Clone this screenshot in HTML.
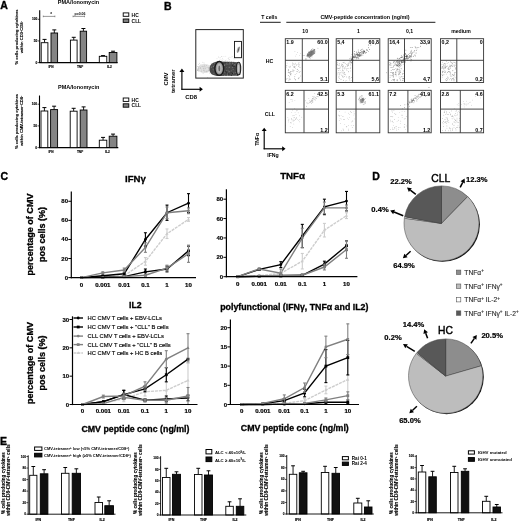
<!DOCTYPE html>
<html><head><meta charset="utf-8"><style>
html,body{margin:0;padding:0;background:#fff;}
body{width:520px;height:521px;overflow:hidden;}
svg{display:block;}
svg text{font-family:"Liberation Sans", Arial, sans-serif;}
</style></head><body>
<svg width="520" height="521" viewBox="0 0 520 521">
<rect width="520" height="521" fill="#fff"/>
<g>
<text x="0.2" y="9.2" font-size="10.5" font-weight="bold" text-anchor="start" fill="#000" stroke="#000" stroke-width="0.35">A</text>
<text x="78.5" y="4.3" font-size="5.5" font-weight="bold" text-anchor="middle" fill="#000">PMA/Ionomycin</text>
<line x1="39.7" y1="10.2" x2="39.7" y2="63.1" stroke="#000" stroke-width="1.1"/>
<line x1="39.2" y1="62.6" x2="117.6" y2="62.6" stroke="#000" stroke-width="1.1"/>
<line x1="37.7" y1="62.6" x2="39.7" y2="62.6" stroke="#000" stroke-width="0.7"/>
<text x="37.3" y="63.75" font-size="3.2" font-weight="bold" text-anchor="end" fill="#000" stroke="#000" stroke-width="0.12">0</text>
<line x1="37.7" y1="40.95" x2="39.7" y2="40.95" stroke="#000" stroke-width="0.7"/>
<text x="37.3" y="42.1" font-size="3.2" font-weight="bold" text-anchor="end" fill="#000" stroke="#000" stroke-width="0.12">50</text>
<line x1="37.7" y1="19.3" x2="39.7" y2="19.3" stroke="#000" stroke-width="0.7"/>
<text x="37.3" y="20.45" font-size="3.2" font-weight="bold" text-anchor="end" fill="#000" stroke="#000" stroke-width="0.12">100</text>
<line x1="44.55" y1="42.7" x2="44.55" y2="39.4" stroke="#000" stroke-width="0.9"/>
<line x1="42.55" y1="39.4" x2="46.55" y2="39.4" stroke="#000" stroke-width="1"/>
<rect x="41.2" y="42.7" width="6.7" height="19.9" fill="#fff" stroke="#000" stroke-width="0.9"/>
<line x1="54.3" y1="33" x2="54.3" y2="29.9" stroke="#000" stroke-width="0.9"/>
<line x1="52.3" y1="29.9" x2="56.3" y2="29.9" stroke="#000" stroke-width="1"/>
<rect x="51" y="33" width="6.6" height="29.6" fill="#848484" stroke="#000" stroke-width="0.9"/>
<line x1="73.75" y1="40.1" x2="73.75" y2="37.3" stroke="#000" stroke-width="0.9"/>
<line x1="71.75" y1="37.3" x2="75.75" y2="37.3" stroke="#000" stroke-width="1"/>
<rect x="70.4" y="40.1" width="6.7" height="22.5" fill="#fff" stroke="#000" stroke-width="0.9"/>
<line x1="83.4" y1="31.2" x2="83.4" y2="28.5" stroke="#000" stroke-width="0.9"/>
<line x1="81.4" y1="28.5" x2="85.4" y2="28.5" stroke="#000" stroke-width="1"/>
<rect x="80.2" y="31.2" width="6.4" height="31.4" fill="#848484" stroke="#000" stroke-width="0.9"/>
<line x1="103.05" y1="56.3" x2="103.05" y2="55.6" stroke="#000" stroke-width="0.9"/>
<line x1="101.05" y1="55.6" x2="105.05" y2="55.6" stroke="#000" stroke-width="1"/>
<rect x="99.3" y="56.3" width="7.5" height="6.3" fill="#fff" stroke="#000" stroke-width="0.9"/>
<line x1="113.05" y1="52.5" x2="113.05" y2="51.2" stroke="#000" stroke-width="0.9"/>
<line x1="111.05" y1="51.2" x2="115.05" y2="51.2" stroke="#000" stroke-width="1"/>
<rect x="109.2" y="52.5" width="7.7" height="10.1" fill="#848484" stroke="#000" stroke-width="0.9"/>
<text x="51" y="67.6" font-size="3.2" font-weight="bold" text-anchor="middle" fill="#000" stroke="#000" stroke-width="0.12">IFN</text>
<text x="80" y="67.6" font-size="3.2" font-weight="bold" text-anchor="middle" fill="#000" stroke="#000" stroke-width="0.12">TNF</text>
<text x="109.5" y="67.6" font-size="3.2" font-weight="bold" text-anchor="middle" fill="#000" stroke="#000" stroke-width="0.12">IL2</text>
<line x1="43.3" y1="16.4" x2="54.9" y2="16.4" stroke="#555" stroke-width="0.6"/>
<line x1="43.3" y1="15.6" x2="43.3" y2="17.2" stroke="#555" stroke-width="0.6"/>
<line x1="54.9" y1="15.6" x2="54.9" y2="17.2" stroke="#555" stroke-width="0.6"/>
<text x="51.2" y="15.8" font-size="4.5" font-weight="bold" text-anchor="middle" fill="#000">*</text>
<line x1="73" y1="16.4" x2="84.5" y2="16.4" stroke="#555" stroke-width="0.6"/>
<line x1="73" y1="15.6" x2="73" y2="17.2" stroke="#555" stroke-width="0.6"/>
<line x1="84.5" y1="15.6" x2="84.5" y2="17.2" stroke="#555" stroke-width="0.6"/>
<text x="80" y="14.9" font-size="3.5" font-weight="bold" text-anchor="middle" fill="#000">p=0.06</text>
<rect x="123.2" y="12.9" width="5.6" height="3.4" fill="#fff" stroke="#000" stroke-width="0.9"/>
<rect x="123.2" y="19" width="5.6" height="3.4" fill="#848484" stroke="#000" stroke-width="0.9"/>
<text x="131.6" y="16.5" font-size="4.9" font-weight="bold" text-anchor="start" fill="#000">HC</text>
<text x="131.6" y="22.6" font-size="4.9" font-weight="bold" text-anchor="start" fill="#000">CLL</text>
<text x="18" y="36.9" font-size="4.1" font-weight="bold" text-anchor="middle" fill="#000" transform="rotate(-90 18 36.9)" stroke="#000" stroke-width="0.1">% cells producing cytokines</text>
<text x="23.3" y="37.2" font-size="4.1" font-weight="bold" text-anchor="middle" fill="#000" transform="rotate(-90 23.3 37.2)" stroke="#000" stroke-width="0.1">within CD3<tspan dy="-1" font-size="2.3">+</tspan><tspan dy="1">CD8</tspan><tspan dy="-1" font-size="2.3">+</tspan></text>
<text x="78.7" y="88.9" font-size="5.5" font-weight="bold" text-anchor="middle" fill="#000">PMA/Ionomycin</text>
<line x1="39.5" y1="95.5" x2="39.5" y2="148.1" stroke="#000" stroke-width="1.1"/>
<line x1="39" y1="147.6" x2="118.3" y2="147.6" stroke="#000" stroke-width="1.1"/>
<line x1="37.5" y1="147.6" x2="39.5" y2="147.6" stroke="#000" stroke-width="0.7"/>
<text x="37.1" y="148.75" font-size="3.2" font-weight="bold" text-anchor="end" fill="#000" stroke="#000" stroke-width="0.12">0</text>
<line x1="37.5" y1="125.9" x2="39.5" y2="125.9" stroke="#000" stroke-width="0.7"/>
<text x="37.1" y="127.05" font-size="3.2" font-weight="bold" text-anchor="end" fill="#000" stroke="#000" stroke-width="0.12">50</text>
<line x1="37.5" y1="104.2" x2="39.5" y2="104.2" stroke="#000" stroke-width="0.7"/>
<text x="37.1" y="105.35" font-size="3.2" font-weight="bold" text-anchor="end" fill="#000" stroke="#000" stroke-width="0.12">100</text>
<line x1="44.4" y1="111" x2="44.4" y2="107.6" stroke="#000" stroke-width="0.9"/>
<line x1="42.4" y1="107.6" x2="46.4" y2="107.6" stroke="#000" stroke-width="1"/>
<rect x="41" y="111" width="6.8" height="36.6" fill="#fff" stroke="#000" stroke-width="0.9"/>
<line x1="54.1" y1="109.6" x2="54.1" y2="106.2" stroke="#000" stroke-width="0.9"/>
<line x1="52.1" y1="106.2" x2="56.1" y2="106.2" stroke="#000" stroke-width="1"/>
<rect x="50.6" y="109.6" width="7" height="38" fill="#848484" stroke="#000" stroke-width="0.9"/>
<line x1="73.65" y1="111.2" x2="73.65" y2="108.3" stroke="#000" stroke-width="0.9"/>
<line x1="71.65" y1="108.3" x2="75.65" y2="108.3" stroke="#000" stroke-width="1"/>
<rect x="70.2" y="111.2" width="6.9" height="36.4" fill="#fff" stroke="#000" stroke-width="0.9"/>
<line x1="83.6" y1="110" x2="83.6" y2="106.9" stroke="#000" stroke-width="0.9"/>
<line x1="81.6" y1="106.9" x2="85.6" y2="106.9" stroke="#000" stroke-width="1"/>
<rect x="80.2" y="110" width="6.8" height="37.6" fill="#848484" stroke="#000" stroke-width="0.9"/>
<line x1="103.05" y1="140.2" x2="103.05" y2="137.4" stroke="#000" stroke-width="0.9"/>
<line x1="101.05" y1="137.4" x2="105.05" y2="137.4" stroke="#000" stroke-width="1"/>
<rect x="99.3" y="140.2" width="7.5" height="7.4" fill="#fff" stroke="#000" stroke-width="0.9"/>
<line x1="113.05" y1="136.2" x2="113.05" y2="134.1" stroke="#000" stroke-width="0.9"/>
<line x1="111.05" y1="134.1" x2="115.05" y2="134.1" stroke="#000" stroke-width="1"/>
<rect x="109.2" y="136.2" width="7.7" height="11.4" fill="#848484" stroke="#000" stroke-width="0.9"/>
<text x="51" y="152.6" font-size="3.2" font-weight="bold" text-anchor="middle" fill="#000" stroke="#000" stroke-width="0.12">IFN</text>
<text x="80" y="152.6" font-size="3.2" font-weight="bold" text-anchor="middle" fill="#000" stroke="#000" stroke-width="0.12">TNF</text>
<text x="107.5" y="152.6" font-size="3.2" font-weight="bold" text-anchor="middle" fill="#000" stroke="#000" stroke-width="0.12">IL2</text>
<rect x="123.2" y="98" width="5.6" height="3.4" fill="#fff" stroke="#000" stroke-width="0.9"/>
<rect x="123.2" y="103.8" width="5.6" height="3.4" fill="#848484" stroke="#000" stroke-width="0.9"/>
<text x="131.6" y="101.6" font-size="4.9" font-weight="bold" text-anchor="start" fill="#000">HC</text>
<text x="131.6" y="107.4" font-size="4.9" font-weight="bold" text-anchor="start" fill="#000">CLL</text>
<text x="18" y="121.5" font-size="4.1" font-weight="bold" text-anchor="middle" fill="#000" transform="rotate(-90 18 121.5)" stroke="#000" stroke-width="0.1">% cells producing cytokines</text>
<text x="23.3" y="120.8" font-size="4.1" font-weight="bold" text-anchor="middle" fill="#000" transform="rotate(-90 23.3 120.8)" stroke="#000" stroke-width="0.1">within CMV-tetramer<tspan dy="-1" font-size="2.3">+</tspan><tspan dy="1">CD8</tspan><tspan dy="-1" font-size="2.3">+</tspan></text>
</g>
<defs><filter id="bl1" x="-20%" y="-20%" width="140%" height="140%"><feGaussianBlur stdDeviation="0.6"/></filter><filter id="bl2" x="-30%" y="-30%" width="160%" height="160%"><feGaussianBlur stdDeviation="1.2"/></filter></defs>
<text x="164" y="9.6" font-size="10.5" font-weight="bold" text-anchor="start" fill="#000" stroke="#000" stroke-width="0.35">B</text>
<g>
<ellipse cx="204.5" cy="68.5" rx="7" ry="4.6" fill="#e2e2e2" filter="url(#bl1)"/>
<circle cx="204.06" cy="63.01" r="0.45" fill="#c4c4c4"/>
<circle cx="204.05" cy="66.33" r="0.45" fill="#ccc"/>
<circle cx="200.18" cy="64.84" r="0.45" fill="#ccc"/>
<circle cx="198.86" cy="68.23" r="0.45" fill="#aaa"/>
<circle cx="199.56" cy="63.19" r="0.45" fill="#bbb"/>
<circle cx="206.13" cy="67.18" r="0.45" fill="#c4c4c4"/>
<circle cx="211.49" cy="66.46" r="0.45" fill="#ccc"/>
<circle cx="206.54" cy="65.54" r="0.45" fill="#bbb"/>
<circle cx="198.36" cy="69.21" r="0.45" fill="#bbb"/>
<circle cx="208.78" cy="70.3" r="0.45" fill="#aaa"/>
<circle cx="203.89" cy="70.23" r="0.45" fill="#aaa"/>
<circle cx="204.75" cy="65.87" r="0.45" fill="#bbb"/>
<circle cx="204.13" cy="66.91" r="0.45" fill="#bbb"/>
<circle cx="207.76" cy="77.41" r="0.45" fill="#aaa"/>
<circle cx="208.49" cy="67.86" r="0.45" fill="#bbb"/>
<circle cx="203.31" cy="68.45" r="0.45" fill="#aaa"/>
<circle cx="203.1" cy="73.37" r="0.45" fill="#bbb"/>
<circle cx="200.6" cy="67.19" r="0.45" fill="#bbb"/>
<circle cx="204.31" cy="71.1" r="0.45" fill="#bbb"/>
<circle cx="205.71" cy="68.18" r="0.45" fill="#ccc"/>
<circle cx="208.79" cy="68.36" r="0.45" fill="#aaa"/>
<circle cx="197.72" cy="69.6" r="0.45" fill="#c4c4c4"/>
<circle cx="208.49" cy="69.94" r="0.45" fill="#bbb"/>
<circle cx="197.66" cy="69.82" r="0.45" fill="#c4c4c4"/>
<circle cx="209.06" cy="69.96" r="0.45" fill="#c4c4c4"/>
<circle cx="204.88" cy="71.49" r="0.45" fill="#ccc"/>
<circle cx="203.58" cy="66.56" r="0.45" fill="#ccc"/>
<circle cx="197.51" cy="70.24" r="0.45" fill="#aaa"/>
<circle cx="211.97" cy="70.16" r="0.45" fill="#bbb"/>
<circle cx="198.11" cy="68.71" r="0.45" fill="#ccc"/>
<circle cx="200.59" cy="68.27" r="0.45" fill="#aaa"/>
<circle cx="209.54" cy="72.97" r="0.45" fill="#c4c4c4"/>
<circle cx="198.56" cy="71.4" r="0.45" fill="#ccc"/>
<circle cx="197.72" cy="70.34" r="0.45" fill="#aaa"/>
<circle cx="202.89" cy="62.21" r="0.45" fill="#c4c4c4"/>
<circle cx="209.57" cy="70.41" r="0.45" fill="#ccc"/>
<circle cx="210.06" cy="69.12" r="0.45" fill="#ccc"/>
<circle cx="209.36" cy="69.87" r="0.45" fill="#ccc"/>
<circle cx="208.02" cy="70.49" r="0.45" fill="#ccc"/>
<circle cx="207.46" cy="71.57" r="0.45" fill="#c4c4c4"/>
<circle cx="210.29" cy="66.34" r="0.45" fill="#bbb"/>
<circle cx="199.08" cy="66.85" r="0.45" fill="#aaa"/>
<circle cx="200.96" cy="67.94" r="0.45" fill="#c4c4c4"/>
<circle cx="201.75" cy="66.58" r="0.45" fill="#ccc"/>
<circle cx="210.97" cy="69.84" r="0.45" fill="#c4c4c4"/>
<circle cx="205.61" cy="68.31" r="0.45" fill="#bbb"/>
<circle cx="201.56" cy="70.02" r="0.45" fill="#bbb"/>
<circle cx="198.5" cy="67.63" r="0.45" fill="#c4c4c4"/>
<circle cx="203.96" cy="70" r="0.45" fill="#aaa"/>
<circle cx="205.2" cy="69.1" r="0.45" fill="#ccc"/>
<circle cx="198.84" cy="70.33" r="0.45" fill="#aaa"/>
<circle cx="207.03" cy="70.67" r="0.45" fill="#ccc"/>
<circle cx="206.05" cy="71.12" r="0.45" fill="#aaa"/>
<circle cx="207.66" cy="67.14" r="0.45" fill="#bbb"/>
<circle cx="197.81" cy="66.54" r="0.45" fill="#aaa"/>
<circle cx="202.12" cy="66.25" r="0.45" fill="#bbb"/>
<circle cx="198.59" cy="64.43" r="0.45" fill="#ccc"/>
<circle cx="209" cy="67.29" r="0.45" fill="#aaa"/>
<circle cx="202.6" cy="66.28" r="0.45" fill="#c4c4c4"/>
<circle cx="211.19" cy="63.37" r="0.45" fill="#bbb"/>
<circle cx="210.02" cy="65.23" r="0.45" fill="#c4c4c4"/>
<circle cx="203" cy="66.89" r="0.45" fill="#bbb"/>
<circle cx="206.33" cy="71.75" r="0.45" fill="#aaa"/>
<circle cx="210.26" cy="70.29" r="0.45" fill="#aaa"/>
<circle cx="203.13" cy="68.18" r="0.45" fill="#c4c4c4"/>
<circle cx="204.21" cy="65.09" r="0.45" fill="#bbb"/>
<circle cx="205.02" cy="66.27" r="0.45" fill="#bbb"/>
<circle cx="204.47" cy="68.3" r="0.45" fill="#ccc"/>
<circle cx="211.38" cy="71.93" r="0.45" fill="#c4c4c4"/>
<circle cx="201.21" cy="71.45" r="0.45" fill="#bbb"/>
<circle cx="222.09" cy="56.86" r="0.4" fill="#ddd"/>
<circle cx="218.46" cy="57.02" r="0.4" fill="#bbb"/>
<circle cx="228.52" cy="58.65" r="0.4" fill="#ccc"/>
<circle cx="221.19" cy="60" r="0.4" fill="#ccc"/>
<circle cx="227.95" cy="60.82" r="0.4" fill="#ccc"/>
<circle cx="233.37" cy="58.31" r="0.4" fill="#ddd"/>
<circle cx="234.26" cy="57.26" r="0.4" fill="#ccc"/>
<circle cx="224.92" cy="61.02" r="0.4" fill="#ccc"/>
<circle cx="229.65" cy="61.7" r="0.4" fill="#bbb"/>
<circle cx="232.08" cy="56.68" r="0.4" fill="#bbb"/>
<circle cx="220.05" cy="57.28" r="0.4" fill="#bbb"/>
<circle cx="222.42" cy="59.12" r="0.4" fill="#ddd"/>
<circle cx="220.94" cy="61.03" r="0.4" fill="#ddd"/>
<circle cx="223.95" cy="56.45" r="0.4" fill="#ccc"/>
<circle cx="220.12" cy="59.65" r="0.4" fill="#ddd"/>
<circle cx="229.59" cy="59.42" r="0.4" fill="#bbb"/>
<circle cx="228.28" cy="59.38" r="0.4" fill="#ddd"/>
<circle cx="216.99" cy="58.73" r="0.4" fill="#ccc"/>
<circle cx="230.92" cy="57.6" r="0.4" fill="#ccc"/>
<circle cx="231.53" cy="61.9" r="0.4" fill="#ccc"/>
<circle cx="223.82" cy="59.78" r="0.4" fill="#ddd"/>
<circle cx="228.08" cy="58.21" r="0.4" fill="#ccc"/>
<circle cx="229.06" cy="57.2" r="0.4" fill="#bbb"/>
<circle cx="219.63" cy="60.29" r="0.4" fill="#bbb"/>
<circle cx="225.77" cy="56.22" r="0.4" fill="#ccc"/>
<circle cx="219.99" cy="58.07" r="0.4" fill="#ddd"/>
<circle cx="234.83" cy="59" r="0.4" fill="#ccc"/>
<circle cx="222.66" cy="60.75" r="0.4" fill="#ccc"/>
<circle cx="215.92" cy="61.6" r="0.4" fill="#ddd"/>
<circle cx="222.54" cy="58.7" r="0.4" fill="#ccc"/>
<circle cx="227.76" cy="61.46" r="0.4" fill="#bbb"/>
<circle cx="226.1" cy="59.92" r="0.4" fill="#ddd"/>
<circle cx="231.53" cy="61.67" r="0.4" fill="#bbb"/>
<circle cx="221.18" cy="61.89" r="0.4" fill="#ccc"/>
<circle cx="229.88" cy="60.91" r="0.4" fill="#ddd"/>
<circle cx="234.33" cy="56.74" r="0.4" fill="#ccc"/>
<circle cx="233.8" cy="61.88" r="0.4" fill="#bbb"/>
<circle cx="225.81" cy="60.74" r="0.4" fill="#bbb"/>
<circle cx="219.76" cy="60.31" r="0.4" fill="#ccc"/>
<circle cx="221.67" cy="56.5" r="0.4" fill="#bbb"/>
<path d="M209.5,69 C209.5,63.5 214,61.5 219,61.5 L236,62 C240,62.5 241,65 241,68.5 C241,73 240,75.8 236,75.8 L219,76 C213,76 209.5,74 209.5,69 z" fill="#4a4a4a" filter="url(#bl1)"/>
<circle cx="220.92" cy="67.98" r="0.55" fill="#666"/>
<circle cx="225.14" cy="62.87" r="0.55" fill="#222"/>
<circle cx="223.44" cy="62.96" r="0.55" fill="#444"/>
<circle cx="220.72" cy="72.74" r="0.55" fill="#333"/>
<circle cx="224.65" cy="75.5" r="0.55" fill="#888"/>
<circle cx="226.03" cy="71.31" r="0.55" fill="#777"/>
<circle cx="238.43" cy="68.9" r="0.55" fill="#888"/>
<circle cx="213.49" cy="65.38" r="0.55" fill="#444"/>
<circle cx="227.2" cy="73.31" r="0.55" fill="#444"/>
<circle cx="229.53" cy="69.3" r="0.55" fill="#444"/>
<circle cx="218.44" cy="71.23" r="0.55" fill="#444"/>
<circle cx="217.04" cy="73.56" r="0.55" fill="#444"/>
<circle cx="226.2" cy="69.95" r="0.55" fill="#333"/>
<circle cx="222.92" cy="63.99" r="0.55" fill="#222"/>
<circle cx="228.55" cy="62.86" r="0.55" fill="#222"/>
<circle cx="225.96" cy="67.71" r="0.55" fill="#444"/>
<circle cx="214.54" cy="63.71" r="0.55" fill="#333"/>
<circle cx="212.91" cy="69.5" r="0.55" fill="#777"/>
<circle cx="237.7" cy="72.91" r="0.55" fill="#777"/>
<circle cx="218.81" cy="68.65" r="0.55" fill="#333"/>
<circle cx="220.85" cy="74.21" r="0.55" fill="#777"/>
<circle cx="226.22" cy="63.91" r="0.55" fill="#777"/>
<circle cx="228.92" cy="74.53" r="0.55" fill="#333"/>
<circle cx="231.36" cy="75.2" r="0.55" fill="#222"/>
<circle cx="216.63" cy="65.45" r="0.55" fill="#888"/>
<circle cx="219.24" cy="71.91" r="0.55" fill="#333"/>
<circle cx="228.97" cy="63.86" r="0.55" fill="#888"/>
<circle cx="227.88" cy="73.57" r="0.55" fill="#444"/>
<circle cx="218.27" cy="65.07" r="0.55" fill="#444"/>
<circle cx="236.48" cy="62.8" r="0.55" fill="#888"/>
<circle cx="222.99" cy="69.38" r="0.55" fill="#333"/>
<circle cx="226.61" cy="73.73" r="0.55" fill="#444"/>
<circle cx="229.52" cy="69.39" r="0.55" fill="#444"/>
<circle cx="228.74" cy="73.64" r="0.55" fill="#333"/>
<circle cx="237.53" cy="70.66" r="0.55" fill="#666"/>
<circle cx="237.18" cy="66.61" r="0.55" fill="#666"/>
<circle cx="236.83" cy="65.03" r="0.55" fill="#333"/>
<circle cx="236.74" cy="64.24" r="0.55" fill="#333"/>
<circle cx="214.84" cy="63.65" r="0.55" fill="#777"/>
<circle cx="213.81" cy="73.32" r="0.55" fill="#777"/>
<circle cx="226.76" cy="71.66" r="0.55" fill="#333"/>
<circle cx="222.68" cy="71.41" r="0.55" fill="#222"/>
<circle cx="213.79" cy="69.91" r="0.55" fill="#666"/>
<circle cx="237.43" cy="75.09" r="0.55" fill="#222"/>
<circle cx="231.44" cy="70.75" r="0.55" fill="#666"/>
<circle cx="225.58" cy="71.41" r="0.55" fill="#333"/>
<circle cx="234.28" cy="68.77" r="0.55" fill="#222"/>
<circle cx="212.09" cy="69.67" r="0.55" fill="#444"/>
<circle cx="237.25" cy="68.76" r="0.55" fill="#333"/>
<circle cx="216.35" cy="65.15" r="0.55" fill="#333"/>
<circle cx="239.72" cy="74.55" r="0.55" fill="#222"/>
<circle cx="227.81" cy="64.25" r="0.55" fill="#888"/>
<circle cx="224.4" cy="72.44" r="0.55" fill="#666"/>
<circle cx="222.34" cy="68.04" r="0.55" fill="#666"/>
<circle cx="223.47" cy="70.31" r="0.55" fill="#222"/>
<circle cx="229.39" cy="63.03" r="0.55" fill="#333"/>
<circle cx="216.26" cy="68.4" r="0.55" fill="#888"/>
<circle cx="221.74" cy="74.48" r="0.55" fill="#444"/>
<circle cx="215.79" cy="69.16" r="0.55" fill="#222"/>
<circle cx="220.39" cy="63.6" r="0.55" fill="#888"/>
<circle cx="236.39" cy="74.31" r="0.55" fill="#777"/>
<circle cx="227.52" cy="64.98" r="0.55" fill="#444"/>
<circle cx="239.5" cy="72.96" r="0.55" fill="#666"/>
<circle cx="219.11" cy="64.01" r="0.55" fill="#888"/>
<circle cx="233.56" cy="73.09" r="0.55" fill="#777"/>
<circle cx="214.86" cy="66.79" r="0.55" fill="#444"/>
<circle cx="231.15" cy="72.47" r="0.55" fill="#333"/>
<circle cx="222.77" cy="71.89" r="0.55" fill="#222"/>
<circle cx="234.12" cy="66.42" r="0.55" fill="#222"/>
<circle cx="211.31" cy="67.12" r="0.55" fill="#888"/>
<circle cx="237.18" cy="63.14" r="0.55" fill="#666"/>
<circle cx="238.4" cy="71.16" r="0.55" fill="#666"/>
<circle cx="217.27" cy="67.78" r="0.55" fill="#333"/>
<circle cx="226.46" cy="67.56" r="0.55" fill="#777"/>
<circle cx="229.63" cy="71.62" r="0.55" fill="#777"/>
<circle cx="239.42" cy="62.8" r="0.55" fill="#444"/>
<circle cx="214.13" cy="65.58" r="0.55" fill="#777"/>
<circle cx="222.65" cy="63.16" r="0.55" fill="#333"/>
<circle cx="229.79" cy="62.64" r="0.55" fill="#666"/>
<circle cx="218.28" cy="74.27" r="0.55" fill="#444"/>
<circle cx="226.67" cy="67.9" r="0.55" fill="#444"/>
<circle cx="227.47" cy="75.44" r="0.55" fill="#888"/>
<circle cx="223.89" cy="70.88" r="0.55" fill="#444"/>
<circle cx="228.33" cy="72.37" r="0.55" fill="#222"/>
<circle cx="222.21" cy="74.7" r="0.55" fill="#777"/>
<circle cx="224.68" cy="64.7" r="0.55" fill="#777"/>
<circle cx="226.72" cy="70.26" r="0.55" fill="#777"/>
<circle cx="238.41" cy="67.97" r="0.55" fill="#444"/>
<circle cx="222.56" cy="66.56" r="0.55" fill="#444"/>
<circle cx="219.29" cy="71.02" r="0.55" fill="#444"/>
<circle cx="237.95" cy="71.13" r="0.55" fill="#888"/>
<circle cx="219.59" cy="62.68" r="0.55" fill="#333"/>
<circle cx="227.99" cy="70.73" r="0.55" fill="#777"/>
<circle cx="232.88" cy="67.57" r="0.55" fill="#666"/>
<circle cx="232.7" cy="63.15" r="0.55" fill="#888"/>
<circle cx="238.39" cy="63.46" r="0.55" fill="#333"/>
<circle cx="223.46" cy="68.71" r="0.55" fill="#333"/>
<circle cx="212.32" cy="63.78" r="0.55" fill="#888"/>
<circle cx="237.37" cy="64.38" r="0.55" fill="#333"/>
<circle cx="228.51" cy="64" r="0.55" fill="#444"/>
<circle cx="223.1" cy="64.03" r="0.55" fill="#222"/>
<circle cx="221.34" cy="64.51" r="0.55" fill="#666"/>
<circle cx="223.84" cy="71.18" r="0.55" fill="#777"/>
<circle cx="228.43" cy="70.81" r="0.55" fill="#888"/>
<circle cx="223.17" cy="72.61" r="0.55" fill="#444"/>
<circle cx="234.64" cy="64.28" r="0.55" fill="#666"/>
<circle cx="232.29" cy="65.6" r="0.55" fill="#222"/>
<circle cx="225.59" cy="66.51" r="0.55" fill="#444"/>
<circle cx="229.12" cy="67.17" r="0.55" fill="#666"/>
<circle cx="228.68" cy="71.93" r="0.55" fill="#888"/>
<circle cx="228.16" cy="70.73" r="0.55" fill="#333"/>
<circle cx="216.5" cy="65.74" r="0.55" fill="#888"/>
<circle cx="237.56" cy="73.92" r="0.55" fill="#222"/>
<circle cx="229.22" cy="62.62" r="0.55" fill="#666"/>
<circle cx="223.33" cy="70.6" r="0.55" fill="#222"/>
<circle cx="217.45" cy="66.12" r="0.55" fill="#222"/>
<circle cx="237.47" cy="64.59" r="0.55" fill="#333"/>
<circle cx="229.3" cy="67.35" r="0.55" fill="#777"/>
<circle cx="221.27" cy="66.9" r="0.55" fill="#777"/>
<circle cx="232.6" cy="73.4" r="0.55" fill="#222"/>
<circle cx="234.27" cy="68.32" r="0.55" fill="#444"/>
<circle cx="235.3" cy="72.5" r="0.55" fill="#777"/>
<circle cx="223.31" cy="65.85" r="0.55" fill="#333"/>
<circle cx="221.7" cy="71" r="0.55" fill="#444"/>
<circle cx="220.44" cy="69.63" r="0.55" fill="#888"/>
<circle cx="234.96" cy="64.89" r="0.55" fill="#888"/>
<circle cx="221.71" cy="63.76" r="0.55" fill="#666"/>
<circle cx="213.28" cy="63.58" r="0.55" fill="#444"/>
<circle cx="227.47" cy="73.1" r="0.55" fill="#777"/>
<circle cx="219.67" cy="72.58" r="0.55" fill="#222"/>
<circle cx="219.99" cy="74.34" r="0.55" fill="#444"/>
<circle cx="213.37" cy="66.45" r="0.55" fill="#888"/>
<circle cx="233.16" cy="66.76" r="0.55" fill="#333"/>
<circle cx="217.34" cy="71.04" r="0.55" fill="#666"/>
<circle cx="221.63" cy="64.03" r="0.55" fill="#888"/>
<circle cx="223.79" cy="70.23" r="0.55" fill="#888"/>
<circle cx="237.49" cy="68.19" r="0.55" fill="#666"/>
<circle cx="224.29" cy="65.38" r="0.55" fill="#888"/>
<circle cx="236.95" cy="65.73" r="0.55" fill="#666"/>
<circle cx="235.03" cy="62.81" r="0.55" fill="#888"/>
<circle cx="222.47" cy="67.54" r="0.55" fill="#333"/>
<circle cx="232.43" cy="67.29" r="0.55" fill="#777"/>
<circle cx="226.68" cy="73.37" r="0.55" fill="#444"/>
<circle cx="216.14" cy="63.67" r="0.55" fill="#777"/>
<circle cx="236.55" cy="66.16" r="0.55" fill="#222"/>
<circle cx="217.42" cy="63.25" r="0.55" fill="#333"/>
<circle cx="227.46" cy="75.06" r="0.55" fill="#888"/>
<circle cx="235.41" cy="68" r="0.55" fill="#444"/>
<circle cx="226.86" cy="72.74" r="0.55" fill="#222"/>
<circle cx="220.7" cy="66.06" r="0.55" fill="#222"/>
<circle cx="237.07" cy="63.6" r="0.55" fill="#888"/>
<circle cx="229.95" cy="63.77" r="0.55" fill="#888"/>
<circle cx="223.24" cy="71.76" r="0.55" fill="#777"/>
<circle cx="233.2" cy="69.28" r="0.55" fill="#777"/>
<circle cx="222.44" cy="66.89" r="0.55" fill="#666"/>
<circle cx="230.5" cy="68.92" r="0.55" fill="#444"/>
<circle cx="234.34" cy="63.44" r="0.55" fill="#444"/>
<circle cx="237.53" cy="67.84" r="0.55" fill="#888"/>
<circle cx="221.13" cy="62.55" r="0.55" fill="#777"/>
<circle cx="235.18" cy="74.05" r="0.55" fill="#444"/>
<ellipse cx="219.3" cy="68.4" rx="4.4" ry="6.9" fill="#9a9a9a" stroke="#1a1a1a" stroke-width="1.4"/>
<ellipse cx="219.3" cy="68.4" rx="2.4" ry="4.6" fill="#b8b8b8"/>
<ellipse cx="219.3" cy="68.4" rx="0.9" ry="2.8" fill="#666"/>
<ellipse cx="238.5" cy="68.6" rx="2.2" ry="6.3" fill="#9f9f9f" stroke="#222" stroke-width="1.1"/>
<ellipse cx="238.5" cy="68.6" rx="0.8" ry="4" fill="#c8c8c8"/>
<rect x="234.5" y="41.4" width="7" height="16.3" fill="none" stroke="#111" stroke-width="0.9"/>
<ellipse cx="238.4" cy="49.8" rx="0.9" ry="3.2" fill="#555" transform="rotate(18 238.4 49.8)" filter="url(#bl1)"/>
<rect x="195.8" y="29.6" width="47.5" height="48.5" fill="none" stroke="#222" stroke-width="1"/>
</g>
<line x1="181.9" y1="89.85" x2="181.9" y2="71.2" stroke="#000" stroke-width="1.15"/>
<line x1="181.35" y1="89.3" x2="200.3" y2="89.3" stroke="#000" stroke-width="1.15"/>
<path d="M181.9,68.6 L179.4,71.9 L184.4,71.9 z" fill="#000"/>
<path d="M202.9,89.3 L199.6,86.8 L199.6,91.8 z" fill="#000"/>
<text x="167.9" y="79" font-size="5.9" font-weight="bold" text-anchor="middle" fill="#000" transform="rotate(-90 167.9 79)">CMV</text>
<text x="175.2" y="81.3" font-size="5.9" font-weight="bold" text-anchor="middle" fill="#000" transform="rotate(-90 175.2 81.3)">tetramer</text>
<text x="191.1" y="98.5" font-size="5.9" font-weight="bold" text-anchor="middle" fill="#000">CD8</text>
<text x="261.2" y="19.2" font-size="5.2" font-weight="bold" text-anchor="start" fill="#000">T cells</text>
<line x1="260" y1="22.3" x2="280.7" y2="22.3" stroke="#000" stroke-width="0.9"/>
<line x1="286.3" y1="22.3" x2="435.4" y2="22.3" stroke="#000" stroke-width="0.9"/>
<text x="365" y="19.2" font-size="5.4" font-weight="bold" text-anchor="middle" fill="#000">CMV-peptide concentration (ng/ml)</text>
<text x="305.2" y="33.4" font-size="5.1" font-weight="bold" text-anchor="middle" fill="#000">10</text>
<text x="358.3" y="33.4" font-size="5.1" font-weight="bold" text-anchor="middle" fill="#000">1</text>
<text x="409.5" y="33.4" font-size="5.1" font-weight="bold" text-anchor="middle" fill="#000">0,1</text>
<text x="461" y="33.4" font-size="5.1" font-weight="bold" text-anchor="middle" fill="#000">medium</text>
<text x="269.5" y="63.2" font-size="5.2" font-weight="bold" text-anchor="middle" fill="#000">HC</text>
<text x="269.8" y="116" font-size="5.2" font-weight="bold" text-anchor="middle" fill="#000">CLL</text>
<ellipse cx="311" cy="53.5" rx="4.8" ry="2.6" transform="rotate(-40 311 53.5)" fill="#888" filter="url(#bl1)"/>
<circle cx="307.66" cy="54.39" r="0.42" fill="#555"/>
<circle cx="310.21" cy="51.9" r="0.42" fill="#888"/>
<circle cx="311.6" cy="51.94" r="0.42" fill="#666"/>
<circle cx="312.71" cy="51.62" r="0.42" fill="#666"/>
<circle cx="310.48" cy="55.78" r="0.42" fill="#777"/>
<circle cx="312.01" cy="56.9" r="0.42" fill="#888"/>
<circle cx="310.59" cy="54.73" r="0.42" fill="#666"/>
<circle cx="310.06" cy="52.85" r="0.42" fill="#555"/>
<circle cx="310.31" cy="53.57" r="0.42" fill="#888"/>
<circle cx="310.88" cy="53.13" r="0.42" fill="#555"/>
<circle cx="312.19" cy="54.18" r="0.42" fill="#666"/>
<circle cx="307.64" cy="55.02" r="0.42" fill="#666"/>
<circle cx="306.69" cy="59.01" r="0.42" fill="#888"/>
<circle cx="313.97" cy="53.82" r="0.42" fill="#777"/>
<circle cx="304.73" cy="55.44" r="0.42" fill="#888"/>
<circle cx="311.13" cy="51.21" r="0.42" fill="#888"/>
<circle cx="311.83" cy="51.54" r="0.42" fill="#555"/>
<circle cx="308.94" cy="55.42" r="0.42" fill="#555"/>
<circle cx="311.33" cy="54.18" r="0.42" fill="#888"/>
<circle cx="314.33" cy="49.65" r="0.42" fill="#777"/>
<circle cx="310.32" cy="53.23" r="0.42" fill="#666"/>
<circle cx="312.82" cy="48.85" r="0.42" fill="#777"/>
<circle cx="309.08" cy="55.63" r="0.42" fill="#888"/>
<circle cx="309.03" cy="54.38" r="0.42" fill="#666"/>
<circle cx="310.08" cy="52.98" r="0.42" fill="#666"/>
<circle cx="303.07" cy="55.49" r="0.42" fill="#777"/>
<circle cx="309.7" cy="54.48" r="0.42" fill="#666"/>
<circle cx="314.86" cy="49.77" r="0.42" fill="#666"/>
<circle cx="310.52" cy="52.97" r="0.42" fill="#777"/>
<circle cx="307.46" cy="54.86" r="0.42" fill="#888"/>
<circle cx="309.74" cy="53.66" r="0.42" fill="#777"/>
<circle cx="312.08" cy="52.49" r="0.42" fill="#666"/>
<circle cx="311.15" cy="52.72" r="0.42" fill="#888"/>
<circle cx="312.58" cy="54.51" r="0.42" fill="#888"/>
<circle cx="314.65" cy="53.39" r="0.42" fill="#777"/>
<circle cx="310.55" cy="55.79" r="0.42" fill="#777"/>
<circle cx="313.94" cy="50.54" r="0.42" fill="#555"/>
<circle cx="309.51" cy="57.29" r="0.42" fill="#555"/>
<circle cx="307.34" cy="53.89" r="0.42" fill="#555"/>
<circle cx="310.15" cy="53.84" r="0.42" fill="#888"/>
<circle cx="308.66" cy="53.1" r="0.42" fill="#777"/>
<circle cx="307.64" cy="55.51" r="0.42" fill="#555"/>
<circle cx="311.64" cy="49.42" r="0.42" fill="#666"/>
<circle cx="311.23" cy="52.39" r="0.42" fill="#888"/>
<circle cx="313.4" cy="49.7" r="0.42" fill="#777"/>
<circle cx="309.2" cy="52.22" r="0.42" fill="#555"/>
<circle cx="311.16" cy="54.64" r="0.42" fill="#555"/>
<circle cx="310.11" cy="58.79" r="0.42" fill="#888"/>
<circle cx="309.19" cy="53.08" r="0.42" fill="#888"/>
<circle cx="311.91" cy="53.15" r="0.42" fill="#555"/>
<circle cx="313.87" cy="52.93" r="0.42" fill="#666"/>
<circle cx="312.51" cy="53.93" r="0.42" fill="#888"/>
<circle cx="309.39" cy="54.31" r="0.42" fill="#666"/>
<circle cx="317.93" cy="48.18" r="0.42" fill="#888"/>
<circle cx="309.98" cy="54.76" r="0.42" fill="#888"/>
<circle cx="311.38" cy="52.45" r="0.42" fill="#666"/>
<circle cx="308.95" cy="51.21" r="0.42" fill="#888"/>
<circle cx="305.52" cy="58.98" r="0.42" fill="#555"/>
<circle cx="308.55" cy="52.64" r="0.42" fill="#777"/>
<circle cx="314.39" cy="49.74" r="0.42" fill="#555"/>
<circle cx="311.1" cy="54.65" r="0.42" fill="#777"/>
<circle cx="309.43" cy="53.95" r="0.42" fill="#888"/>
<circle cx="312.03" cy="54.26" r="0.42" fill="#777"/>
<circle cx="310.63" cy="51" r="0.42" fill="#666"/>
<circle cx="311.79" cy="55.32" r="0.42" fill="#777"/>
<circle cx="308.11" cy="55.42" r="0.42" fill="#666"/>
<circle cx="308.78" cy="54.75" r="0.42" fill="#666"/>
<circle cx="309.9" cy="54.15" r="0.42" fill="#666"/>
<circle cx="310.13" cy="52.98" r="0.42" fill="#888"/>
<circle cx="306.51" cy="55.95" r="0.42" fill="#777"/>
<circle cx="287.78" cy="78.64" r="0.4" fill="#aaa"/>
<circle cx="292.98" cy="64.79" r="0.4" fill="#999"/>
<circle cx="289.84" cy="73.03" r="0.4" fill="#888"/>
<circle cx="294.34" cy="67.39" r="0.4" fill="#aaa"/>
<circle cx="294.92" cy="64.77" r="0.4" fill="#888"/>
<circle cx="290.54" cy="79.09" r="0.4" fill="#999"/>
<circle cx="297.12" cy="69.22" r="0.4" fill="#999"/>
<circle cx="289.1" cy="72.64" r="0.4" fill="#888"/>
<circle cx="292.86" cy="69.96" r="0.4" fill="#999"/>
<circle cx="290.81" cy="74.92" r="0.4" fill="#777"/>
<circle cx="295.11" cy="74.35" r="0.4" fill="#888"/>
<circle cx="288.72" cy="70.12" r="0.4" fill="#888"/>
<circle cx="288.5" cy="69.65" r="0.4" fill="#777"/>
<circle cx="288.93" cy="72.12" r="0.4" fill="#aaa"/>
<circle cx="289.92" cy="79.74" r="0.4" fill="#888"/>
<circle cx="295.48" cy="63.2" r="0.4" fill="#999"/>
<circle cx="292.14" cy="71.7" r="0.4" fill="#888"/>
<circle cx="293.08" cy="70.11" r="0.4" fill="#777"/>
<circle cx="297.02" cy="71.49" r="0.4" fill="#777"/>
<circle cx="298.24" cy="78.32" r="0.4" fill="#777"/>
<circle cx="298.05" cy="64.67" r="0.4" fill="#888"/>
<circle cx="299.17" cy="72.23" r="0.4" fill="#777"/>
<circle cx="292.38" cy="62.95" r="0.4" fill="#888"/>
<circle cx="290.64" cy="73.9" r="0.4" fill="#777"/>
<circle cx="296.75" cy="73.55" r="0.4" fill="#aaa"/>
<circle cx="298.86" cy="78.73" r="0.4" fill="#999"/>
<circle cx="288.24" cy="70.77" r="0.4" fill="#777"/>
<circle cx="300.12" cy="71.3" r="0.4" fill="#888"/>
<circle cx="293.87" cy="66.92" r="0.4" fill="#aaa"/>
<circle cx="295.7" cy="79.89" r="0.4" fill="#888"/>
<circle cx="300.49" cy="76.02" r="0.4" fill="#aaa"/>
<circle cx="298.63" cy="70.3" r="0.4" fill="#999"/>
<circle cx="289.6" cy="76.31" r="0.4" fill="#888"/>
<circle cx="299.15" cy="64.32" r="0.4" fill="#999"/>
<circle cx="288.23" cy="72.45" r="0.4" fill="#777"/>
<circle cx="286.51" cy="67.01" r="0.4" fill="#aaa"/>
<circle cx="286.83" cy="65.68" r="0.4" fill="#777"/>
<circle cx="299.03" cy="77.59" r="0.4" fill="#777"/>
<circle cx="288.48" cy="75.31" r="0.4" fill="#999"/>
<circle cx="287.14" cy="63.08" r="0.4" fill="#aaa"/>
<circle cx="290.81" cy="71.72" r="0.4" fill="#777"/>
<circle cx="298.8" cy="66.25" r="0.4" fill="#888"/>
<circle cx="289.24" cy="78" r="0.4" fill="#aaa"/>
<circle cx="299.09" cy="62.8" r="0.4" fill="#999"/>
<circle cx="293.96" cy="66.87" r="0.4" fill="#888"/>
<circle cx="295.6" cy="68.16" r="0.4" fill="#aaa"/>
<circle cx="299.96" cy="67.57" r="0.4" fill="#777"/>
<circle cx="296.48" cy="65" r="0.4" fill="#777"/>
<circle cx="292.31" cy="65.63" r="0.4" fill="#aaa"/>
<circle cx="288.19" cy="75.29" r="0.4" fill="#aaa"/>
<circle cx="289.03" cy="66.86" r="0.4" fill="#aaa"/>
<circle cx="297.57" cy="69.39" r="0.4" fill="#888"/>
<circle cx="294.76" cy="66.74" r="0.4" fill="#aaa"/>
<circle cx="299.04" cy="65.84" r="0.4" fill="#999"/>
<circle cx="290.38" cy="74.34" r="0.4" fill="#888"/>
<circle cx="292.98" cy="63.91" r="0.4" fill="#888"/>
<circle cx="293.93" cy="63.34" r="0.4" fill="#aaa"/>
<circle cx="294.02" cy="70.33" r="0.4" fill="#888"/>
<circle cx="288.8" cy="80.78" r="0.4" fill="#999"/>
<circle cx="289.94" cy="67.66" r="0.4" fill="#888"/>
<circle cx="289.11" cy="79.1" r="0.4" fill="#888"/>
<circle cx="295.21" cy="79.45" r="0.4" fill="#777"/>
<circle cx="286.54" cy="78.99" r="0.4" fill="#888"/>
<circle cx="289.02" cy="72.79" r="0.4" fill="#aaa"/>
<circle cx="290.99" cy="71.44" r="0.4" fill="#888"/>
<circle cx="293.73" cy="71.85" r="0.4" fill="#999"/>
<circle cx="294.81" cy="76.77" r="0.4" fill="#888"/>
<circle cx="295.01" cy="66.85" r="0.4" fill="#777"/>
<circle cx="294.17" cy="67.24" r="0.4" fill="#999"/>
<circle cx="290.14" cy="72.57" r="0.4" fill="#777"/>
<circle cx="290.16" cy="66.25" r="0.4" fill="#888"/>
<circle cx="294.52" cy="78.65" r="0.4" fill="#999"/>
<circle cx="291.05" cy="73.75" r="0.4" fill="#777"/>
<circle cx="297.79" cy="71.82" r="0.4" fill="#aaa"/>
<circle cx="298.49" cy="63.07" r="0.4" fill="#888"/>
<circle cx="300.25" cy="53.57" r="0.4" fill="#aaa"/>
<circle cx="296.29" cy="54.53" r="0.4" fill="#bbb"/>
<circle cx="299.51" cy="55.46" r="0.4" fill="#bbb"/>
<circle cx="297.34" cy="52.66" r="0.4" fill="#aaa"/>
<circle cx="295.36" cy="56.04" r="0.4" fill="#bbb"/>
<circle cx="294.94" cy="51.49" r="0.4" fill="#bbb"/>
<circle cx="364.18" cy="52" r="0.45" fill="#666"/>
<circle cx="355.31" cy="54.16" r="0.45" fill="#444"/>
<circle cx="365.89" cy="52.41" r="0.45" fill="#555"/>
<circle cx="363.15" cy="53.49" r="0.45" fill="#444"/>
<circle cx="364.27" cy="51.31" r="0.45" fill="#555"/>
<circle cx="365.02" cy="52.03" r="0.45" fill="#777"/>
<circle cx="357.33" cy="55.85" r="0.45" fill="#444"/>
<circle cx="354.41" cy="54.79" r="0.45" fill="#555"/>
<circle cx="358.65" cy="55.56" r="0.45" fill="#555"/>
<circle cx="357.27" cy="55.93" r="0.45" fill="#555"/>
<circle cx="356.49" cy="57.24" r="0.45" fill="#555"/>
<circle cx="364.23" cy="51.73" r="0.45" fill="#444"/>
<circle cx="357.47" cy="53.17" r="0.45" fill="#555"/>
<circle cx="354.21" cy="57.84" r="0.45" fill="#555"/>
<circle cx="353.38" cy="60.03" r="0.45" fill="#555"/>
<circle cx="355.93" cy="57.03" r="0.45" fill="#555"/>
<circle cx="353.97" cy="57.81" r="0.45" fill="#777"/>
<circle cx="358.46" cy="52.84" r="0.45" fill="#777"/>
<circle cx="366.66" cy="49.69" r="0.45" fill="#777"/>
<circle cx="361.15" cy="54.84" r="0.45" fill="#444"/>
<circle cx="363.12" cy="52.39" r="0.45" fill="#666"/>
<circle cx="353.86" cy="56.18" r="0.45" fill="#666"/>
<circle cx="352.32" cy="58.42" r="0.45" fill="#555"/>
<circle cx="359.17" cy="56.05" r="0.45" fill="#555"/>
<circle cx="356.44" cy="53.05" r="0.45" fill="#555"/>
<circle cx="358.56" cy="51.96" r="0.45" fill="#444"/>
<circle cx="363.56" cy="51.9" r="0.45" fill="#777"/>
<circle cx="349.92" cy="61.13" r="0.45" fill="#777"/>
<circle cx="356.2" cy="58.91" r="0.45" fill="#444"/>
<circle cx="357.76" cy="57.54" r="0.45" fill="#777"/>
<circle cx="361.94" cy="52.95" r="0.45" fill="#555"/>
<circle cx="363.47" cy="52.06" r="0.45" fill="#777"/>
<circle cx="351.36" cy="59.55" r="0.45" fill="#666"/>
<circle cx="357.6" cy="57.13" r="0.45" fill="#777"/>
<circle cx="361.51" cy="53.91" r="0.45" fill="#666"/>
<circle cx="353.36" cy="57.54" r="0.45" fill="#555"/>
<circle cx="352.27" cy="60.93" r="0.45" fill="#555"/>
<circle cx="363.39" cy="52.83" r="0.45" fill="#555"/>
<circle cx="366.49" cy="52.54" r="0.45" fill="#777"/>
<circle cx="349.91" cy="58.79" r="0.45" fill="#666"/>
<circle cx="357.74" cy="54.72" r="0.45" fill="#555"/>
<circle cx="354.28" cy="56.81" r="0.45" fill="#444"/>
<circle cx="368.46" cy="47.72" r="0.45" fill="#555"/>
<circle cx="359.23" cy="53.03" r="0.45" fill="#777"/>
<circle cx="363.98" cy="52.85" r="0.45" fill="#777"/>
<circle cx="356.08" cy="57.34" r="0.45" fill="#777"/>
<circle cx="357.42" cy="54.28" r="0.45" fill="#777"/>
<circle cx="362.88" cy="54.99" r="0.45" fill="#666"/>
<circle cx="356.58" cy="54.86" r="0.45" fill="#444"/>
<circle cx="356.78" cy="52.02" r="0.45" fill="#555"/>
<circle cx="355.18" cy="57.03" r="0.45" fill="#666"/>
<circle cx="358.5" cy="54.45" r="0.45" fill="#777"/>
<circle cx="368.34" cy="51.42" r="0.45" fill="#777"/>
<circle cx="359.07" cy="56.15" r="0.45" fill="#666"/>
<circle cx="354.68" cy="57.45" r="0.45" fill="#666"/>
<circle cx="360.33" cy="53.89" r="0.45" fill="#666"/>
<circle cx="363.5" cy="50.31" r="0.45" fill="#666"/>
<circle cx="361.75" cy="49.44" r="0.45" fill="#777"/>
<circle cx="355.98" cy="57.42" r="0.45" fill="#666"/>
<circle cx="367.1" cy="50.07" r="0.45" fill="#555"/>
<circle cx="358.88" cy="52.13" r="0.45" fill="#777"/>
<circle cx="357.41" cy="55.06" r="0.45" fill="#444"/>
<circle cx="362.63" cy="49.1" r="0.45" fill="#777"/>
<circle cx="363.77" cy="51.21" r="0.45" fill="#555"/>
<circle cx="356.77" cy="54.58" r="0.45" fill="#777"/>
<circle cx="351.67" cy="62.71" r="0.45" fill="#555"/>
<circle cx="355.42" cy="55.84" r="0.45" fill="#666"/>
<circle cx="356.89" cy="54.63" r="0.45" fill="#444"/>
<circle cx="370.81" cy="45.07" r="0.45" fill="#444"/>
<circle cx="360.31" cy="55.74" r="0.45" fill="#444"/>
<circle cx="353.63" cy="56.2" r="0.45" fill="#666"/>
<circle cx="359.15" cy="55.23" r="0.45" fill="#444"/>
<circle cx="357" cy="58.3" r="0.45" fill="#777"/>
<circle cx="352.02" cy="54.6" r="0.45" fill="#555"/>
<circle cx="363.76" cy="53.65" r="0.45" fill="#777"/>
<circle cx="359.83" cy="52.61" r="0.45" fill="#777"/>
<circle cx="358.38" cy="57.73" r="0.45" fill="#777"/>
<circle cx="359.91" cy="55.27" r="0.45" fill="#666"/>
<circle cx="354.21" cy="53.66" r="0.45" fill="#555"/>
<circle cx="368.41" cy="45.05" r="0.45" fill="#444"/>
<circle cx="361.87" cy="51.74" r="0.45" fill="#777"/>
<circle cx="351.22" cy="59.07" r="0.45" fill="#444"/>
<circle cx="365.7" cy="53.4" r="0.45" fill="#777"/>
<circle cx="362.89" cy="52.56" r="0.45" fill="#777"/>
<circle cx="359.98" cy="56.4" r="0.45" fill="#666"/>
<circle cx="357.35" cy="53.98" r="0.45" fill="#666"/>
<circle cx="360.72" cy="52.51" r="0.45" fill="#555"/>
<circle cx="353.79" cy="56.94" r="0.45" fill="#555"/>
<circle cx="351.06" cy="57.05" r="0.45" fill="#555"/>
<circle cx="363.05" cy="53.23" r="0.45" fill="#666"/>
<circle cx="359.89" cy="55.07" r="0.45" fill="#444"/>
<circle cx="351.47" cy="59.6" r="0.45" fill="#555"/>
<circle cx="359.16" cy="55.79" r="0.45" fill="#666"/>
<circle cx="354.93" cy="55.69" r="0.45" fill="#555"/>
<circle cx="367.08" cy="50.38" r="0.45" fill="#444"/>
<circle cx="360.94" cy="52.47" r="0.45" fill="#666"/>
<circle cx="354.61" cy="51.63" r="0.45" fill="#444"/>
<circle cx="350.8" cy="61.68" r="0.45" fill="#777"/>
<circle cx="360.17" cy="54.36" r="0.45" fill="#777"/>
<circle cx="360.62" cy="50.31" r="0.45" fill="#666"/>
<circle cx="361.58" cy="55.69" r="0.45" fill="#777"/>
<circle cx="358.19" cy="50.07" r="0.45" fill="#777"/>
<circle cx="356.89" cy="54.7" r="0.45" fill="#666"/>
<circle cx="359.47" cy="53.27" r="0.45" fill="#555"/>
<circle cx="361.41" cy="51.08" r="0.45" fill="#666"/>
<circle cx="362.41" cy="51.13" r="0.45" fill="#555"/>
<circle cx="358.69" cy="55" r="0.45" fill="#555"/>
<circle cx="359.01" cy="56.25" r="0.45" fill="#666"/>
<circle cx="360.72" cy="55.45" r="0.45" fill="#666"/>
<circle cx="352.48" cy="57.78" r="0.45" fill="#555"/>
<circle cx="369.59" cy="49.47" r="0.45" fill="#666"/>
<circle cx="358.72" cy="54.53" r="0.45" fill="#666"/>
<circle cx="341.86" cy="65.64" r="0.45" fill="#555"/>
<circle cx="364.19" cy="51.22" r="0.45" fill="#444"/>
<circle cx="351.75" cy="60.57" r="0.45" fill="#777"/>
<circle cx="355.48" cy="56.23" r="0.45" fill="#666"/>
<circle cx="358.78" cy="58.74" r="0.45" fill="#555"/>
<circle cx="364.5" cy="51.06" r="0.45" fill="#444"/>
<circle cx="359.7" cy="54.44" r="0.45" fill="#555"/>
<circle cx="351.28" cy="58.6" r="0.45" fill="#666"/>
<circle cx="342.52" cy="76.19" r="0.4" fill="#999"/>
<circle cx="338.38" cy="70.58" r="0.4" fill="#888"/>
<circle cx="338.39" cy="68.61" r="0.4" fill="#999"/>
<circle cx="348.84" cy="76.95" r="0.4" fill="#aaa"/>
<circle cx="343.09" cy="77.16" r="0.4" fill="#777"/>
<circle cx="350.61" cy="70.9" r="0.4" fill="#aaa"/>
<circle cx="341.01" cy="79.24" r="0.4" fill="#777"/>
<circle cx="337.63" cy="64.25" r="0.4" fill="#999"/>
<circle cx="342.94" cy="68.7" r="0.4" fill="#999"/>
<circle cx="348.85" cy="68.61" r="0.4" fill="#aaa"/>
<circle cx="342.46" cy="66.94" r="0.4" fill="#999"/>
<circle cx="345.82" cy="66.66" r="0.4" fill="#888"/>
<circle cx="347.88" cy="65.62" r="0.4" fill="#888"/>
<circle cx="345.15" cy="74.76" r="0.4" fill="#888"/>
<circle cx="342.36" cy="64.53" r="0.4" fill="#999"/>
<circle cx="342.4" cy="69.9" r="0.4" fill="#777"/>
<circle cx="343.1" cy="62.52" r="0.4" fill="#777"/>
<circle cx="342" cy="71.97" r="0.4" fill="#888"/>
<circle cx="337.79" cy="64.9" r="0.4" fill="#777"/>
<circle cx="348.06" cy="63.61" r="0.4" fill="#999"/>
<circle cx="343.52" cy="80.27" r="0.4" fill="#888"/>
<circle cx="344.49" cy="76.72" r="0.4" fill="#888"/>
<circle cx="348.88" cy="62.86" r="0.4" fill="#aaa"/>
<circle cx="350.77" cy="67.78" r="0.4" fill="#888"/>
<circle cx="348.39" cy="71.74" r="0.4" fill="#777"/>
<circle cx="339.57" cy="73.88" r="0.4" fill="#aaa"/>
<circle cx="350.25" cy="62.58" r="0.4" fill="#999"/>
<circle cx="349.93" cy="78.2" r="0.4" fill="#aaa"/>
<circle cx="344.57" cy="72.57" r="0.4" fill="#777"/>
<circle cx="339.2" cy="75.9" r="0.4" fill="#aaa"/>
<circle cx="343.61" cy="70.61" r="0.4" fill="#aaa"/>
<circle cx="344.52" cy="68.82" r="0.4" fill="#777"/>
<circle cx="344.71" cy="62.13" r="0.4" fill="#aaa"/>
<circle cx="343.76" cy="73.07" r="0.4" fill="#777"/>
<circle cx="350.54" cy="64.46" r="0.4" fill="#aaa"/>
<circle cx="342.09" cy="66.49" r="0.4" fill="#999"/>
<circle cx="340.14" cy="70.64" r="0.4" fill="#aaa"/>
<circle cx="338.23" cy="80.38" r="0.4" fill="#aaa"/>
<circle cx="339.05" cy="65.15" r="0.4" fill="#888"/>
<circle cx="349.11" cy="77.05" r="0.4" fill="#999"/>
<circle cx="351.41" cy="62.76" r="0.4" fill="#777"/>
<circle cx="347.46" cy="66.39" r="0.4" fill="#999"/>
<circle cx="343.86" cy="71.96" r="0.4" fill="#aaa"/>
<circle cx="340.24" cy="66.95" r="0.4" fill="#888"/>
<circle cx="338.53" cy="72.32" r="0.4" fill="#aaa"/>
<circle cx="349.78" cy="62.91" r="0.4" fill="#aaa"/>
<circle cx="349.47" cy="76.53" r="0.4" fill="#777"/>
<circle cx="348.65" cy="64.46" r="0.4" fill="#999"/>
<circle cx="340" cy="68.01" r="0.4" fill="#999"/>
<circle cx="350.87" cy="65.78" r="0.4" fill="#999"/>
<circle cx="339.14" cy="65.04" r="0.4" fill="#aaa"/>
<circle cx="337.94" cy="74.8" r="0.4" fill="#aaa"/>
<circle cx="350.13" cy="62.9" r="0.4" fill="#888"/>
<circle cx="344.95" cy="67.67" r="0.4" fill="#888"/>
<circle cx="345.34" cy="80.89" r="0.4" fill="#aaa"/>
<circle cx="337.72" cy="68.12" r="0.4" fill="#999"/>
<circle cx="349.33" cy="79.95" r="0.4" fill="#888"/>
<circle cx="347.23" cy="65.02" r="0.4" fill="#888"/>
<circle cx="339.9" cy="72.82" r="0.4" fill="#777"/>
<circle cx="339.31" cy="63.76" r="0.4" fill="#999"/>
<circle cx="346.04" cy="68.47" r="0.4" fill="#888"/>
<circle cx="337.61" cy="62.85" r="0.4" fill="#888"/>
<circle cx="347.81" cy="68.53" r="0.4" fill="#999"/>
<circle cx="348.28" cy="65.4" r="0.4" fill="#777"/>
<circle cx="346.34" cy="69.78" r="0.4" fill="#aaa"/>
<circle cx="341.41" cy="64.11" r="0.4" fill="#777"/>
<circle cx="350.68" cy="68.25" r="0.4" fill="#aaa"/>
<circle cx="340.79" cy="72.8" r="0.4" fill="#999"/>
<circle cx="339.22" cy="78.6" r="0.4" fill="#777"/>
<circle cx="346.97" cy="70.37" r="0.4" fill="#aaa"/>
<circle cx="342.93" cy="75.99" r="0.4" fill="#888"/>
<circle cx="343.78" cy="62.75" r="0.4" fill="#aaa"/>
<circle cx="342.17" cy="72.89" r="0.4" fill="#999"/>
<circle cx="341.6" cy="75.05" r="0.4" fill="#888"/>
<circle cx="337.71" cy="68.81" r="0.4" fill="#999"/>
<circle cx="342.93" cy="66.93" r="0.4" fill="#777"/>
<circle cx="348.99" cy="78.08" r="0.4" fill="#777"/>
<circle cx="345.14" cy="63.44" r="0.4" fill="#888"/>
<circle cx="338.74" cy="68.59" r="0.4" fill="#999"/>
<circle cx="337.92" cy="73.01" r="0.4" fill="#999"/>
<circle cx="351.36" cy="77.41" r="0.4" fill="#777"/>
<circle cx="346.85" cy="64.54" r="0.4" fill="#777"/>
<circle cx="342.56" cy="70.56" r="0.4" fill="#999"/>
<circle cx="344.21" cy="74.21" r="0.4" fill="#777"/>
<circle cx="351.09" cy="80.54" r="0.4" fill="#aaa"/>
<circle cx="343.57" cy="65.98" r="0.4" fill="#777"/>
<circle cx="351.47" cy="62.8" r="0.4" fill="#aaa"/>
<circle cx="346.69" cy="76.91" r="0.4" fill="#888"/>
<circle cx="344.75" cy="72.89" r="0.4" fill="#aaa"/>
<circle cx="342.68" cy="64.29" r="0.4" fill="#aaa"/>
<circle cx="338.84" cy="77" r="0.4" fill="#777"/>
<circle cx="339.84" cy="74.15" r="0.4" fill="#999"/>
<circle cx="346.79" cy="80.41" r="0.4" fill="#aaa"/>
<circle cx="348.36" cy="63.83" r="0.4" fill="#aaa"/>
<circle cx="339.68" cy="68.73" r="0.4" fill="#999"/>
<circle cx="417.13" cy="47.41" r="0.45" fill="#444"/>
<circle cx="411.24" cy="55.79" r="0.45" fill="#444"/>
<circle cx="404.84" cy="56.73" r="0.45" fill="#444"/>
<circle cx="409.88" cy="55.62" r="0.45" fill="#444"/>
<circle cx="399.26" cy="61.76" r="0.45" fill="#666"/>
<circle cx="404.77" cy="55.82" r="0.45" fill="#888"/>
<circle cx="386.38" cy="72.74" r="0.45" fill="#888"/>
<circle cx="407.1" cy="57.86" r="0.45" fill="#555"/>
<circle cx="406.28" cy="55.93" r="0.45" fill="#555"/>
<circle cx="411.75" cy="56.58" r="0.45" fill="#555"/>
<circle cx="398.56" cy="64.81" r="0.45" fill="#444"/>
<circle cx="404.28" cy="58.73" r="0.45" fill="#555"/>
<circle cx="405.25" cy="56.38" r="0.45" fill="#888"/>
<circle cx="411.01" cy="57.12" r="0.45" fill="#444"/>
<circle cx="399.59" cy="63.76" r="0.45" fill="#444"/>
<circle cx="401.5" cy="62.09" r="0.45" fill="#555"/>
<circle cx="405.49" cy="59.19" r="0.45" fill="#888"/>
<circle cx="402.86" cy="62.67" r="0.45" fill="#555"/>
<circle cx="397.2" cy="61.8" r="0.45" fill="#444"/>
<circle cx="401.37" cy="62.12" r="0.45" fill="#666"/>
<circle cx="406.12" cy="58.53" r="0.45" fill="#888"/>
<circle cx="399.26" cy="64.95" r="0.45" fill="#666"/>
<circle cx="403.14" cy="59.58" r="0.45" fill="#444"/>
<circle cx="409.59" cy="57.5" r="0.45" fill="#666"/>
<circle cx="401.83" cy="61.49" r="0.45" fill="#444"/>
<circle cx="404.24" cy="57.73" r="0.45" fill="#666"/>
<circle cx="400.35" cy="61.41" r="0.45" fill="#888"/>
<circle cx="402.91" cy="56.4" r="0.45" fill="#444"/>
<circle cx="413.94" cy="52.07" r="0.45" fill="#555"/>
<circle cx="400.56" cy="64.22" r="0.45" fill="#666"/>
<circle cx="406.58" cy="55.09" r="0.45" fill="#444"/>
<circle cx="403.5" cy="62.42" r="0.45" fill="#666"/>
<circle cx="407.97" cy="56.43" r="0.45" fill="#666"/>
<circle cx="393.43" cy="62.86" r="0.45" fill="#888"/>
<circle cx="400.02" cy="58.97" r="0.45" fill="#444"/>
<circle cx="404.94" cy="62.68" r="0.45" fill="#444"/>
<circle cx="401.88" cy="61.5" r="0.45" fill="#666"/>
<circle cx="403.41" cy="61.52" r="0.45" fill="#555"/>
<circle cx="405.21" cy="53.47" r="0.45" fill="#444"/>
<circle cx="412.66" cy="52.75" r="0.45" fill="#888"/>
<circle cx="397.76" cy="60.14" r="0.45" fill="#666"/>
<circle cx="403.86" cy="58.27" r="0.45" fill="#555"/>
<circle cx="404.31" cy="58.31" r="0.45" fill="#888"/>
<circle cx="397.41" cy="65.53" r="0.45" fill="#444"/>
<circle cx="406.83" cy="57.91" r="0.45" fill="#555"/>
<circle cx="400.93" cy="63.17" r="0.45" fill="#888"/>
<circle cx="405.75" cy="54.24" r="0.45" fill="#444"/>
<circle cx="410.3" cy="47.6" r="0.45" fill="#666"/>
<circle cx="399.22" cy="58.52" r="0.45" fill="#444"/>
<circle cx="401.65" cy="57.26" r="0.45" fill="#444"/>
<circle cx="408.54" cy="54.56" r="0.45" fill="#888"/>
<circle cx="404.09" cy="60.17" r="0.45" fill="#444"/>
<circle cx="408.94" cy="57.39" r="0.45" fill="#888"/>
<circle cx="412.19" cy="53.74" r="0.45" fill="#888"/>
<circle cx="410.34" cy="59.02" r="0.45" fill="#888"/>
<circle cx="395" cy="65.04" r="0.45" fill="#888"/>
<circle cx="397.33" cy="62.99" r="0.45" fill="#555"/>
<circle cx="404.55" cy="55.55" r="0.45" fill="#444"/>
<circle cx="403.48" cy="60.59" r="0.45" fill="#666"/>
<circle cx="398.33" cy="66.53" r="0.45" fill="#888"/>
<circle cx="397.15" cy="64.6" r="0.45" fill="#888"/>
<circle cx="401.01" cy="63.97" r="0.45" fill="#888"/>
<circle cx="401.69" cy="57.23" r="0.45" fill="#444"/>
<circle cx="402.42" cy="57.59" r="0.45" fill="#666"/>
<circle cx="402.19" cy="62.53" r="0.45" fill="#444"/>
<circle cx="405.43" cy="58.85" r="0.45" fill="#666"/>
<circle cx="399.09" cy="65.52" r="0.45" fill="#888"/>
<circle cx="406.74" cy="56.18" r="0.45" fill="#555"/>
<circle cx="418.82" cy="47.5" r="0.45" fill="#888"/>
<circle cx="402.98" cy="60.41" r="0.45" fill="#555"/>
<circle cx="404.38" cy="56.96" r="0.45" fill="#666"/>
<circle cx="401.23" cy="60.57" r="0.45" fill="#666"/>
<circle cx="396.62" cy="62.08" r="0.45" fill="#666"/>
<circle cx="397.94" cy="63.06" r="0.45" fill="#666"/>
<circle cx="405.4" cy="56.38" r="0.45" fill="#555"/>
<circle cx="406.83" cy="58.81" r="0.45" fill="#666"/>
<circle cx="414.87" cy="54.94" r="0.45" fill="#555"/>
<circle cx="415.12" cy="46.85" r="0.45" fill="#666"/>
<circle cx="397.07" cy="69.26" r="0.45" fill="#666"/>
<circle cx="393.58" cy="62.08" r="0.45" fill="#666"/>
<circle cx="410.66" cy="56.02" r="0.45" fill="#555"/>
<circle cx="399.83" cy="60.98" r="0.45" fill="#666"/>
<circle cx="404.91" cy="62" r="0.45" fill="#666"/>
<circle cx="399.87" cy="61.75" r="0.45" fill="#666"/>
<circle cx="405.9" cy="50.12" r="0.45" fill="#555"/>
<circle cx="407.12" cy="55.22" r="0.45" fill="#555"/>
<circle cx="397.44" cy="60.67" r="0.45" fill="#555"/>
<circle cx="395.07" cy="63.8" r="0.45" fill="#666"/>
<circle cx="404.03" cy="61.78" r="0.45" fill="#666"/>
<circle cx="398.73" cy="59.08" r="0.45" fill="#888"/>
<circle cx="399.34" cy="62.76" r="0.45" fill="#555"/>
<circle cx="411.75" cy="52.09" r="0.45" fill="#666"/>
<circle cx="406.58" cy="56.1" r="0.45" fill="#444"/>
<circle cx="390.03" cy="64.98" r="0.45" fill="#444"/>
<circle cx="404.95" cy="58.26" r="0.45" fill="#444"/>
<circle cx="408.45" cy="58.48" r="0.45" fill="#666"/>
<circle cx="406.26" cy="56.33" r="0.45" fill="#444"/>
<circle cx="410.49" cy="56.76" r="0.45" fill="#555"/>
<circle cx="414.74" cy="50.82" r="0.45" fill="#444"/>
<circle cx="396.67" cy="65.54" r="0.45" fill="#444"/>
<circle cx="398.68" cy="61.83" r="0.45" fill="#888"/>
<circle cx="415.75" cy="47.71" r="0.45" fill="#444"/>
<circle cx="399.23" cy="63.75" r="0.45" fill="#444"/>
<circle cx="404.1" cy="57.89" r="0.45" fill="#444"/>
<circle cx="409.62" cy="56.83" r="0.45" fill="#666"/>
<circle cx="407.16" cy="58.99" r="0.45" fill="#555"/>
<circle cx="420.44" cy="46.28" r="0.45" fill="#555"/>
<circle cx="412.07" cy="47.45" r="0.45" fill="#444"/>
<circle cx="394.23" cy="61.82" r="0.45" fill="#666"/>
<circle cx="407.31" cy="55.87" r="0.45" fill="#555"/>
<circle cx="406.53" cy="56.75" r="0.45" fill="#444"/>
<circle cx="404.53" cy="60.87" r="0.45" fill="#444"/>
<circle cx="402.21" cy="60.83" r="0.45" fill="#555"/>
<circle cx="400.34" cy="57.66" r="0.45" fill="#444"/>
<circle cx="407.48" cy="56.31" r="0.45" fill="#555"/>
<circle cx="416.92" cy="48.92" r="0.45" fill="#888"/>
<circle cx="403.09" cy="61.1" r="0.45" fill="#888"/>
<circle cx="416.51" cy="50.63" r="0.45" fill="#666"/>
<circle cx="411.48" cy="54.46" r="0.45" fill="#666"/>
<circle cx="398.72" cy="61.91" r="0.45" fill="#555"/>
<circle cx="410.56" cy="52.83" r="0.45" fill="#555"/>
<circle cx="408.88" cy="57.3" r="0.45" fill="#888"/>
<circle cx="410.92" cy="60.89" r="0.45" fill="#555"/>
<circle cx="407.84" cy="60.63" r="0.45" fill="#666"/>
<circle cx="396.8" cy="61.29" r="0.45" fill="#444"/>
<circle cx="407.9" cy="58.12" r="0.45" fill="#666"/>
<circle cx="394.05" cy="65.18" r="0.45" fill="#555"/>
<circle cx="397.34" cy="58.29" r="0.45" fill="#444"/>
<circle cx="416.05" cy="52.97" r="0.45" fill="#555"/>
<circle cx="403.29" cy="59.51" r="0.45" fill="#555"/>
<circle cx="401.74" cy="62.38" r="0.45" fill="#444"/>
<circle cx="411.44" cy="53.41" r="0.45" fill="#555"/>
<circle cx="397.47" cy="65.44" r="0.45" fill="#555"/>
<circle cx="401.07" cy="65.43" r="0.45" fill="#888"/>
<circle cx="411.03" cy="51.64" r="0.45" fill="#444"/>
<circle cx="393.36" cy="66.85" r="0.45" fill="#444"/>
<circle cx="406.74" cy="57.07" r="0.45" fill="#444"/>
<circle cx="401.94" cy="60.94" r="0.45" fill="#444"/>
<circle cx="411.63" cy="59.68" r="0.45" fill="#555"/>
<circle cx="409.93" cy="53.43" r="0.45" fill="#555"/>
<circle cx="413.38" cy="56.14" r="0.45" fill="#444"/>
<circle cx="407" cy="58.22" r="0.45" fill="#555"/>
<circle cx="411.27" cy="50.29" r="0.45" fill="#888"/>
<circle cx="399.6" cy="65.45" r="0.45" fill="#666"/>
<circle cx="415.45" cy="55.92" r="0.45" fill="#555"/>
<circle cx="401.3" cy="55.86" r="0.45" fill="#444"/>
<circle cx="404.4" cy="60.28" r="0.45" fill="#444"/>
<circle cx="405.56" cy="61.4" r="0.45" fill="#888"/>
<circle cx="403.83" cy="54.96" r="0.45" fill="#444"/>
<circle cx="409.6" cy="55.95" r="0.45" fill="#444"/>
<circle cx="402.4" cy="80.51" r="0.4" fill="#777"/>
<circle cx="391.74" cy="67.61" r="0.4" fill="#666"/>
<circle cx="393.62" cy="76.86" r="0.4" fill="#999"/>
<circle cx="394.4" cy="80.95" r="0.4" fill="#999"/>
<circle cx="396.01" cy="64.82" r="0.4" fill="#999"/>
<circle cx="403.19" cy="61.49" r="0.4" fill="#999"/>
<circle cx="397.11" cy="66.64" r="0.4" fill="#666"/>
<circle cx="391.92" cy="75.73" r="0.4" fill="#777"/>
<circle cx="402.96" cy="61.48" r="0.4" fill="#999"/>
<circle cx="400.69" cy="70.98" r="0.4" fill="#666"/>
<circle cx="396.01" cy="64.65" r="0.4" fill="#666"/>
<circle cx="391.83" cy="80.44" r="0.4" fill="#888"/>
<circle cx="393.15" cy="73.38" r="0.4" fill="#888"/>
<circle cx="399.13" cy="66.02" r="0.4" fill="#888"/>
<circle cx="391.83" cy="63.87" r="0.4" fill="#999"/>
<circle cx="395.51" cy="72.74" r="0.4" fill="#888"/>
<circle cx="394.15" cy="79.27" r="0.4" fill="#777"/>
<circle cx="398.99" cy="73.44" r="0.4" fill="#777"/>
<circle cx="396.06" cy="72.23" r="0.4" fill="#888"/>
<circle cx="400.21" cy="79.68" r="0.4" fill="#888"/>
<circle cx="392.79" cy="72.67" r="0.4" fill="#777"/>
<circle cx="399.33" cy="67.79" r="0.4" fill="#666"/>
<circle cx="398.37" cy="61.06" r="0.4" fill="#999"/>
<circle cx="397.33" cy="70.94" r="0.4" fill="#999"/>
<circle cx="399.1" cy="74.25" r="0.4" fill="#999"/>
<circle cx="393.27" cy="72.48" r="0.4" fill="#999"/>
<circle cx="390.29" cy="67.39" r="0.4" fill="#999"/>
<circle cx="390.36" cy="63.86" r="0.4" fill="#666"/>
<circle cx="393.42" cy="69.85" r="0.4" fill="#666"/>
<circle cx="393.42" cy="62.01" r="0.4" fill="#999"/>
<circle cx="400.67" cy="66.09" r="0.4" fill="#666"/>
<circle cx="395.47" cy="72.1" r="0.4" fill="#666"/>
<circle cx="396.36" cy="70.64" r="0.4" fill="#888"/>
<circle cx="393.92" cy="74.31" r="0.4" fill="#888"/>
<circle cx="402.47" cy="73.93" r="0.4" fill="#999"/>
<circle cx="400.75" cy="80.57" r="0.4" fill="#777"/>
<circle cx="399.09" cy="76.95" r="0.4" fill="#888"/>
<circle cx="400.83" cy="77.03" r="0.4" fill="#777"/>
<circle cx="391.15" cy="70.51" r="0.4" fill="#777"/>
<circle cx="390.12" cy="77.17" r="0.4" fill="#888"/>
<circle cx="396.09" cy="73.88" r="0.4" fill="#999"/>
<circle cx="402.56" cy="73.89" r="0.4" fill="#666"/>
<circle cx="403.17" cy="64.2" r="0.4" fill="#888"/>
<circle cx="403.25" cy="78.43" r="0.4" fill="#888"/>
<circle cx="393.06" cy="73.21" r="0.4" fill="#888"/>
<circle cx="403.29" cy="73.46" r="0.4" fill="#777"/>
<circle cx="399.99" cy="74.38" r="0.4" fill="#999"/>
<circle cx="401.65" cy="76.37" r="0.4" fill="#666"/>
<circle cx="397.47" cy="79.87" r="0.4" fill="#999"/>
<circle cx="392.65" cy="75.22" r="0.4" fill="#666"/>
<circle cx="389.82" cy="64.22" r="0.4" fill="#777"/>
<circle cx="392.73" cy="73.37" r="0.4" fill="#666"/>
<circle cx="399.22" cy="71.32" r="0.4" fill="#888"/>
<circle cx="396.03" cy="74.82" r="0.4" fill="#666"/>
<circle cx="398.57" cy="74.73" r="0.4" fill="#666"/>
<circle cx="394.13" cy="79.54" r="0.4" fill="#666"/>
<circle cx="393.57" cy="80.04" r="0.4" fill="#888"/>
<circle cx="402.98" cy="76.48" r="0.4" fill="#888"/>
<circle cx="391.03" cy="65.35" r="0.4" fill="#999"/>
<circle cx="390.42" cy="62.93" r="0.4" fill="#666"/>
<circle cx="396.12" cy="75.89" r="0.4" fill="#777"/>
<circle cx="393.54" cy="79.66" r="0.4" fill="#888"/>
<circle cx="392.88" cy="67.55" r="0.4" fill="#666"/>
<circle cx="394.26" cy="80.17" r="0.4" fill="#888"/>
<circle cx="396.88" cy="79.98" r="0.4" fill="#999"/>
<circle cx="392.52" cy="79.4" r="0.4" fill="#999"/>
<circle cx="402.33" cy="62.58" r="0.4" fill="#999"/>
<circle cx="395.56" cy="74.71" r="0.4" fill="#888"/>
<circle cx="397.71" cy="69.39" r="0.4" fill="#666"/>
<circle cx="396.89" cy="64.79" r="0.4" fill="#666"/>
<circle cx="398.11" cy="64.67" r="0.4" fill="#888"/>
<circle cx="400.52" cy="72.69" r="0.4" fill="#888"/>
<circle cx="393.25" cy="76.95" r="0.4" fill="#666"/>
<circle cx="399.38" cy="70.13" r="0.4" fill="#999"/>
<circle cx="403.16" cy="80.04" r="0.4" fill="#777"/>
<circle cx="402.87" cy="78.77" r="0.4" fill="#666"/>
<circle cx="397.21" cy="61.04" r="0.4" fill="#999"/>
<circle cx="399.22" cy="69.75" r="0.4" fill="#777"/>
<circle cx="403.43" cy="70.96" r="0.4" fill="#777"/>
<circle cx="395.14" cy="73.99" r="0.4" fill="#999"/>
<circle cx="390.15" cy="75.21" r="0.4" fill="#777"/>
<circle cx="392.93" cy="72.41" r="0.4" fill="#999"/>
<circle cx="389.74" cy="62.46" r="0.4" fill="#999"/>
<circle cx="399.73" cy="73.38" r="0.4" fill="#777"/>
<circle cx="402.85" cy="78.04" r="0.4" fill="#999"/>
<circle cx="403.31" cy="78.48" r="0.4" fill="#666"/>
<circle cx="394.2" cy="61.44" r="0.4" fill="#999"/>
<circle cx="399.85" cy="78.4" r="0.4" fill="#777"/>
<circle cx="393.1" cy="76.83" r="0.4" fill="#888"/>
<circle cx="395.78" cy="68.32" r="0.4" fill="#999"/>
<circle cx="392.37" cy="69.7" r="0.4" fill="#777"/>
<circle cx="398.23" cy="69.22" r="0.4" fill="#888"/>
<circle cx="398.21" cy="62.78" r="0.4" fill="#999"/>
<circle cx="398.26" cy="72.01" r="0.4" fill="#999"/>
<circle cx="398.99" cy="71.09" r="0.4" fill="#999"/>
<circle cx="401.91" cy="62.5" r="0.4" fill="#777"/>
<circle cx="393.65" cy="75.48" r="0.4" fill="#999"/>
<circle cx="395.59" cy="74.07" r="0.4" fill="#777"/>
<circle cx="397.91" cy="62.7" r="0.4" fill="#888"/>
<circle cx="397.39" cy="68.83" r="0.4" fill="#999"/>
<circle cx="394.32" cy="69.53" r="0.4" fill="#666"/>
<circle cx="398.09" cy="65.42" r="0.4" fill="#999"/>
<circle cx="393.7" cy="80.12" r="0.4" fill="#999"/>
<circle cx="390.34" cy="72.66" r="0.4" fill="#777"/>
<circle cx="401.22" cy="68.83" r="0.4" fill="#888"/>
<circle cx="399.95" cy="72.58" r="0.4" fill="#888"/>
<circle cx="393.09" cy="74.62" r="0.4" fill="#999"/>
<circle cx="397.12" cy="80.74" r="0.4" fill="#777"/>
<circle cx="400.04" cy="72.69" r="0.4" fill="#666"/>
<circle cx="393.34" cy="72.34" r="0.4" fill="#999"/>
<circle cx="394.08" cy="79.45" r="0.4" fill="#999"/>
<circle cx="398.79" cy="66.78" r="0.4" fill="#999"/>
<circle cx="398.96" cy="62.96" r="0.4" fill="#666"/>
<circle cx="395.95" cy="71.6" r="0.4" fill="#999"/>
<circle cx="397.47" cy="80.07" r="0.4" fill="#888"/>
<circle cx="395.56" cy="62.04" r="0.4" fill="#666"/>
<circle cx="393.71" cy="74.84" r="0.4" fill="#888"/>
<circle cx="401.1" cy="68.6" r="0.4" fill="#888"/>
<circle cx="391.55" cy="72.57" r="0.4" fill="#666"/>
<circle cx="397.05" cy="68.96" r="0.4" fill="#999"/>
<circle cx="443.88" cy="67.57" r="0.4" fill="#999"/>
<circle cx="445.3" cy="64.97" r="0.4" fill="#777"/>
<circle cx="454.55" cy="73.92" r="0.4" fill="#777"/>
<circle cx="452.15" cy="66.66" r="0.4" fill="#888"/>
<circle cx="442.61" cy="72.86" r="0.4" fill="#999"/>
<circle cx="453.26" cy="78.26" r="0.4" fill="#777"/>
<circle cx="450.55" cy="68.57" r="0.4" fill="#888"/>
<circle cx="446.52" cy="78.63" r="0.4" fill="#777"/>
<circle cx="453.64" cy="75.17" r="0.4" fill="#777"/>
<circle cx="447.99" cy="77.34" r="0.4" fill="#999"/>
<circle cx="445.74" cy="71.35" r="0.4" fill="#888"/>
<circle cx="444.93" cy="65.84" r="0.4" fill="#999"/>
<circle cx="446.27" cy="74.12" r="0.4" fill="#888"/>
<circle cx="452.83" cy="78.79" r="0.4" fill="#777"/>
<circle cx="453.39" cy="79.35" r="0.4" fill="#999"/>
<circle cx="452.49" cy="70.73" r="0.4" fill="#999"/>
<circle cx="451.69" cy="65.71" r="0.4" fill="#888"/>
<circle cx="454.01" cy="65.92" r="0.4" fill="#888"/>
<circle cx="442.63" cy="71.11" r="0.4" fill="#999"/>
<circle cx="442.46" cy="75.07" r="0.4" fill="#777"/>
<circle cx="452.53" cy="74.77" r="0.4" fill="#999"/>
<circle cx="442.14" cy="67.82" r="0.4" fill="#999"/>
<circle cx="446.74" cy="80.7" r="0.4" fill="#999"/>
<circle cx="449.27" cy="69.04" r="0.4" fill="#777"/>
<circle cx="447.65" cy="79.22" r="0.4" fill="#999"/>
<circle cx="444.27" cy="66.82" r="0.4" fill="#999"/>
<circle cx="443.94" cy="74.73" r="0.4" fill="#777"/>
<circle cx="448.34" cy="67.14" r="0.4" fill="#999"/>
<circle cx="442.09" cy="66.37" r="0.4" fill="#777"/>
<circle cx="445.28" cy="67.2" r="0.4" fill="#888"/>
<circle cx="442.01" cy="68.6" r="0.4" fill="#888"/>
<circle cx="450.09" cy="66.74" r="0.4" fill="#777"/>
<circle cx="444.07" cy="63.38" r="0.4" fill="#999"/>
<circle cx="448.96" cy="67.58" r="0.4" fill="#999"/>
<circle cx="452.99" cy="70.16" r="0.4" fill="#999"/>
<circle cx="448.81" cy="69.56" r="0.4" fill="#888"/>
<circle cx="446.87" cy="66.68" r="0.4" fill="#888"/>
<circle cx="449.2" cy="71.89" r="0.4" fill="#777"/>
<circle cx="445.79" cy="67.28" r="0.4" fill="#888"/>
<circle cx="442.25" cy="77.03" r="0.4" fill="#999"/>
<circle cx="448.19" cy="71.68" r="0.4" fill="#888"/>
<circle cx="453.96" cy="77.8" r="0.4" fill="#999"/>
<circle cx="448.28" cy="68.74" r="0.4" fill="#888"/>
<circle cx="443.07" cy="71.27" r="0.4" fill="#777"/>
<circle cx="454.13" cy="80.83" r="0.4" fill="#777"/>
<circle cx="442.84" cy="66.32" r="0.4" fill="#888"/>
<circle cx="449.41" cy="71.54" r="0.4" fill="#888"/>
<circle cx="442.34" cy="67.14" r="0.4" fill="#888"/>
<circle cx="455.66" cy="62.97" r="0.4" fill="#777"/>
<circle cx="441.99" cy="64.39" r="0.4" fill="#888"/>
<circle cx="451.81" cy="76.14" r="0.4" fill="#888"/>
<circle cx="449.67" cy="79.82" r="0.4" fill="#888"/>
<circle cx="450.08" cy="72.16" r="0.4" fill="#777"/>
<circle cx="449.95" cy="64.88" r="0.4" fill="#888"/>
<circle cx="452.22" cy="66.22" r="0.4" fill="#888"/>
<circle cx="444.84" cy="70.22" r="0.4" fill="#999"/>
<circle cx="453.17" cy="80.8" r="0.4" fill="#999"/>
<circle cx="450.4" cy="61.74" r="0.4" fill="#999"/>
<circle cx="450.99" cy="65.68" r="0.4" fill="#777"/>
<circle cx="445.2" cy="67.57" r="0.4" fill="#777"/>
<circle cx="455.21" cy="72.4" r="0.4" fill="#777"/>
<circle cx="455.47" cy="65.09" r="0.4" fill="#777"/>
<circle cx="453.2" cy="75.62" r="0.4" fill="#777"/>
<circle cx="442.6" cy="62.17" r="0.4" fill="#999"/>
<circle cx="443.77" cy="65.43" r="0.4" fill="#777"/>
<circle cx="452.16" cy="78.79" r="0.4" fill="#999"/>
<circle cx="455.21" cy="67.77" r="0.4" fill="#888"/>
<circle cx="454.42" cy="75.97" r="0.4" fill="#888"/>
<circle cx="450.69" cy="73.5" r="0.4" fill="#999"/>
<circle cx="442.41" cy="72.48" r="0.4" fill="#888"/>
<circle cx="454.11" cy="74.3" r="0.4" fill="#888"/>
<circle cx="451.81" cy="65.11" r="0.4" fill="#888"/>
<circle cx="450.97" cy="62.19" r="0.4" fill="#999"/>
<circle cx="445.7" cy="79.39" r="0.4" fill="#999"/>
<circle cx="442.96" cy="66.41" r="0.4" fill="#999"/>
<circle cx="445.12" cy="67.15" r="0.4" fill="#999"/>
<circle cx="451.61" cy="80.61" r="0.4" fill="#999"/>
<circle cx="450.92" cy="74.99" r="0.4" fill="#999"/>
<circle cx="446.28" cy="61.64" r="0.4" fill="#888"/>
<circle cx="448.69" cy="68.99" r="0.4" fill="#999"/>
<circle cx="445.35" cy="63.78" r="0.4" fill="#888"/>
<circle cx="455.56" cy="68.74" r="0.4" fill="#888"/>
<circle cx="447.25" cy="79.89" r="0.4" fill="#999"/>
<circle cx="454.61" cy="65.02" r="0.4" fill="#999"/>
<circle cx="441.96" cy="74.33" r="0.4" fill="#999"/>
<circle cx="449.71" cy="66.16" r="0.4" fill="#777"/>
<circle cx="448.58" cy="62.34" r="0.4" fill="#999"/>
<circle cx="453.91" cy="62.15" r="0.4" fill="#777"/>
<circle cx="447.17" cy="65.9" r="0.4" fill="#888"/>
<circle cx="450.47" cy="76.04" r="0.4" fill="#888"/>
<circle cx="451.91" cy="62.51" r="0.4" fill="#777"/>
<circle cx="443.87" cy="64.67" r="0.4" fill="#777"/>
<circle cx="454.35" cy="66.21" r="0.4" fill="#999"/>
<circle cx="447.13" cy="63.19" r="0.4" fill="#777"/>
<circle cx="443.74" cy="68.17" r="0.4" fill="#777"/>
<circle cx="450.1" cy="65.98" r="0.4" fill="#777"/>
<circle cx="444.47" cy="63.69" r="0.4" fill="#777"/>
<circle cx="442.83" cy="71.69" r="0.4" fill="#777"/>
<circle cx="444.16" cy="71.94" r="0.4" fill="#888"/>
<circle cx="447.54" cy="68.87" r="0.4" fill="#999"/>
<circle cx="448.91" cy="69.07" r="0.4" fill="#888"/>
<circle cx="446.1" cy="80.76" r="0.4" fill="#777"/>
<circle cx="444.51" cy="68.05" r="0.4" fill="#777"/>
<circle cx="447.72" cy="76.88" r="0.4" fill="#888"/>
<circle cx="445.86" cy="67.08" r="0.4" fill="#999"/>
<circle cx="443.65" cy="68.98" r="0.4" fill="#999"/>
<circle cx="454.14" cy="79.53" r="0.4" fill="#777"/>
<circle cx="454.52" cy="62.3" r="0.4" fill="#888"/>
<circle cx="445.96" cy="66.27" r="0.4" fill="#777"/>
<circle cx="451.59" cy="79.53" r="0.4" fill="#777"/>
<circle cx="450.59" cy="78.37" r="0.4" fill="#888"/>
<circle cx="452.52" cy="63.7" r="0.4" fill="#777"/>
<circle cx="452.17" cy="78.39" r="0.4" fill="#888"/>
<circle cx="450.07" cy="74.7" r="0.4" fill="#999"/>
<circle cx="454.37" cy="72.75" r="0.4" fill="#888"/>
<circle cx="455.79" cy="77.86" r="0.4" fill="#999"/>
<circle cx="445.57" cy="72.65" r="0.4" fill="#888"/>
<circle cx="447.45" cy="72.5" r="0.4" fill="#777"/>
<circle cx="452.68" cy="74.28" r="0.4" fill="#888"/>
<circle cx="450.6" cy="66.95" r="0.4" fill="#888"/>
<circle cx="455.17" cy="69.09" r="0.4" fill="#888"/>
<circle cx="448.07" cy="78.22" r="0.4" fill="#777"/>
<circle cx="445.48" cy="68.63" r="0.4" fill="#999"/>
<circle cx="450.28" cy="72.07" r="0.4" fill="#888"/>
<circle cx="444.58" cy="72.36" r="0.4" fill="#888"/>
<circle cx="452.07" cy="63.75" r="0.4" fill="#999"/>
<circle cx="441.83" cy="67.9" r="0.4" fill="#888"/>
<circle cx="448.37" cy="71.39" r="0.4" fill="#777"/>
<circle cx="442.71" cy="75.46" r="0.4" fill="#777"/>
<circle cx="453.02" cy="64.97" r="0.4" fill="#888"/>
<circle cx="314.79" cy="93.39" r="0.4" fill="#999"/>
<circle cx="312.91" cy="101.94" r="0.4" fill="#888"/>
<circle cx="311.58" cy="103.72" r="0.4" fill="#999"/>
<circle cx="307.2" cy="103.75" r="0.4" fill="#aaa"/>
<circle cx="314.02" cy="97.82" r="0.4" fill="#aaa"/>
<circle cx="306.96" cy="102.75" r="0.4" fill="#999"/>
<circle cx="310.56" cy="102.06" r="0.4" fill="#aaa"/>
<circle cx="315.21" cy="100.09" r="0.4" fill="#999"/>
<circle cx="313.04" cy="98.88" r="0.4" fill="#888"/>
<circle cx="313.4" cy="98.21" r="0.4" fill="#aaa"/>
<circle cx="312.78" cy="96.32" r="0.4" fill="#aaa"/>
<circle cx="306.55" cy="106.23" r="0.4" fill="#888"/>
<circle cx="317.01" cy="96.45" r="0.4" fill="#999"/>
<circle cx="312.37" cy="100.19" r="0.4" fill="#888"/>
<circle cx="312.66" cy="98.36" r="0.4" fill="#999"/>
<circle cx="316.17" cy="98.26" r="0.4" fill="#999"/>
<circle cx="314.26" cy="96.86" r="0.4" fill="#aaa"/>
<circle cx="308.84" cy="98.45" r="0.4" fill="#aaa"/>
<circle cx="309.81" cy="100.8" r="0.4" fill="#888"/>
<circle cx="305.4" cy="100.83" r="0.4" fill="#999"/>
<circle cx="309.77" cy="102.69" r="0.4" fill="#999"/>
<circle cx="311.56" cy="100.48" r="0.4" fill="#999"/>
<circle cx="313.26" cy="96.82" r="0.4" fill="#aaa"/>
<circle cx="314.15" cy="99.43" r="0.4" fill="#aaa"/>
<circle cx="316.14" cy="98.34" r="0.4" fill="#aaa"/>
<circle cx="320.4" cy="95.33" r="0.4" fill="#aaa"/>
<circle cx="312.26" cy="102.09" r="0.4" fill="#aaa"/>
<circle cx="310.09" cy="102.63" r="0.4" fill="#aaa"/>
<circle cx="308.81" cy="103.19" r="0.4" fill="#999"/>
<circle cx="312.47" cy="98.85" r="0.4" fill="#888"/>
<circle cx="315.5" cy="97.37" r="0.4" fill="#888"/>
<circle cx="319.28" cy="91.94" r="0.4" fill="#999"/>
<circle cx="314.97" cy="99.08" r="0.4" fill="#aaa"/>
<circle cx="312.84" cy="100.44" r="0.4" fill="#aaa"/>
<circle cx="312.12" cy="101.9" r="0.4" fill="#888"/>
<circle cx="311.88" cy="99.94" r="0.4" fill="#888"/>
<circle cx="310.32" cy="101.69" r="0.4" fill="#888"/>
<circle cx="318.56" cy="96.81" r="0.4" fill="#aaa"/>
<circle cx="317.18" cy="96.46" r="0.4" fill="#888"/>
<circle cx="311.56" cy="101.62" r="0.4" fill="#888"/>
<circle cx="295.68" cy="118.89" r="0.4" fill="#999"/>
<circle cx="301.76" cy="117.18" r="0.4" fill="#aaa"/>
<circle cx="285.35" cy="125.16" r="0.4" fill="#bbb"/>
<circle cx="290.2" cy="126.31" r="0.4" fill="#aaa"/>
<circle cx="292.6" cy="110.11" r="0.4" fill="#aaa"/>
<circle cx="293.1" cy="121.27" r="0.4" fill="#bbb"/>
<circle cx="299.84" cy="119.71" r="0.4" fill="#aaa"/>
<circle cx="294.35" cy="120.42" r="0.4" fill="#bbb"/>
<circle cx="291.56" cy="118.99" r="0.4" fill="#999"/>
<circle cx="292.57" cy="127.56" r="0.4" fill="#aaa"/>
<circle cx="293.99" cy="115.48" r="0.4" fill="#999"/>
<circle cx="291.17" cy="122.16" r="0.4" fill="#bbb"/>
<circle cx="298.5" cy="120.72" r="0.4" fill="#bbb"/>
<circle cx="295.04" cy="112.58" r="0.4" fill="#bbb"/>
<circle cx="292.67" cy="115.84" r="0.4" fill="#bbb"/>
<circle cx="294.73" cy="108.62" r="0.4" fill="#aaa"/>
<circle cx="293.95" cy="119.97" r="0.4" fill="#aaa"/>
<circle cx="297.28" cy="119.3" r="0.4" fill="#bbb"/>
<circle cx="291.07" cy="123.14" r="0.4" fill="#bbb"/>
<circle cx="296.4" cy="118.38" r="0.4" fill="#aaa"/>
<circle cx="298.17" cy="112.78" r="0.4" fill="#aaa"/>
<circle cx="299.55" cy="115.85" r="0.4" fill="#999"/>
<circle cx="288.3" cy="120.14" r="0.4" fill="#999"/>
<circle cx="291.7" cy="112.69" r="0.4" fill="#bbb"/>
<circle cx="293.82" cy="123.99" r="0.4" fill="#bbb"/>
<circle cx="296.61" cy="110.77" r="0.4" fill="#aaa"/>
<circle cx="291.39" cy="118.36" r="0.4" fill="#bbb"/>
<circle cx="292.14" cy="119.94" r="0.4" fill="#999"/>
<circle cx="287.87" cy="117.29" r="0.4" fill="#bbb"/>
<circle cx="293.89" cy="117.85" r="0.4" fill="#bbb"/>
<circle cx="295.64" cy="119.57" r="0.4" fill="#aaa"/>
<circle cx="295.99" cy="114.49" r="0.4" fill="#bbb"/>
<circle cx="288.94" cy="119.04" r="0.4" fill="#999"/>
<circle cx="290.39" cy="122.28" r="0.4" fill="#999"/>
<circle cx="299.49" cy="121.84" r="0.4" fill="#aaa"/>
<circle cx="296.44" cy="117.36" r="0.4" fill="#999"/>
<circle cx="293.45" cy="120.58" r="0.4" fill="#bbb"/>
<circle cx="297.58" cy="110.56" r="0.4" fill="#bbb"/>
<circle cx="294.24" cy="117.58" r="0.4" fill="#999"/>
<circle cx="288.58" cy="121.94" r="0.4" fill="#bbb"/>
<circle cx="292.36" cy="99.94" r="0.4" fill="#bbb"/>
<circle cx="294.88" cy="100.65" r="0.4" fill="#bbb"/>
<circle cx="292.11" cy="101.24" r="0.4" fill="#bbb"/>
<circle cx="291.78" cy="99.48" r="0.4" fill="#bbb"/>
<circle cx="290.57" cy="99.58" r="0.4" fill="#bbb"/>
<circle cx="289.12" cy="102.49" r="0.4" fill="#bbb"/>
<ellipse cx="362" cy="100.5" rx="1.6" ry="3" transform="rotate(35 362 100.5)" fill="#999" filter="url(#bl1)"/>
<circle cx="365.23" cy="102.05" r="0.4" fill="#666"/>
<circle cx="364.53" cy="102.57" r="0.4" fill="#888"/>
<circle cx="363.76" cy="100.94" r="0.4" fill="#666"/>
<circle cx="362.82" cy="102.36" r="0.4" fill="#777"/>
<circle cx="362.27" cy="95.93" r="0.4" fill="#777"/>
<circle cx="359.99" cy="99.27" r="0.4" fill="#777"/>
<circle cx="360.98" cy="99.71" r="0.4" fill="#888"/>
<circle cx="361.67" cy="96.92" r="0.4" fill="#888"/>
<circle cx="359.58" cy="97.83" r="0.4" fill="#888"/>
<circle cx="360.78" cy="96.88" r="0.4" fill="#777"/>
<circle cx="362.96" cy="100.74" r="0.4" fill="#666"/>
<circle cx="361.26" cy="95.32" r="0.4" fill="#777"/>
<circle cx="362.97" cy="100.89" r="0.4" fill="#666"/>
<circle cx="360.71" cy="100.46" r="0.4" fill="#888"/>
<circle cx="363.19" cy="104.59" r="0.4" fill="#777"/>
<circle cx="363.47" cy="99.52" r="0.4" fill="#666"/>
<circle cx="362.13" cy="99.28" r="0.4" fill="#777"/>
<circle cx="364.09" cy="104.02" r="0.4" fill="#888"/>
<circle cx="361.18" cy="99.22" r="0.4" fill="#777"/>
<circle cx="361.11" cy="100.86" r="0.4" fill="#777"/>
<circle cx="362.51" cy="100.41" r="0.4" fill="#777"/>
<circle cx="362.95" cy="100.83" r="0.4" fill="#666"/>
<circle cx="360" cy="100.39" r="0.4" fill="#777"/>
<circle cx="365.48" cy="98.28" r="0.4" fill="#888"/>
<circle cx="362.05" cy="101.64" r="0.4" fill="#888"/>
<circle cx="362.59" cy="99.83" r="0.4" fill="#777"/>
<circle cx="362.37" cy="99.48" r="0.4" fill="#666"/>
<circle cx="362.26" cy="102.62" r="0.4" fill="#666"/>
<circle cx="362.28" cy="98.54" r="0.4" fill="#666"/>
<circle cx="362.1" cy="99.74" r="0.4" fill="#777"/>
<circle cx="359.16" cy="98.71" r="0.4" fill="#777"/>
<circle cx="361.4" cy="102.15" r="0.4" fill="#777"/>
<circle cx="359.97" cy="96.79" r="0.4" fill="#888"/>
<circle cx="359.32" cy="98.13" r="0.4" fill="#777"/>
<circle cx="363.39" cy="98.75" r="0.4" fill="#666"/>
<circle cx="363.47" cy="100.3" r="0.4" fill="#777"/>
<circle cx="362.57" cy="98.51" r="0.4" fill="#777"/>
<circle cx="360.75" cy="99.54" r="0.4" fill="#777"/>
<circle cx="363.21" cy="100.15" r="0.4" fill="#777"/>
<circle cx="365.09" cy="101.74" r="0.4" fill="#666"/>
<circle cx="358.74" cy="99.74" r="0.4" fill="#777"/>
<circle cx="362.36" cy="101.84" r="0.4" fill="#777"/>
<circle cx="364.18" cy="99.48" r="0.4" fill="#666"/>
<circle cx="365.13" cy="103.3" r="0.4" fill="#666"/>
<circle cx="363.61" cy="102.1" r="0.4" fill="#777"/>
<circle cx="351.19" cy="125.61" r="0.4" fill="#bbb"/>
<circle cx="339.23" cy="120.53" r="0.4" fill="#aaa"/>
<circle cx="346.28" cy="126.77" r="0.4" fill="#bbb"/>
<circle cx="353.91" cy="111.81" r="0.4" fill="#bbb"/>
<circle cx="348.42" cy="130.16" r="0.4" fill="#aaa"/>
<circle cx="341.32" cy="130.82" r="0.4" fill="#aaa"/>
<circle cx="353.84" cy="115.08" r="0.4" fill="#bbb"/>
<circle cx="343.49" cy="119.56" r="0.4" fill="#999"/>
<circle cx="349.73" cy="114.68" r="0.4" fill="#bbb"/>
<circle cx="352.78" cy="120.95" r="0.4" fill="#aaa"/>
<circle cx="343.38" cy="129.21" r="0.4" fill="#bbb"/>
<circle cx="345.08" cy="112.08" r="0.4" fill="#bbb"/>
<circle cx="339.68" cy="115.53" r="0.4" fill="#999"/>
<circle cx="348.37" cy="119.47" r="0.4" fill="#bbb"/>
<circle cx="339.54" cy="111.54" r="0.4" fill="#bbb"/>
<circle cx="342.96" cy="116.49" r="0.4" fill="#999"/>
<circle cx="347.39" cy="118.07" r="0.4" fill="#bbb"/>
<circle cx="349.63" cy="117.38" r="0.4" fill="#bbb"/>
<circle cx="351.64" cy="112.4" r="0.4" fill="#999"/>
<circle cx="339.35" cy="116.58" r="0.4" fill="#bbb"/>
<circle cx="341.09" cy="115.37" r="0.4" fill="#bbb"/>
<circle cx="348.32" cy="125.54" r="0.4" fill="#aaa"/>
<circle cx="344.44" cy="119.6" r="0.4" fill="#999"/>
<circle cx="341.18" cy="119.09" r="0.4" fill="#bbb"/>
<circle cx="351.46" cy="121.91" r="0.4" fill="#bbb"/>
<circle cx="340.1" cy="118.42" r="0.4" fill="#bbb"/>
<circle cx="346.8" cy="126.74" r="0.4" fill="#999"/>
<circle cx="353.25" cy="125.38" r="0.4" fill="#999"/>
<circle cx="343.46" cy="130.14" r="0.4" fill="#999"/>
<circle cx="352.3" cy="121.08" r="0.4" fill="#aaa"/>
<circle cx="352.25" cy="127.44" r="0.4" fill="#999"/>
<circle cx="348.37" cy="129.12" r="0.4" fill="#aaa"/>
<circle cx="348.39" cy="113.22" r="0.4" fill="#aaa"/>
<circle cx="354.15" cy="113.87" r="0.4" fill="#999"/>
<circle cx="342.95" cy="128.88" r="0.4" fill="#bbb"/>
<circle cx="340.36" cy="123.49" r="0.4" fill="#bbb"/>
<circle cx="338.62" cy="115.1" r="0.4" fill="#999"/>
<circle cx="344.75" cy="124.7" r="0.4" fill="#bbb"/>
<circle cx="354.35" cy="118.89" r="0.4" fill="#bbb"/>
<circle cx="350.57" cy="111.74" r="0.4" fill="#999"/>
<circle cx="412.48" cy="100.96" r="0.4" fill="#888"/>
<circle cx="414.55" cy="100.74" r="0.4" fill="#888"/>
<circle cx="416.55" cy="97.88" r="0.4" fill="#888"/>
<circle cx="419.92" cy="97.58" r="0.4" fill="#555"/>
<circle cx="417.12" cy="99.5" r="0.4" fill="#888"/>
<circle cx="410.88" cy="101.98" r="0.4" fill="#777"/>
<circle cx="425.72" cy="90.43" r="0.4" fill="#666"/>
<circle cx="412.45" cy="99.9" r="0.4" fill="#888"/>
<circle cx="409.31" cy="102.17" r="0.4" fill="#777"/>
<circle cx="413.72" cy="100.53" r="0.4" fill="#555"/>
<circle cx="428.97" cy="87.48" r="0.4" fill="#555"/>
<circle cx="412.23" cy="100.51" r="0.4" fill="#555"/>
<circle cx="415.05" cy="95.51" r="0.4" fill="#777"/>
<circle cx="407.75" cy="103.69" r="0.4" fill="#777"/>
<circle cx="422.79" cy="93.47" r="0.4" fill="#888"/>
<circle cx="418.3" cy="98.28" r="0.4" fill="#777"/>
<circle cx="421.23" cy="94.38" r="0.4" fill="#777"/>
<circle cx="413.38" cy="99.44" r="0.4" fill="#777"/>
<circle cx="417.81" cy="97.17" r="0.4" fill="#666"/>
<circle cx="413.47" cy="99.46" r="0.4" fill="#555"/>
<circle cx="423.15" cy="92.16" r="0.4" fill="#777"/>
<circle cx="411.79" cy="101.22" r="0.4" fill="#555"/>
<circle cx="416.06" cy="98.77" r="0.4" fill="#888"/>
<circle cx="421.65" cy="95.47" r="0.4" fill="#888"/>
<circle cx="415.91" cy="97.74" r="0.4" fill="#777"/>
<circle cx="411.32" cy="100.2" r="0.4" fill="#555"/>
<circle cx="413.57" cy="98.52" r="0.4" fill="#888"/>
<circle cx="410.33" cy="102.8" r="0.4" fill="#888"/>
<circle cx="404.52" cy="107.68" r="0.4" fill="#555"/>
<circle cx="425.54" cy="96.56" r="0.4" fill="#666"/>
<circle cx="415.21" cy="98.32" r="0.4" fill="#888"/>
<circle cx="416.27" cy="96.25" r="0.4" fill="#666"/>
<circle cx="413.32" cy="100.13" r="0.4" fill="#666"/>
<circle cx="411.93" cy="98.93" r="0.4" fill="#777"/>
<circle cx="421.75" cy="95.99" r="0.4" fill="#777"/>
<circle cx="412.77" cy="100.32" r="0.4" fill="#555"/>
<circle cx="409.1" cy="101.19" r="0.4" fill="#555"/>
<circle cx="423.85" cy="92.43" r="0.4" fill="#888"/>
<circle cx="413.08" cy="100.71" r="0.4" fill="#666"/>
<circle cx="418.3" cy="95.16" r="0.4" fill="#777"/>
<circle cx="422.15" cy="95.42" r="0.4" fill="#777"/>
<circle cx="400.37" cy="105.6" r="0.4" fill="#666"/>
<circle cx="418.81" cy="94.21" r="0.4" fill="#666"/>
<circle cx="402.44" cy="108.82" r="0.4" fill="#888"/>
<circle cx="411.07" cy="99.77" r="0.4" fill="#777"/>
<circle cx="421.38" cy="95.83" r="0.4" fill="#777"/>
<circle cx="413.91" cy="102.81" r="0.4" fill="#555"/>
<circle cx="404.88" cy="104.86" r="0.4" fill="#555"/>
<circle cx="420.34" cy="96.85" r="0.4" fill="#777"/>
<circle cx="414.96" cy="97.78" r="0.4" fill="#666"/>
<circle cx="409.33" cy="102.48" r="0.4" fill="#777"/>
<circle cx="418.94" cy="96.76" r="0.4" fill="#777"/>
<circle cx="409.39" cy="106.18" r="0.4" fill="#777"/>
<circle cx="411.49" cy="100.1" r="0.4" fill="#888"/>
<circle cx="411.8" cy="102.71" r="0.4" fill="#666"/>
<circle cx="419.31" cy="94.14" r="0.4" fill="#555"/>
<circle cx="412.04" cy="102.47" r="0.4" fill="#555"/>
<circle cx="421.16" cy="90.47" r="0.4" fill="#666"/>
<circle cx="414.91" cy="98.6" r="0.4" fill="#888"/>
<circle cx="411.26" cy="101.27" r="0.4" fill="#777"/>
<circle cx="409.39" cy="103.06" r="0.4" fill="#888"/>
<circle cx="412.56" cy="101.44" r="0.4" fill="#555"/>
<circle cx="414.35" cy="101.04" r="0.4" fill="#777"/>
<circle cx="408.41" cy="104.37" r="0.4" fill="#666"/>
<circle cx="422.76" cy="91.37" r="0.4" fill="#777"/>
<circle cx="417.98" cy="96.29" r="0.4" fill="#555"/>
<circle cx="407.23" cy="104.87" r="0.4" fill="#666"/>
<circle cx="416.85" cy="100.92" r="0.4" fill="#555"/>
<circle cx="414.99" cy="98.46" r="0.4" fill="#888"/>
<circle cx="417.44" cy="95.98" r="0.4" fill="#888"/>
<circle cx="402.05" cy="111.3" r="0.4" fill="#bbb"/>
<circle cx="390.57" cy="120.08" r="0.4" fill="#999"/>
<circle cx="395.92" cy="114.11" r="0.4" fill="#aaa"/>
<circle cx="395.93" cy="126.32" r="0.4" fill="#bbb"/>
<circle cx="392.58" cy="121.07" r="0.4" fill="#aaa"/>
<circle cx="404.75" cy="124.61" r="0.4" fill="#aaa"/>
<circle cx="396.27" cy="126.31" r="0.4" fill="#aaa"/>
<circle cx="393.88" cy="129.34" r="0.4" fill="#999"/>
<circle cx="406.4" cy="125.91" r="0.4" fill="#bbb"/>
<circle cx="398.55" cy="120.19" r="0.4" fill="#999"/>
<circle cx="402.15" cy="117.35" r="0.4" fill="#aaa"/>
<circle cx="406.27" cy="116.57" r="0.4" fill="#999"/>
<circle cx="391.89" cy="110.87" r="0.4" fill="#999"/>
<circle cx="393.14" cy="122.41" r="0.4" fill="#aaa"/>
<circle cx="396.57" cy="130" r="0.4" fill="#aaa"/>
<circle cx="395.56" cy="114.36" r="0.4" fill="#aaa"/>
<circle cx="392.2" cy="111.11" r="0.4" fill="#bbb"/>
<circle cx="400.72" cy="121.05" r="0.4" fill="#999"/>
<circle cx="402.08" cy="115.27" r="0.4" fill="#bbb"/>
<circle cx="404.54" cy="127.05" r="0.4" fill="#999"/>
<circle cx="394.54" cy="113.7" r="0.4" fill="#aaa"/>
<circle cx="405.61" cy="129.43" r="0.4" fill="#bbb"/>
<circle cx="398.63" cy="127.31" r="0.4" fill="#999"/>
<circle cx="391.61" cy="116.55" r="0.4" fill="#999"/>
<circle cx="390.54" cy="129.3" r="0.4" fill="#999"/>
<circle cx="404.8" cy="111.45" r="0.4" fill="#aaa"/>
<circle cx="394.44" cy="127.99" r="0.4" fill="#999"/>
<circle cx="392.09" cy="121.45" r="0.4" fill="#999"/>
<circle cx="392.57" cy="112.54" r="0.4" fill="#bbb"/>
<circle cx="394.83" cy="127.36" r="0.4" fill="#999"/>
<circle cx="400.01" cy="127.39" r="0.4" fill="#aaa"/>
<circle cx="390.56" cy="121.86" r="0.4" fill="#bbb"/>
<circle cx="394.48" cy="119.7" r="0.4" fill="#999"/>
<circle cx="401.96" cy="115.08" r="0.4" fill="#999"/>
<circle cx="392.56" cy="127.93" r="0.4" fill="#999"/>
<circle cx="399.63" cy="112.34" r="0.4" fill="#bbb"/>
<circle cx="396.17" cy="128.14" r="0.4" fill="#bbb"/>
<circle cx="392.49" cy="129.67" r="0.4" fill="#aaa"/>
<circle cx="405.04" cy="118.49" r="0.4" fill="#999"/>
<circle cx="393.31" cy="125.38" r="0.4" fill="#bbb"/>
<circle cx="393.94" cy="110.59" r="0.4" fill="#999"/>
<circle cx="398.27" cy="117.6" r="0.4" fill="#bbb"/>
<circle cx="404.23" cy="119.03" r="0.4" fill="#bbb"/>
<circle cx="390.74" cy="116.31" r="0.4" fill="#999"/>
<circle cx="400.3" cy="123.69" r="0.4" fill="#bbb"/>
<circle cx="392.76" cy="116.73" r="0.4" fill="#999"/>
<circle cx="397.1" cy="121.19" r="0.4" fill="#bbb"/>
<circle cx="404.82" cy="124.47" r="0.4" fill="#bbb"/>
<circle cx="398.56" cy="129.2" r="0.4" fill="#aaa"/>
<circle cx="404.18" cy="127.02" r="0.4" fill="#999"/>
<circle cx="447.75" cy="114.63" r="0.4" fill="#999"/>
<circle cx="455.45" cy="120.21" r="0.4" fill="#888"/>
<circle cx="447.28" cy="119.34" r="0.4" fill="#999"/>
<circle cx="455.32" cy="128.59" r="0.4" fill="#999"/>
<circle cx="447.5" cy="121.81" r="0.4" fill="#aaa"/>
<circle cx="457.58" cy="122.19" r="0.4" fill="#aaa"/>
<circle cx="444.81" cy="122.17" r="0.4" fill="#888"/>
<circle cx="448.6" cy="130.85" r="0.4" fill="#999"/>
<circle cx="450.55" cy="114.77" r="0.4" fill="#888"/>
<circle cx="456.98" cy="119.88" r="0.4" fill="#999"/>
<circle cx="455.99" cy="129.91" r="0.4" fill="#888"/>
<circle cx="452.1" cy="118.86" r="0.4" fill="#888"/>
<circle cx="453.99" cy="125.27" r="0.4" fill="#888"/>
<circle cx="444.36" cy="112.13" r="0.4" fill="#999"/>
<circle cx="444.17" cy="112.66" r="0.4" fill="#888"/>
<circle cx="452.79" cy="128.27" r="0.4" fill="#aaa"/>
<circle cx="454" cy="127.34" r="0.4" fill="#aaa"/>
<circle cx="452.36" cy="123.75" r="0.4" fill="#aaa"/>
<circle cx="451.67" cy="110.96" r="0.4" fill="#999"/>
<circle cx="449.72" cy="127.81" r="0.4" fill="#888"/>
<circle cx="452.47" cy="115.82" r="0.4" fill="#888"/>
<circle cx="446.04" cy="117.57" r="0.4" fill="#aaa"/>
<circle cx="445.85" cy="114.7" r="0.4" fill="#888"/>
<circle cx="449.39" cy="112.4" r="0.4" fill="#999"/>
<circle cx="444.94" cy="110.81" r="0.4" fill="#aaa"/>
<circle cx="448.21" cy="114.31" r="0.4" fill="#888"/>
<circle cx="457.98" cy="125.82" r="0.4" fill="#999"/>
<circle cx="454.82" cy="122.01" r="0.4" fill="#999"/>
<circle cx="455.36" cy="115.79" r="0.4" fill="#aaa"/>
<circle cx="445.94" cy="121.78" r="0.4" fill="#888"/>
<circle cx="458.71" cy="122.44" r="0.4" fill="#999"/>
<circle cx="456.01" cy="111.27" r="0.4" fill="#aaa"/>
<circle cx="444.25" cy="111.31" r="0.4" fill="#aaa"/>
<circle cx="446.56" cy="111.87" r="0.4" fill="#888"/>
<circle cx="455.66" cy="113.41" r="0.4" fill="#999"/>
<circle cx="447" cy="117.95" r="0.4" fill="#888"/>
<circle cx="456.55" cy="127.61" r="0.4" fill="#888"/>
<circle cx="452.68" cy="129.67" r="0.4" fill="#aaa"/>
<circle cx="446.29" cy="123.15" r="0.4" fill="#888"/>
<circle cx="448.82" cy="122.18" r="0.4" fill="#888"/>
<circle cx="459.32" cy="118.55" r="0.4" fill="#888"/>
<circle cx="454.69" cy="115.11" r="0.4" fill="#888"/>
<circle cx="446.48" cy="112.91" r="0.4" fill="#888"/>
<circle cx="456.86" cy="121.71" r="0.4" fill="#aaa"/>
<circle cx="457.62" cy="127.32" r="0.4" fill="#888"/>
<circle cx="453.96" cy="121.93" r="0.4" fill="#aaa"/>
<circle cx="452.55" cy="116.5" r="0.4" fill="#aaa"/>
<circle cx="449.86" cy="128.67" r="0.4" fill="#999"/>
<circle cx="442.66" cy="118.63" r="0.4" fill="#999"/>
<circle cx="450.4" cy="130.11" r="0.4" fill="#aaa"/>
<circle cx="443.77" cy="115.17" r="0.4" fill="#999"/>
<circle cx="456.51" cy="110.65" r="0.4" fill="#aaa"/>
<circle cx="443.67" cy="121.23" r="0.4" fill="#888"/>
<circle cx="452.36" cy="124.53" r="0.4" fill="#aaa"/>
<circle cx="455.79" cy="120.16" r="0.4" fill="#888"/>
<circle cx="447.38" cy="120.01" r="0.4" fill="#aaa"/>
<circle cx="451.35" cy="116.16" r="0.4" fill="#888"/>
<circle cx="452.37" cy="130.48" r="0.4" fill="#aaa"/>
<circle cx="446.93" cy="125.96" r="0.4" fill="#888"/>
<circle cx="447.26" cy="118.14" r="0.4" fill="#999"/>
<circle cx="450.78" cy="128.77" r="0.4" fill="#aaa"/>
<circle cx="445.49" cy="130.06" r="0.4" fill="#aaa"/>
<circle cx="450.82" cy="130.91" r="0.4" fill="#aaa"/>
<circle cx="445" cy="119.49" r="0.4" fill="#888"/>
<circle cx="442.6" cy="122.62" r="0.4" fill="#aaa"/>
<circle cx="456.96" cy="115.21" r="0.4" fill="#999"/>
<circle cx="459.38" cy="120.47" r="0.4" fill="#aaa"/>
<circle cx="453.86" cy="117.91" r="0.4" fill="#aaa"/>
<circle cx="446.92" cy="128.13" r="0.4" fill="#aaa"/>
<circle cx="454.4" cy="119.27" r="0.4" fill="#aaa"/>
<circle cx="450.57" cy="113.91" r="0.4" fill="#aaa"/>
<circle cx="452.97" cy="116.61" r="0.4" fill="#888"/>
<circle cx="457.58" cy="114.13" r="0.4" fill="#aaa"/>
<circle cx="445.43" cy="122.11" r="0.4" fill="#888"/>
<circle cx="459.44" cy="112.32" r="0.4" fill="#999"/>
<circle cx="442.4" cy="130.54" r="0.4" fill="#999"/>
<circle cx="443.63" cy="126.6" r="0.4" fill="#888"/>
<circle cx="457.01" cy="118.07" r="0.4" fill="#999"/>
<circle cx="457.26" cy="112.84" r="0.4" fill="#aaa"/>
<circle cx="459.21" cy="127.26" r="0.4" fill="#888"/>
<circle cx="455.93" cy="122.79" r="0.4" fill="#999"/>
<circle cx="445.54" cy="130.75" r="0.4" fill="#aaa"/>
<circle cx="446.97" cy="121.72" r="0.4" fill="#aaa"/>
<circle cx="443.1" cy="123.78" r="0.4" fill="#999"/>
<circle cx="448.22" cy="120.62" r="0.4" fill="#999"/>
<circle cx="469.56" cy="102.58" r="0.4" fill="#bbb"/>
<circle cx="464.22" cy="106.92" r="0.4" fill="#bbb"/>
<circle cx="463.63" cy="101.62" r="0.4" fill="#aaa"/>
<circle cx="471.59" cy="105.27" r="0.4" fill="#bbb"/>
<circle cx="465.78" cy="104.08" r="0.4" fill="#bbb"/>
<circle cx="454.24" cy="108.66" r="0.4" fill="#bbb"/>
<circle cx="458.61" cy="111.65" r="0.4" fill="#bbb"/>
<circle cx="464.05" cy="104.9" r="0.4" fill="#bbb"/>
<circle cx="457.16" cy="104.85" r="0.4" fill="#aaa"/>
<circle cx="480.46" cy="97.9" r="0.4" fill="#aaa"/>
<circle cx="458.87" cy="105.22" r="0.4" fill="#bbb"/>
<circle cx="475.27" cy="96.26" r="0.4" fill="#bbb"/>
<circle cx="472.51" cy="100.1" r="0.4" fill="#aaa"/>
<circle cx="466.19" cy="105.05" r="0.4" fill="#bbb"/>
<circle cx="466.99" cy="103.98" r="0.4" fill="#aaa"/>
<circle cx="458.75" cy="103.35" r="0.4" fill="#aaa"/>
<circle cx="464.03" cy="103.5" r="0.4" fill="#aaa"/>
<circle cx="464.54" cy="104.12" r="0.4" fill="#aaa"/>
<circle cx="470.63" cy="102.08" r="0.4" fill="#bbb"/>
<circle cx="468.41" cy="103.78" r="0.4" fill="#aaa"/>
<circle cx="466.67" cy="101.22" r="0.4" fill="#bbb"/>
<circle cx="461.26" cy="104.56" r="0.4" fill="#aaa"/>
<rect x="285.3" y="38.7" width="43.2" height="43.8" fill="none" stroke="#333" stroke-width="0.9"/>
<line x1="302.3" y1="38.7" x2="302.3" y2="82.5" stroke="#333" stroke-width="0.9"/>
<line x1="285.3" y1="60.3" x2="328.5" y2="60.3" stroke="#333" stroke-width="0.9"/>
<text x="286.3" y="44" font-size="5.3" font-weight="bold" text-anchor="start" fill="#000">1.9</text>
<text x="327.6" y="44" font-size="5.3" font-weight="bold" text-anchor="end" fill="#000">60.0</text>
<text x="327.6" y="81.2" font-size="5.3" font-weight="bold" text-anchor="end" fill="#000">5.1</text>
<rect x="336.2" y="38.7" width="43.6" height="43.8" fill="none" stroke="#333" stroke-width="0.9"/>
<line x1="352.6" y1="38.7" x2="352.6" y2="82.5" stroke="#333" stroke-width="0.9"/>
<line x1="336.2" y1="60.3" x2="379.8" y2="60.3" stroke="#333" stroke-width="0.9"/>
<text x="337.2" y="44" font-size="5.3" font-weight="bold" text-anchor="start" fill="#000">5,4</text>
<text x="378.9" y="44" font-size="5.3" font-weight="bold" text-anchor="end" fill="#000">60,8</text>
<text x="378.9" y="81.2" font-size="5.3" font-weight="bold" text-anchor="end" fill="#000">5,6</text>
<rect x="388.2" y="38.7" width="43" height="43.8" fill="none" stroke="#333" stroke-width="0.9"/>
<line x1="404.5" y1="38.7" x2="404.5" y2="82.5" stroke="#333" stroke-width="0.9"/>
<line x1="388.2" y1="60.3" x2="431.2" y2="60.3" stroke="#333" stroke-width="0.9"/>
<text x="389.2" y="44" font-size="5.3" font-weight="bold" text-anchor="start" fill="#000">16,4</text>
<text x="430.3" y="44" font-size="5.3" font-weight="bold" text-anchor="end" fill="#000">33,9</text>
<text x="430.3" y="81.2" font-size="5.3" font-weight="bold" text-anchor="end" fill="#000">4,7</text>
<rect x="440.5" y="38.7" width="43.1" height="43.8" fill="none" stroke="#333" stroke-width="0.9"/>
<line x1="456.8" y1="38.7" x2="456.8" y2="82.5" stroke="#333" stroke-width="0.9"/>
<line x1="440.5" y1="60.3" x2="483.6" y2="60.3" stroke="#333" stroke-width="0.9"/>
<text x="441.5" y="44" font-size="5.3" font-weight="bold" text-anchor="start" fill="#000">0,2</text>
<text x="482.7" y="44" font-size="5.3" font-weight="bold" text-anchor="end" fill="#000">0</text>
<text x="482.7" y="81.2" font-size="5.3" font-weight="bold" text-anchor="end" fill="#000">0,2</text>
<rect x="285.3" y="90.3" width="43.2" height="42.5" fill="none" stroke="#333" stroke-width="0.9"/>
<line x1="304" y1="90.3" x2="304" y2="132.8" stroke="#333" stroke-width="0.9"/>
<line x1="285.3" y1="109.1" x2="328.5" y2="109.1" stroke="#333" stroke-width="0.9"/>
<text x="286.3" y="95.6" font-size="5.3" font-weight="bold" text-anchor="start" fill="#000">6.2</text>
<text x="327.6" y="95.6" font-size="5.3" font-weight="bold" text-anchor="end" fill="#000">42.5</text>
<text x="327.6" y="131.5" font-size="5.3" font-weight="bold" text-anchor="end" fill="#000">1.2</text>
<rect x="336.2" y="90.3" width="43.6" height="42.5" fill="none" stroke="#333" stroke-width="0.9"/>
<line x1="356" y1="90.3" x2="356" y2="132.8" stroke="#333" stroke-width="0.9"/>
<line x1="336.2" y1="109.1" x2="379.8" y2="109.1" stroke="#333" stroke-width="0.9"/>
<text x="337.2" y="95.6" font-size="5.3" font-weight="bold" text-anchor="start" fill="#000">5.3</text>
<text x="378.9" y="95.6" font-size="5.3" font-weight="bold" text-anchor="end" fill="#000">61.1</text>
<rect x="388.2" y="90.3" width="43" height="42.5" fill="none" stroke="#333" stroke-width="0.9"/>
<line x1="407.9" y1="90.3" x2="407.9" y2="132.8" stroke="#333" stroke-width="0.9"/>
<line x1="388.2" y1="109.1" x2="431.2" y2="109.1" stroke="#333" stroke-width="0.9"/>
<text x="389.2" y="95.6" font-size="5.3" font-weight="bold" text-anchor="start" fill="#000">7.2</text>
<text x="430.3" y="95.6" font-size="5.3" font-weight="bold" text-anchor="end" fill="#000">41.9</text>
<text x="430.3" y="131.5" font-size="5.3" font-weight="bold" text-anchor="end" fill="#000">1.2</text>
<rect x="440.5" y="90.3" width="43.1" height="42.5" fill="none" stroke="#333" stroke-width="0.9"/>
<line x1="460.3" y1="90.3" x2="460.3" y2="132.8" stroke="#333" stroke-width="0.9"/>
<line x1="440.5" y1="109.1" x2="483.6" y2="109.1" stroke="#333" stroke-width="0.9"/>
<text x="441.5" y="95.6" font-size="5.3" font-weight="bold" text-anchor="start" fill="#000">2.8</text>
<text x="482.7" y="95.6" font-size="5.3" font-weight="bold" text-anchor="end" fill="#000">4.6</text>
<text x="482.7" y="131.5" font-size="5.3" font-weight="bold" text-anchor="end" fill="#000">0.7</text>
<line x1="264.2" y1="149.35" x2="264.2" y2="130.3" stroke="#000" stroke-width="1.15"/>
<line x1="263.65" y1="148.8" x2="282.9" y2="148.8" stroke="#000" stroke-width="1.15"/>
<path d="M264.2,127.7 L261.7,131 L266.7,131 z" fill="#000"/>
<path d="M285.5,148.8 L282.2,146.3 L282.2,151.3 z" fill="#000"/>
<text x="259.3" y="139.4" font-size="5" font-weight="bold" text-anchor="middle" fill="#000" transform="rotate(-90 259.3 139.4)">TNFα</text>
<text x="273" y="157.4" font-size="5.2" font-weight="bold" text-anchor="middle" fill="#000">IFNg</text>
<text x="0.6" y="180.4" font-size="10.5" font-weight="bold" text-anchor="start" fill="#000" stroke="#000" stroke-width="0.35">C</text>
<g>
<polyline points="81.4,277.6 102.8,276.65 124.2,275.69 145.4,261.38 167,233.72 188.5,219.41" fill="none" stroke="#cdcdcd" stroke-width="1.4" stroke-dasharray="3,0.9"/>
<polyline points="81.4,277.6 102.8,277.12 124.2,276.65 145.4,271.88 167,269.01 188.5,250.89" fill="none" stroke="#000" stroke-width="1.4"/>
<polyline points="81.4,277.6 102.8,275.69 124.2,273.78 145.4,239.44 167,212.73 188.5,203.19" fill="none" stroke="#000" stroke-width="1.4"/>
<polyline points="81.4,277.6 102.8,277.6 124.2,276.65 145.4,275.22 167,268.06 188.5,253.75" fill="none" stroke="#808080" stroke-width="1.4"/>
<polyline points="81.4,277.6 102.8,272.83 124.2,269.97 145.4,247.55 167,212.73 188.5,210.82" fill="none" stroke="#808080" stroke-width="1.4"/>
<path d="M81.4,275.92 L79.86,278.72 L82.94,278.72 z" fill="#cdcdcd"/>
<path d="M102.8,274.97 L101.26,277.77 L104.34,277.77 z" fill="#cdcdcd"/>
<line x1="124.2" y1="276.65" x2="124.2" y2="274.74" stroke="#cdcdcd" stroke-width="1.1"/>
<line x1="122.7" y1="274.74" x2="125.7" y2="274.74" stroke="#cdcdcd" stroke-width="1.1"/>
<line x1="122.7" y1="276.65" x2="125.7" y2="276.65" stroke="#cdcdcd" stroke-width="1.1"/>
<path d="M124.2,274.01 L122.66,276.81 L125.74,276.81 z" fill="#cdcdcd"/>
<line x1="145.4" y1="265.2" x2="145.4" y2="257.57" stroke="#cdcdcd" stroke-width="1.1"/>
<line x1="143.9" y1="257.57" x2="146.9" y2="257.57" stroke="#cdcdcd" stroke-width="1.1"/>
<line x1="143.9" y1="265.2" x2="146.9" y2="265.2" stroke="#cdcdcd" stroke-width="1.1"/>
<path d="M145.4,259.7 L143.86,262.5 L146.94,262.5 z" fill="#cdcdcd"/>
<line x1="167" y1="238.49" x2="167" y2="228.95" stroke="#cdcdcd" stroke-width="1.1"/>
<line x1="165.5" y1="228.95" x2="168.5" y2="228.95" stroke="#cdcdcd" stroke-width="1.1"/>
<line x1="165.5" y1="238.49" x2="168.5" y2="238.49" stroke="#cdcdcd" stroke-width="1.1"/>
<path d="M167,232.04 L165.46,234.84 L168.54,234.84 z" fill="#cdcdcd"/>
<line x1="188.5" y1="221.31" x2="188.5" y2="217.5" stroke="#cdcdcd" stroke-width="1.1"/>
<line x1="187" y1="217.5" x2="190" y2="217.5" stroke="#cdcdcd" stroke-width="1.1"/>
<line x1="187" y1="221.31" x2="190" y2="221.31" stroke="#cdcdcd" stroke-width="1.1"/>
<path d="M188.5,217.73 L186.96,220.53 L190.04,220.53 z" fill="#cdcdcd"/>
<rect x="80" y="276.2" width="2.8" height="2.8" fill="#000"/>
<rect x="101.4" y="275.72" width="2.8" height="2.8" fill="#000"/>
<line x1="124.2" y1="277.12" x2="124.2" y2="276.17" stroke="#000" stroke-width="1.1"/>
<line x1="122.7" y1="276.17" x2="125.7" y2="276.17" stroke="#000" stroke-width="1.1"/>
<line x1="122.7" y1="277.12" x2="125.7" y2="277.12" stroke="#000" stroke-width="1.1"/>
<rect x="122.8" y="275.25" width="2.8" height="2.8" fill="#000"/>
<line x1="145.4" y1="274.74" x2="145.4" y2="269.01" stroke="#000" stroke-width="1.1"/>
<line x1="143.9" y1="269.01" x2="146.9" y2="269.01" stroke="#000" stroke-width="1.1"/>
<line x1="143.9" y1="274.74" x2="146.9" y2="274.74" stroke="#000" stroke-width="1.1"/>
<rect x="144" y="270.48" width="2.8" height="2.8" fill="#000"/>
<line x1="167" y1="271.88" x2="167" y2="266.15" stroke="#000" stroke-width="1.1"/>
<line x1="165.5" y1="266.15" x2="168.5" y2="266.15" stroke="#000" stroke-width="1.1"/>
<line x1="165.5" y1="271.88" x2="168.5" y2="271.88" stroke="#000" stroke-width="1.1"/>
<rect x="165.6" y="267.61" width="2.8" height="2.8" fill="#000"/>
<line x1="188.5" y1="255.66" x2="188.5" y2="246.12" stroke="#000" stroke-width="1.1"/>
<line x1="187" y1="246.12" x2="190" y2="246.12" stroke="#000" stroke-width="1.1"/>
<line x1="187" y1="255.66" x2="190" y2="255.66" stroke="#000" stroke-width="1.1"/>
<rect x="187.1" y="249.49" width="2.8" height="2.8" fill="#000"/>
<circle cx="81.4" cy="277.6" r="1.4" fill="#000"/>
<line x1="102.8" y1="276.17" x2="102.8" y2="275.22" stroke="#000" stroke-width="1.1"/>
<line x1="101.3" y1="275.22" x2="104.3" y2="275.22" stroke="#000" stroke-width="1.1"/>
<line x1="101.3" y1="276.17" x2="104.3" y2="276.17" stroke="#000" stroke-width="1.1"/>
<circle cx="102.8" cy="275.69" r="1.4" fill="#000"/>
<line x1="124.2" y1="274.74" x2="124.2" y2="272.83" stroke="#000" stroke-width="1.1"/>
<line x1="122.7" y1="272.83" x2="125.7" y2="272.83" stroke="#000" stroke-width="1.1"/>
<line x1="122.7" y1="274.74" x2="125.7" y2="274.74" stroke="#000" stroke-width="1.1"/>
<circle cx="124.2" cy="273.78" r="1.4" fill="#000"/>
<line x1="145.4" y1="246.12" x2="145.4" y2="232.76" stroke="#000" stroke-width="1.1"/>
<line x1="143.9" y1="232.76" x2="146.9" y2="232.76" stroke="#000" stroke-width="1.1"/>
<line x1="143.9" y1="246.12" x2="146.9" y2="246.12" stroke="#000" stroke-width="1.1"/>
<circle cx="145.4" cy="239.44" r="1.4" fill="#000"/>
<line x1="167" y1="220.36" x2="167" y2="205.1" stroke="#000" stroke-width="1.1"/>
<line x1="165.5" y1="205.1" x2="168.5" y2="205.1" stroke="#000" stroke-width="1.1"/>
<line x1="165.5" y1="220.36" x2="168.5" y2="220.36" stroke="#000" stroke-width="1.1"/>
<circle cx="167" cy="212.73" r="1.4" fill="#000"/>
<line x1="188.5" y1="212.73" x2="188.5" y2="193.65" stroke="#000" stroke-width="1.1"/>
<line x1="187" y1="193.65" x2="190" y2="193.65" stroke="#000" stroke-width="1.1"/>
<line x1="187" y1="212.73" x2="190" y2="212.73" stroke="#000" stroke-width="1.1"/>
<circle cx="188.5" cy="203.19" r="1.4" fill="#000"/>
<rect x="80" y="276.2" width="2.8" height="2.8" fill="#808080"/>
<rect x="101.4" y="276.2" width="2.8" height="2.8" fill="#808080"/>
<line x1="124.2" y1="277.12" x2="124.2" y2="276.17" stroke="#808080" stroke-width="1.1"/>
<line x1="122.7" y1="276.17" x2="125.7" y2="276.17" stroke="#808080" stroke-width="1.1"/>
<line x1="122.7" y1="277.12" x2="125.7" y2="277.12" stroke="#808080" stroke-width="1.1"/>
<rect x="122.8" y="275.25" width="2.8" height="2.8" fill="#808080"/>
<line x1="145.4" y1="276.17" x2="145.4" y2="274.26" stroke="#808080" stroke-width="1.1"/>
<line x1="143.9" y1="274.26" x2="146.9" y2="274.26" stroke="#808080" stroke-width="1.1"/>
<line x1="143.9" y1="276.17" x2="146.9" y2="276.17" stroke="#808080" stroke-width="1.1"/>
<rect x="144" y="273.82" width="2.8" height="2.8" fill="#808080"/>
<line x1="167" y1="270.92" x2="167" y2="265.2" stroke="#808080" stroke-width="1.1"/>
<line x1="165.5" y1="265.2" x2="168.5" y2="265.2" stroke="#808080" stroke-width="1.1"/>
<line x1="165.5" y1="270.92" x2="168.5" y2="270.92" stroke="#808080" stroke-width="1.1"/>
<rect x="165.6" y="266.66" width="2.8" height="2.8" fill="#808080"/>
<line x1="188.5" y1="262.34" x2="188.5" y2="245.16" stroke="#808080" stroke-width="1.1"/>
<line x1="187" y1="245.16" x2="190" y2="245.16" stroke="#808080" stroke-width="1.1"/>
<line x1="187" y1="262.34" x2="190" y2="262.34" stroke="#808080" stroke-width="1.1"/>
<rect x="187.1" y="252.35" width="2.8" height="2.8" fill="#808080"/>
<circle cx="81.4" cy="277.6" r="1.4" fill="#808080"/>
<line x1="102.8" y1="273.78" x2="102.8" y2="271.88" stroke="#808080" stroke-width="1.1"/>
<line x1="101.3" y1="271.88" x2="104.3" y2="271.88" stroke="#808080" stroke-width="1.1"/>
<line x1="101.3" y1="273.78" x2="104.3" y2="273.78" stroke="#808080" stroke-width="1.1"/>
<circle cx="102.8" cy="272.83" r="1.4" fill="#808080"/>
<line x1="124.2" y1="271.88" x2="124.2" y2="268.06" stroke="#808080" stroke-width="1.1"/>
<line x1="122.7" y1="268.06" x2="125.7" y2="268.06" stroke="#808080" stroke-width="1.1"/>
<line x1="122.7" y1="271.88" x2="125.7" y2="271.88" stroke="#808080" stroke-width="1.1"/>
<circle cx="124.2" cy="269.97" r="1.4" fill="#808080"/>
<line x1="145.4" y1="252.32" x2="145.4" y2="242.78" stroke="#808080" stroke-width="1.1"/>
<line x1="143.9" y1="242.78" x2="146.9" y2="242.78" stroke="#808080" stroke-width="1.1"/>
<line x1="143.9" y1="252.32" x2="146.9" y2="252.32" stroke="#808080" stroke-width="1.1"/>
<circle cx="145.4" cy="247.55" r="1.4" fill="#808080"/>
<line x1="167" y1="218.45" x2="167" y2="207" stroke="#808080" stroke-width="1.1"/>
<line x1="165.5" y1="207" x2="168.5" y2="207" stroke="#808080" stroke-width="1.1"/>
<line x1="165.5" y1="218.45" x2="168.5" y2="218.45" stroke="#808080" stroke-width="1.1"/>
<circle cx="167" cy="212.73" r="1.4" fill="#808080"/>
<line x1="188.5" y1="213.68" x2="188.5" y2="207.96" stroke="#808080" stroke-width="1.1"/>
<line x1="187" y1="207.96" x2="190" y2="207.96" stroke="#808080" stroke-width="1.1"/>
<line x1="187" y1="213.68" x2="190" y2="213.68" stroke="#808080" stroke-width="1.1"/>
<circle cx="188.5" cy="210.82" r="1.4" fill="#808080"/>
<line x1="71.3" y1="191.5" x2="71.3" y2="278.2" stroke="#000" stroke-width="1.2"/>
<line x1="70.7" y1="277.6" x2="196" y2="277.6" stroke="#000" stroke-width="1.2"/>
<line x1="68.3" y1="277.6" x2="71.3" y2="277.6" stroke="#000" stroke-width="1"/>
<text x="68" y="279.6" font-size="6" font-weight="bold" text-anchor="end" fill="#000" stroke="#000" stroke-width="0.15">0</text>
<line x1="68.3" y1="258.52" x2="71.3" y2="258.52" stroke="#000" stroke-width="1"/>
<text x="68" y="260.52" font-size="6" font-weight="bold" text-anchor="end" fill="#000" stroke="#000" stroke-width="0.15">20</text>
<line x1="68.3" y1="239.44" x2="71.3" y2="239.44" stroke="#000" stroke-width="1"/>
<text x="68" y="241.44" font-size="6" font-weight="bold" text-anchor="end" fill="#000" stroke="#000" stroke-width="0.15">40</text>
<line x1="68.3" y1="220.36" x2="71.3" y2="220.36" stroke="#000" stroke-width="1"/>
<text x="68" y="222.36" font-size="6" font-weight="bold" text-anchor="end" fill="#000" stroke="#000" stroke-width="0.15">60</text>
<line x1="68.3" y1="201.28" x2="71.3" y2="201.28" stroke="#000" stroke-width="1"/>
<text x="68" y="203.28" font-size="6" font-weight="bold" text-anchor="end" fill="#000" stroke="#000" stroke-width="0.15">80</text>
<text x="81.4" y="286.6" font-size="6.1" font-weight="bold" text-anchor="middle" fill="#000" stroke="#000" stroke-width="0.2">0</text>
<text x="102.8" y="286.6" font-size="6.1" font-weight="bold" text-anchor="middle" fill="#000" stroke="#000" stroke-width="0.2">0.001</text>
<text x="124.2" y="286.6" font-size="6.1" font-weight="bold" text-anchor="middle" fill="#000" stroke="#000" stroke-width="0.2">0.01</text>
<text x="145.4" y="286.6" font-size="6.1" font-weight="bold" text-anchor="middle" fill="#000" stroke="#000" stroke-width="0.2">0.1</text>
<text x="167" y="286.6" font-size="6.1" font-weight="bold" text-anchor="middle" fill="#000" stroke="#000" stroke-width="0.2">1</text>
<text x="188.5" y="286.6" font-size="6.1" font-weight="bold" text-anchor="middle" fill="#000" stroke="#000" stroke-width="0.2">10</text>
<text x="135.4" y="181.8" font-size="9.6" font-weight="bold" text-anchor="middle" fill="#000" stroke="#000" stroke-width="0.3">IFNγ</text>
</g>
<g>
<polyline points="237.7,276.7 259.2,275.73 280.8,273.31 302.3,261.2 324.4,230.19 346.5,215.65" fill="none" stroke="#cdcdcd" stroke-width="1.4" stroke-dasharray="3,0.9"/>
<polyline points="237.7,276.7 259.2,276.22 280.8,275.73 302.3,275.25 324.4,264.1 346.5,245.69" fill="none" stroke="#000" stroke-width="1.4"/>
<polyline points="237.7,276.7 259.2,269.43 280.8,264.59 302.3,236 324.4,206.93 346.5,201.12" fill="none" stroke="#000" stroke-width="1.4"/>
<polyline points="237.7,276.7 259.2,276.22 280.8,275.25 302.3,275.25 324.4,267.01 346.5,249.57" fill="none" stroke="#808080" stroke-width="1.4"/>
<polyline points="237.7,276.7 259.2,268.95 280.8,273.31 302.3,237.94 324.4,207.9 346.5,207.9" fill="none" stroke="#808080" stroke-width="1.4"/>
<path d="M237.7,275.02 L236.16,277.82 L239.24,277.82 z" fill="#cdcdcd"/>
<path d="M259.2,274.05 L257.66,276.85 L260.74,276.85 z" fill="#cdcdcd"/>
<line x1="280.8" y1="275.25" x2="280.8" y2="271.37" stroke="#cdcdcd" stroke-width="1.1"/>
<line x1="279.3" y1="271.37" x2="282.3" y2="271.37" stroke="#cdcdcd" stroke-width="1.1"/>
<line x1="279.3" y1="275.25" x2="282.3" y2="275.25" stroke="#cdcdcd" stroke-width="1.1"/>
<path d="M280.8,271.63 L279.26,274.43 L282.34,274.43 z" fill="#cdcdcd"/>
<line x1="302.3" y1="268.95" x2="302.3" y2="253.44" stroke="#cdcdcd" stroke-width="1.1"/>
<line x1="300.8" y1="253.44" x2="303.8" y2="253.44" stroke="#cdcdcd" stroke-width="1.1"/>
<line x1="300.8" y1="268.95" x2="303.8" y2="268.95" stroke="#cdcdcd" stroke-width="1.1"/>
<path d="M302.3,259.52 L300.76,262.32 L303.84,262.32 z" fill="#cdcdcd"/>
<line x1="324.4" y1="236.97" x2="324.4" y2="223.4" stroke="#cdcdcd" stroke-width="1.1"/>
<line x1="322.9" y1="223.4" x2="325.9" y2="223.4" stroke="#cdcdcd" stroke-width="1.1"/>
<line x1="322.9" y1="236.97" x2="325.9" y2="236.97" stroke="#cdcdcd" stroke-width="1.1"/>
<path d="M324.4,228.51 L322.86,231.31 L325.94,231.31 z" fill="#cdcdcd"/>
<line x1="346.5" y1="218.56" x2="346.5" y2="212.75" stroke="#cdcdcd" stroke-width="1.1"/>
<line x1="345" y1="212.75" x2="348" y2="212.75" stroke="#cdcdcd" stroke-width="1.1"/>
<line x1="345" y1="218.56" x2="348" y2="218.56" stroke="#cdcdcd" stroke-width="1.1"/>
<path d="M346.5,213.97 L344.96,216.77 L348.04,216.77 z" fill="#cdcdcd"/>
<rect x="236.3" y="275.3" width="2.8" height="2.8" fill="#000"/>
<rect x="257.8" y="274.82" width="2.8" height="2.8" fill="#000"/>
<line x1="280.8" y1="276.7" x2="280.8" y2="274.76" stroke="#000" stroke-width="1.1"/>
<line x1="279.3" y1="274.76" x2="282.3" y2="274.76" stroke="#000" stroke-width="1.1"/>
<line x1="279.3" y1="276.7" x2="282.3" y2="276.7" stroke="#000" stroke-width="1.1"/>
<rect x="279.4" y="274.33" width="2.8" height="2.8" fill="#000"/>
<line x1="302.3" y1="276.22" x2="302.3" y2="274.28" stroke="#000" stroke-width="1.1"/>
<line x1="300.8" y1="274.28" x2="303.8" y2="274.28" stroke="#000" stroke-width="1.1"/>
<line x1="300.8" y1="276.22" x2="303.8" y2="276.22" stroke="#000" stroke-width="1.1"/>
<rect x="300.9" y="273.85" width="2.8" height="2.8" fill="#000"/>
<line x1="324.4" y1="267.01" x2="324.4" y2="261.2" stroke="#000" stroke-width="1.1"/>
<line x1="322.9" y1="261.2" x2="325.9" y2="261.2" stroke="#000" stroke-width="1.1"/>
<line x1="322.9" y1="267.01" x2="325.9" y2="267.01" stroke="#000" stroke-width="1.1"/>
<rect x="323" y="262.7" width="2.8" height="2.8" fill="#000"/>
<line x1="346.5" y1="250.54" x2="346.5" y2="240.85" stroke="#000" stroke-width="1.1"/>
<line x1="345" y1="240.85" x2="348" y2="240.85" stroke="#000" stroke-width="1.1"/>
<line x1="345" y1="250.54" x2="348" y2="250.54" stroke="#000" stroke-width="1.1"/>
<rect x="345.1" y="244.29" width="2.8" height="2.8" fill="#000"/>
<circle cx="237.7" cy="276.7" r="1.4" fill="#000"/>
<line x1="259.2" y1="270.4" x2="259.2" y2="268.46" stroke="#000" stroke-width="1.1"/>
<line x1="257.7" y1="268.46" x2="260.7" y2="268.46" stroke="#000" stroke-width="1.1"/>
<line x1="257.7" y1="270.4" x2="260.7" y2="270.4" stroke="#000" stroke-width="1.1"/>
<circle cx="259.2" cy="269.43" r="1.4" fill="#000"/>
<line x1="280.8" y1="267.49" x2="280.8" y2="261.68" stroke="#000" stroke-width="1.1"/>
<line x1="279.3" y1="261.68" x2="282.3" y2="261.68" stroke="#000" stroke-width="1.1"/>
<line x1="279.3" y1="267.49" x2="282.3" y2="267.49" stroke="#000" stroke-width="1.1"/>
<circle cx="280.8" cy="264.59" r="1.4" fill="#000"/>
<line x1="302.3" y1="247.63" x2="302.3" y2="224.37" stroke="#000" stroke-width="1.1"/>
<line x1="300.8" y1="224.37" x2="303.8" y2="224.37" stroke="#000" stroke-width="1.1"/>
<line x1="300.8" y1="247.63" x2="303.8" y2="247.63" stroke="#000" stroke-width="1.1"/>
<circle cx="302.3" cy="236" r="1.4" fill="#000"/>
<line x1="324.4" y1="214.68" x2="324.4" y2="199.18" stroke="#000" stroke-width="1.1"/>
<line x1="322.9" y1="199.18" x2="325.9" y2="199.18" stroke="#000" stroke-width="1.1"/>
<line x1="322.9" y1="214.68" x2="325.9" y2="214.68" stroke="#000" stroke-width="1.1"/>
<circle cx="324.4" cy="206.93" r="1.4" fill="#000"/>
<line x1="346.5" y1="210.81" x2="346.5" y2="191.43" stroke="#000" stroke-width="1.1"/>
<line x1="345" y1="191.43" x2="348" y2="191.43" stroke="#000" stroke-width="1.1"/>
<line x1="345" y1="210.81" x2="348" y2="210.81" stroke="#000" stroke-width="1.1"/>
<circle cx="346.5" cy="201.12" r="1.4" fill="#000"/>
<rect x="236.3" y="275.3" width="2.8" height="2.8" fill="#808080"/>
<rect x="257.8" y="274.82" width="2.8" height="2.8" fill="#808080"/>
<line x1="280.8" y1="276.22" x2="280.8" y2="274.28" stroke="#808080" stroke-width="1.1"/>
<line x1="279.3" y1="274.28" x2="282.3" y2="274.28" stroke="#808080" stroke-width="1.1"/>
<line x1="279.3" y1="276.22" x2="282.3" y2="276.22" stroke="#808080" stroke-width="1.1"/>
<rect x="279.4" y="273.85" width="2.8" height="2.8" fill="#808080"/>
<line x1="302.3" y1="276.22" x2="302.3" y2="274.28" stroke="#808080" stroke-width="1.1"/>
<line x1="300.8" y1="274.28" x2="303.8" y2="274.28" stroke="#808080" stroke-width="1.1"/>
<line x1="300.8" y1="276.22" x2="303.8" y2="276.22" stroke="#808080" stroke-width="1.1"/>
<rect x="300.9" y="273.85" width="2.8" height="2.8" fill="#808080"/>
<line x1="324.4" y1="269.92" x2="324.4" y2="264.1" stroke="#808080" stroke-width="1.1"/>
<line x1="322.9" y1="264.1" x2="325.9" y2="264.1" stroke="#808080" stroke-width="1.1"/>
<line x1="322.9" y1="269.92" x2="325.9" y2="269.92" stroke="#808080" stroke-width="1.1"/>
<rect x="323" y="265.61" width="2.8" height="2.8" fill="#808080"/>
<line x1="346.5" y1="258.29" x2="346.5" y2="240.85" stroke="#808080" stroke-width="1.1"/>
<line x1="345" y1="240.85" x2="348" y2="240.85" stroke="#808080" stroke-width="1.1"/>
<line x1="345" y1="258.29" x2="348" y2="258.29" stroke="#808080" stroke-width="1.1"/>
<rect x="345.1" y="248.17" width="2.8" height="2.8" fill="#808080"/>
<circle cx="237.7" cy="276.7" r="1.4" fill="#808080"/>
<line x1="259.2" y1="269.92" x2="259.2" y2="267.98" stroke="#808080" stroke-width="1.1"/>
<line x1="257.7" y1="267.98" x2="260.7" y2="267.98" stroke="#808080" stroke-width="1.1"/>
<line x1="257.7" y1="269.92" x2="260.7" y2="269.92" stroke="#808080" stroke-width="1.1"/>
<circle cx="259.2" cy="268.95" r="1.4" fill="#808080"/>
<line x1="280.8" y1="276.7" x2="280.8" y2="268.95" stroke="#808080" stroke-width="1.1"/>
<line x1="279.3" y1="268.95" x2="282.3" y2="268.95" stroke="#808080" stroke-width="1.1"/>
<line x1="279.3" y1="276.7" x2="282.3" y2="276.7" stroke="#808080" stroke-width="1.1"/>
<circle cx="280.8" cy="273.31" r="1.4" fill="#808080"/>
<line x1="302.3" y1="247.63" x2="302.3" y2="228.25" stroke="#808080" stroke-width="1.1"/>
<line x1="300.8" y1="228.25" x2="303.8" y2="228.25" stroke="#808080" stroke-width="1.1"/>
<line x1="300.8" y1="247.63" x2="303.8" y2="247.63" stroke="#808080" stroke-width="1.1"/>
<circle cx="302.3" cy="237.94" r="1.4" fill="#808080"/>
<line x1="324.4" y1="213.71" x2="324.4" y2="202.09" stroke="#808080" stroke-width="1.1"/>
<line x1="322.9" y1="202.09" x2="325.9" y2="202.09" stroke="#808080" stroke-width="1.1"/>
<line x1="322.9" y1="213.71" x2="325.9" y2="213.71" stroke="#808080" stroke-width="1.1"/>
<circle cx="324.4" cy="207.9" r="1.4" fill="#808080"/>
<line x1="346.5" y1="210.81" x2="346.5" y2="204.99" stroke="#808080" stroke-width="1.1"/>
<line x1="345" y1="204.99" x2="348" y2="204.99" stroke="#808080" stroke-width="1.1"/>
<line x1="345" y1="210.81" x2="348" y2="210.81" stroke="#808080" stroke-width="1.1"/>
<circle cx="346.5" cy="207.9" r="1.4" fill="#808080"/>
<line x1="226.4" y1="189.2" x2="226.4" y2="277.3" stroke="#000" stroke-width="1.2"/>
<line x1="225.8" y1="276.7" x2="357.4" y2="276.7" stroke="#000" stroke-width="1.2"/>
<line x1="223.4" y1="276.7" x2="226.4" y2="276.7" stroke="#000" stroke-width="1"/>
<text x="223.1" y="278.7" font-size="6" font-weight="bold" text-anchor="end" fill="#000" stroke="#000" stroke-width="0.15">0</text>
<line x1="223.4" y1="257.32" x2="226.4" y2="257.32" stroke="#000" stroke-width="1"/>
<text x="223.1" y="259.32" font-size="6" font-weight="bold" text-anchor="end" fill="#000" stroke="#000" stroke-width="0.15">20</text>
<line x1="223.4" y1="237.94" x2="226.4" y2="237.94" stroke="#000" stroke-width="1"/>
<text x="223.1" y="239.94" font-size="6" font-weight="bold" text-anchor="end" fill="#000" stroke="#000" stroke-width="0.15">40</text>
<line x1="223.4" y1="218.56" x2="226.4" y2="218.56" stroke="#000" stroke-width="1"/>
<text x="223.1" y="220.56" font-size="6" font-weight="bold" text-anchor="end" fill="#000" stroke="#000" stroke-width="0.15">60</text>
<line x1="223.4" y1="199.18" x2="226.4" y2="199.18" stroke="#000" stroke-width="1"/>
<text x="223.1" y="201.18" font-size="6" font-weight="bold" text-anchor="end" fill="#000" stroke="#000" stroke-width="0.15">80</text>
<text x="237.7" y="285.8" font-size="6.1" font-weight="bold" text-anchor="middle" fill="#000" stroke="#000" stroke-width="0.2">0</text>
<text x="259.2" y="285.8" font-size="6.1" font-weight="bold" text-anchor="middle" fill="#000" stroke="#000" stroke-width="0.2">0.001</text>
<text x="280.8" y="285.8" font-size="6.1" font-weight="bold" text-anchor="middle" fill="#000" stroke="#000" stroke-width="0.2">0.01</text>
<text x="302.3" y="285.8" font-size="6.1" font-weight="bold" text-anchor="middle" fill="#000" stroke="#000" stroke-width="0.2">0.1</text>
<text x="324.4" y="285.8" font-size="6.1" font-weight="bold" text-anchor="middle" fill="#000" stroke="#000" stroke-width="0.2">1</text>
<text x="346.5" y="285.8" font-size="6.1" font-weight="bold" text-anchor="middle" fill="#000" stroke="#000" stroke-width="0.2">10</text>
<text x="292.6" y="178.6" font-size="9.7" font-weight="bold" text-anchor="middle" fill="#000" stroke="#000" stroke-width="0.3">TNFα</text>
</g>
<g>
<polyline points="82.5,404.5 103.3,403.08 123.8,398.83 145,391.75 166.3,390.33 188,380.42" fill="none" stroke="#cdcdcd" stroke-width="1.4" stroke-dasharray="3,0.9"/>
<polyline points="82.5,404.5 103.3,401.67 123.8,394.58 145,388.92 166.3,374.75 188,359.17" fill="none" stroke="#000" stroke-width="1.4"/>
<polyline points="82.5,404.5 103.3,401.67 123.8,394.58 145,400.25 166.3,398.83 188,397.98" fill="none" stroke="#000" stroke-width="1.4"/>
<polyline points="82.5,404.5 103.3,403.65 123.8,397.42 145,400.25 166.3,400.25 188,396" fill="none" stroke="#808080" stroke-width="1.4"/>
<polyline points="82.5,404.5 103.3,396.57 123.8,396 145,386.09 166.3,359.17 188,347.84" fill="none" stroke="#808080" stroke-width="1.4"/>
<path d="M82.5,402.82 L80.96,405.62 L84.04,405.62 z" fill="#cdcdcd"/>
<path d="M103.3,401.4 L101.76,404.2 L104.84,404.2 z" fill="#cdcdcd"/>
<line x1="123.8" y1="401.67" x2="123.8" y2="396" stroke="#cdcdcd" stroke-width="1.1"/>
<line x1="122.3" y1="396" x2="125.3" y2="396" stroke="#cdcdcd" stroke-width="1.1"/>
<line x1="122.3" y1="401.67" x2="125.3" y2="401.67" stroke="#cdcdcd" stroke-width="1.1"/>
<path d="M123.8,397.15 L122.26,399.95 L125.34,399.95 z" fill="#cdcdcd"/>
<line x1="145" y1="396" x2="145" y2="387.5" stroke="#cdcdcd" stroke-width="1.1"/>
<line x1="143.5" y1="387.5" x2="146.5" y2="387.5" stroke="#cdcdcd" stroke-width="1.1"/>
<line x1="143.5" y1="396" x2="146.5" y2="396" stroke="#cdcdcd" stroke-width="1.1"/>
<path d="M145,390.07 L143.46,392.87 L146.54,392.87 z" fill="#cdcdcd"/>
<line x1="166.3" y1="404.5" x2="166.3" y2="373.34" stroke="#cdcdcd" stroke-width="1.1"/>
<line x1="164.8" y1="373.34" x2="167.8" y2="373.34" stroke="#cdcdcd" stroke-width="1.1"/>
<line x1="164.8" y1="404.5" x2="167.8" y2="404.5" stroke="#cdcdcd" stroke-width="1.1"/>
<path d="M166.3,388.65 L164.76,391.45 L167.84,391.45 z" fill="#cdcdcd"/>
<line x1="188" y1="397.42" x2="188" y2="363.42" stroke="#cdcdcd" stroke-width="1.1"/>
<line x1="186.5" y1="363.42" x2="189.5" y2="363.42" stroke="#cdcdcd" stroke-width="1.1"/>
<line x1="186.5" y1="397.42" x2="189.5" y2="397.42" stroke="#cdcdcd" stroke-width="1.1"/>
<path d="M188,378.74 L186.46,381.54 L189.54,381.54 z" fill="#cdcdcd"/>
<rect x="81.1" y="403.1" width="2.8" height="2.8" fill="#000"/>
<rect x="101.9" y="400.27" width="2.8" height="2.8" fill="#000"/>
<line x1="123.8" y1="398.83" x2="123.8" y2="390.33" stroke="#000" stroke-width="1.1"/>
<line x1="122.3" y1="390.33" x2="125.3" y2="390.33" stroke="#000" stroke-width="1.1"/>
<line x1="122.3" y1="398.83" x2="125.3" y2="398.83" stroke="#000" stroke-width="1.1"/>
<rect x="122.4" y="393.18" width="2.8" height="2.8" fill="#000"/>
<line x1="145" y1="391.75" x2="145" y2="386.09" stroke="#000" stroke-width="1.1"/>
<line x1="143.5" y1="386.09" x2="146.5" y2="386.09" stroke="#000" stroke-width="1.1"/>
<line x1="143.5" y1="391.75" x2="146.5" y2="391.75" stroke="#000" stroke-width="1.1"/>
<rect x="143.6" y="387.52" width="2.8" height="2.8" fill="#000"/>
<line x1="166.3" y1="381.84" x2="166.3" y2="367.67" stroke="#000" stroke-width="1.1"/>
<line x1="164.8" y1="367.67" x2="167.8" y2="367.67" stroke="#000" stroke-width="1.1"/>
<line x1="164.8" y1="381.84" x2="167.8" y2="381.84" stroke="#000" stroke-width="1.1"/>
<rect x="164.9" y="373.35" width="2.8" height="2.8" fill="#000"/>
<rect x="186.6" y="357.77" width="2.8" height="2.8" fill="#000"/>
<circle cx="82.5" cy="404.5" r="1.4" fill="#000"/>
<circle cx="103.3" cy="401.67" r="1.4" fill="#000"/>
<line x1="123.8" y1="398.83" x2="123.8" y2="390.33" stroke="#000" stroke-width="1.1"/>
<line x1="122.3" y1="390.33" x2="125.3" y2="390.33" stroke="#000" stroke-width="1.1"/>
<line x1="122.3" y1="398.83" x2="125.3" y2="398.83" stroke="#000" stroke-width="1.1"/>
<circle cx="123.8" cy="394.58" r="1.4" fill="#000"/>
<line x1="145" y1="401.67" x2="145" y2="398.83" stroke="#000" stroke-width="1.1"/>
<line x1="143.5" y1="398.83" x2="146.5" y2="398.83" stroke="#000" stroke-width="1.1"/>
<line x1="143.5" y1="401.67" x2="146.5" y2="401.67" stroke="#000" stroke-width="1.1"/>
<circle cx="145" cy="400.25" r="1.4" fill="#000"/>
<line x1="166.3" y1="401.67" x2="166.3" y2="396" stroke="#000" stroke-width="1.1"/>
<line x1="164.8" y1="396" x2="167.8" y2="396" stroke="#000" stroke-width="1.1"/>
<line x1="164.8" y1="401.67" x2="167.8" y2="401.67" stroke="#000" stroke-width="1.1"/>
<circle cx="166.3" cy="398.83" r="1.4" fill="#000"/>
<line x1="188" y1="400.82" x2="188" y2="395.15" stroke="#000" stroke-width="1.1"/>
<line x1="186.5" y1="395.15" x2="189.5" y2="395.15" stroke="#000" stroke-width="1.1"/>
<line x1="186.5" y1="400.82" x2="189.5" y2="400.82" stroke="#000" stroke-width="1.1"/>
<circle cx="188" cy="397.98" r="1.4" fill="#000"/>
<rect x="81.1" y="403.1" width="2.8" height="2.8" fill="#808080"/>
<rect x="101.9" y="402.25" width="2.8" height="2.8" fill="#808080"/>
<line x1="123.8" y1="399.68" x2="123.8" y2="395.15" stroke="#808080" stroke-width="1.1"/>
<line x1="122.3" y1="395.15" x2="125.3" y2="395.15" stroke="#808080" stroke-width="1.1"/>
<line x1="122.3" y1="399.68" x2="125.3" y2="399.68" stroke="#808080" stroke-width="1.1"/>
<rect x="122.4" y="396.02" width="2.8" height="2.8" fill="#808080"/>
<line x1="145" y1="401.67" x2="145" y2="398.83" stroke="#808080" stroke-width="1.1"/>
<line x1="143.5" y1="398.83" x2="146.5" y2="398.83" stroke="#808080" stroke-width="1.1"/>
<line x1="143.5" y1="401.67" x2="146.5" y2="401.67" stroke="#808080" stroke-width="1.1"/>
<rect x="143.6" y="398.85" width="2.8" height="2.8" fill="#808080"/>
<line x1="166.3" y1="403.08" x2="166.3" y2="397.42" stroke="#808080" stroke-width="1.1"/>
<line x1="164.8" y1="397.42" x2="167.8" y2="397.42" stroke="#808080" stroke-width="1.1"/>
<line x1="164.8" y1="403.08" x2="167.8" y2="403.08" stroke="#808080" stroke-width="1.1"/>
<rect x="164.9" y="398.85" width="2.8" height="2.8" fill="#808080"/>
<line x1="188" y1="404.5" x2="188" y2="387.5" stroke="#808080" stroke-width="1.1"/>
<line x1="186.5" y1="387.5" x2="189.5" y2="387.5" stroke="#808080" stroke-width="1.1"/>
<line x1="186.5" y1="404.5" x2="189.5" y2="404.5" stroke="#808080" stroke-width="1.1"/>
<rect x="186.6" y="394.6" width="2.8" height="2.8" fill="#808080"/>
<circle cx="82.5" cy="404.5" r="1.4" fill="#808080"/>
<line x1="103.3" y1="397.98" x2="103.3" y2="395.15" stroke="#808080" stroke-width="1.1"/>
<line x1="101.8" y1="395.15" x2="104.8" y2="395.15" stroke="#808080" stroke-width="1.1"/>
<line x1="101.8" y1="397.98" x2="104.8" y2="397.98" stroke="#808080" stroke-width="1.1"/>
<circle cx="103.3" cy="396.57" r="1.4" fill="#808080"/>
<line x1="123.8" y1="398.83" x2="123.8" y2="393.17" stroke="#808080" stroke-width="1.1"/>
<line x1="122.3" y1="393.17" x2="125.3" y2="393.17" stroke="#808080" stroke-width="1.1"/>
<line x1="122.3" y1="398.83" x2="125.3" y2="398.83" stroke="#808080" stroke-width="1.1"/>
<circle cx="123.8" cy="396" r="1.4" fill="#808080"/>
<line x1="145" y1="390.33" x2="145" y2="381.84" stroke="#808080" stroke-width="1.1"/>
<line x1="143.5" y1="381.84" x2="146.5" y2="381.84" stroke="#808080" stroke-width="1.1"/>
<line x1="143.5" y1="390.33" x2="146.5" y2="390.33" stroke="#808080" stroke-width="1.1"/>
<circle cx="145" cy="386.09" r="1.4" fill="#808080"/>
<line x1="166.3" y1="367.67" x2="166.3" y2="350.67" stroke="#808080" stroke-width="1.1"/>
<line x1="164.8" y1="350.67" x2="167.8" y2="350.67" stroke="#808080" stroke-width="1.1"/>
<line x1="164.8" y1="367.67" x2="167.8" y2="367.67" stroke="#808080" stroke-width="1.1"/>
<circle cx="166.3" cy="359.17" r="1.4" fill="#808080"/>
<line x1="188" y1="362" x2="188" y2="333.68" stroke="#808080" stroke-width="1.1"/>
<line x1="186.5" y1="333.68" x2="189.5" y2="333.68" stroke="#808080" stroke-width="1.1"/>
<line x1="186.5" y1="362" x2="189.5" y2="362" stroke="#808080" stroke-width="1.1"/>
<path d="M188,346.16 L186.46,348.96 L189.54,348.96 z" fill="#808080"/>
<line x1="72.5" y1="316.3" x2="72.5" y2="405.1" stroke="#000" stroke-width="1.2"/>
<line x1="71.9" y1="404.5" x2="197.5" y2="404.5" stroke="#000" stroke-width="1.2"/>
<line x1="69.5" y1="404.5" x2="72.5" y2="404.5" stroke="#000" stroke-width="1"/>
<text x="69.2" y="406.5" font-size="6" font-weight="bold" text-anchor="end" fill="#000" stroke="#000" stroke-width="0.15">0</text>
<line x1="69.5" y1="376.17" x2="72.5" y2="376.17" stroke="#000" stroke-width="1"/>
<text x="69.2" y="378.17" font-size="6" font-weight="bold" text-anchor="end" fill="#000" stroke="#000" stroke-width="0.15">10</text>
<line x1="69.5" y1="347.84" x2="72.5" y2="347.84" stroke="#000" stroke-width="1"/>
<text x="69.2" y="349.84" font-size="6" font-weight="bold" text-anchor="end" fill="#000" stroke="#000" stroke-width="0.15">20</text>
<line x1="69.5" y1="319.51" x2="72.5" y2="319.51" stroke="#000" stroke-width="1"/>
<text x="69.2" y="321.51" font-size="6" font-weight="bold" text-anchor="end" fill="#000" stroke="#000" stroke-width="0.15">30</text>
<text x="82.5" y="412.6" font-size="6.1" font-weight="bold" text-anchor="middle" fill="#000" stroke="#000" stroke-width="0.2">0</text>
<text x="103.3" y="412.6" font-size="6.1" font-weight="bold" text-anchor="middle" fill="#000" stroke="#000" stroke-width="0.2">0.001</text>
<text x="123.8" y="412.6" font-size="6.1" font-weight="bold" text-anchor="middle" fill="#000" stroke="#000" stroke-width="0.2">0.01</text>
<text x="145" y="412.6" font-size="6.1" font-weight="bold" text-anchor="middle" fill="#000" stroke="#000" stroke-width="0.2">0.1</text>
<text x="166.3" y="412.6" font-size="6.1" font-weight="bold" text-anchor="middle" fill="#000" stroke="#000" stroke-width="0.2">1</text>
<text x="188" y="412.6" font-size="6.1" font-weight="bold" text-anchor="middle" fill="#000" stroke="#000" stroke-width="0.2">10</text>
<text x="135.3" y="308.2" font-size="8.7" font-weight="bold" text-anchor="middle" fill="#000" stroke="#000" stroke-width="0.3">IL2</text>
</g>
<g>
<polyline points="241.8,404.5 262.8,404.5 284.3,403.35 304.6,400.66 325.9,389.91 347.8,379.54" fill="none" stroke="#cdcdcd" stroke-width="1.4" stroke-dasharray="3,0.9"/>
<polyline points="241.8,404.5 262.8,403.73 284.3,400.66 304.6,392.98 325.9,366.1 347.8,357.65" fill="none" stroke="#000" stroke-width="1.4"/>
<polyline points="241.8,404.5 262.8,404.5 284.3,404.12 304.6,403.73 325.9,402.2 347.8,402.2" fill="none" stroke="#000" stroke-width="1.4"/>
<polyline points="241.8,404.5 262.8,404.5 284.3,404.12 304.6,403.35 325.9,399.89 347.8,395.67" fill="none" stroke="#808080" stroke-width="1.4"/>
<polyline points="241.8,404.5 262.8,403.35 284.3,398.74 304.6,387.6 325.9,346.9 347.8,339.22" fill="none" stroke="#808080" stroke-width="1.4"/>
<path d="M241.8,402.82 L240.26,405.62 L243.34,405.62 z" fill="#cdcdcd"/>
<path d="M262.8,402.82 L261.26,405.62 L264.34,405.62 z" fill="#cdcdcd"/>
<line x1="284.3" y1="404.12" x2="284.3" y2="402.58" stroke="#cdcdcd" stroke-width="1.1"/>
<line x1="282.8" y1="402.58" x2="285.8" y2="402.58" stroke="#cdcdcd" stroke-width="1.1"/>
<line x1="282.8" y1="404.12" x2="285.8" y2="404.12" stroke="#cdcdcd" stroke-width="1.1"/>
<path d="M284.3,401.67 L282.76,404.47 L285.84,404.47 z" fill="#cdcdcd"/>
<line x1="304.6" y1="402.58" x2="304.6" y2="398.74" stroke="#cdcdcd" stroke-width="1.1"/>
<line x1="303.1" y1="398.74" x2="306.1" y2="398.74" stroke="#cdcdcd" stroke-width="1.1"/>
<line x1="303.1" y1="402.58" x2="306.1" y2="402.58" stroke="#cdcdcd" stroke-width="1.1"/>
<path d="M304.6,398.98 L303.06,401.78 L306.14,401.78 z" fill="#cdcdcd"/>
<line x1="325.9" y1="393.75" x2="325.9" y2="386.07" stroke="#cdcdcd" stroke-width="1.1"/>
<line x1="324.4" y1="386.07" x2="327.4" y2="386.07" stroke="#cdcdcd" stroke-width="1.1"/>
<line x1="324.4" y1="393.75" x2="327.4" y2="393.75" stroke="#cdcdcd" stroke-width="1.1"/>
<path d="M325.9,388.23 L324.36,391.03 L327.44,391.03 z" fill="#cdcdcd"/>
<line x1="347.8" y1="404.5" x2="347.8" y2="354.58" stroke="#cdcdcd" stroke-width="1.1"/>
<line x1="346.3" y1="354.58" x2="349.3" y2="354.58" stroke="#cdcdcd" stroke-width="1.1"/>
<line x1="346.3" y1="404.5" x2="349.3" y2="404.5" stroke="#cdcdcd" stroke-width="1.1"/>
<path d="M347.8,377.86 L346.26,380.66 L349.34,380.66 z" fill="#cdcdcd"/>
<rect x="240.4" y="403.1" width="2.8" height="2.8" fill="#000"/>
<rect x="261.4" y="402.33" width="2.8" height="2.8" fill="#000"/>
<line x1="284.3" y1="402.58" x2="284.3" y2="398.74" stroke="#000" stroke-width="1.1"/>
<line x1="282.8" y1="398.74" x2="285.8" y2="398.74" stroke="#000" stroke-width="1.1"/>
<line x1="282.8" y1="402.58" x2="285.8" y2="402.58" stroke="#000" stroke-width="1.1"/>
<rect x="282.9" y="399.26" width="2.8" height="2.8" fill="#000"/>
<line x1="304.6" y1="396.82" x2="304.6" y2="389.14" stroke="#000" stroke-width="1.1"/>
<line x1="303.1" y1="389.14" x2="306.1" y2="389.14" stroke="#000" stroke-width="1.1"/>
<line x1="303.1" y1="396.82" x2="306.1" y2="396.82" stroke="#000" stroke-width="1.1"/>
<rect x="303.2" y="391.58" width="2.8" height="2.8" fill="#000"/>
<line x1="325.9" y1="382.61" x2="325.9" y2="349.59" stroke="#000" stroke-width="1.1"/>
<line x1="324.4" y1="349.59" x2="327.4" y2="349.59" stroke="#000" stroke-width="1.1"/>
<line x1="324.4" y1="382.61" x2="327.4" y2="382.61" stroke="#000" stroke-width="1.1"/>
<rect x="324.5" y="364.7" width="2.8" height="2.8" fill="#000"/>
<line x1="347.8" y1="374.93" x2="347.8" y2="340.37" stroke="#000" stroke-width="1.1"/>
<line x1="346.3" y1="340.37" x2="349.3" y2="340.37" stroke="#000" stroke-width="1.1"/>
<line x1="346.3" y1="374.93" x2="349.3" y2="374.93" stroke="#000" stroke-width="1.1"/>
<rect x="346.4" y="356.25" width="2.8" height="2.8" fill="#000"/>
<circle cx="241.8" cy="404.5" r="1.4" fill="#000"/>
<circle cx="262.8" cy="404.5" r="1.4" fill="#000"/>
<circle cx="284.3" cy="404.12" r="1.4" fill="#000"/>
<circle cx="304.6" cy="403.73" r="1.4" fill="#000"/>
<line x1="325.9" y1="403.35" x2="325.9" y2="401.04" stroke="#000" stroke-width="1.1"/>
<line x1="324.4" y1="401.04" x2="327.4" y2="401.04" stroke="#000" stroke-width="1.1"/>
<line x1="324.4" y1="403.35" x2="327.4" y2="403.35" stroke="#000" stroke-width="1.1"/>
<circle cx="325.9" cy="402.2" r="1.4" fill="#000"/>
<line x1="347.8" y1="403.35" x2="347.8" y2="401.04" stroke="#000" stroke-width="1.1"/>
<line x1="346.3" y1="401.04" x2="349.3" y2="401.04" stroke="#000" stroke-width="1.1"/>
<line x1="346.3" y1="403.35" x2="349.3" y2="403.35" stroke="#000" stroke-width="1.1"/>
<circle cx="347.8" cy="402.2" r="1.4" fill="#000"/>
<rect x="240.4" y="403.1" width="2.8" height="2.8" fill="#808080"/>
<rect x="261.4" y="403.1" width="2.8" height="2.8" fill="#808080"/>
<rect x="282.9" y="402.72" width="2.8" height="2.8" fill="#808080"/>
<line x1="304.6" y1="404.12" x2="304.6" y2="402.58" stroke="#808080" stroke-width="1.1"/>
<line x1="303.1" y1="402.58" x2="306.1" y2="402.58" stroke="#808080" stroke-width="1.1"/>
<line x1="303.1" y1="404.12" x2="306.1" y2="404.12" stroke="#808080" stroke-width="1.1"/>
<rect x="303.2" y="401.95" width="2.8" height="2.8" fill="#808080"/>
<line x1="325.9" y1="401.81" x2="325.9" y2="397.97" stroke="#808080" stroke-width="1.1"/>
<line x1="324.4" y1="397.97" x2="327.4" y2="397.97" stroke="#808080" stroke-width="1.1"/>
<line x1="324.4" y1="401.81" x2="327.4" y2="401.81" stroke="#808080" stroke-width="1.1"/>
<rect x="324.5" y="398.49" width="2.8" height="2.8" fill="#808080"/>
<line x1="347.8" y1="399.51" x2="347.8" y2="391.83" stroke="#808080" stroke-width="1.1"/>
<line x1="346.3" y1="391.83" x2="349.3" y2="391.83" stroke="#808080" stroke-width="1.1"/>
<line x1="346.3" y1="399.51" x2="349.3" y2="399.51" stroke="#808080" stroke-width="1.1"/>
<rect x="346.4" y="394.27" width="2.8" height="2.8" fill="#808080"/>
<circle cx="241.8" cy="404.5" r="1.4" fill="#808080"/>
<circle cx="262.8" cy="403.35" r="1.4" fill="#808080"/>
<line x1="284.3" y1="402.58" x2="284.3" y2="394.9" stroke="#808080" stroke-width="1.1"/>
<line x1="282.8" y1="394.9" x2="285.8" y2="394.9" stroke="#808080" stroke-width="1.1"/>
<line x1="282.8" y1="402.58" x2="285.8" y2="402.58" stroke="#808080" stroke-width="1.1"/>
<circle cx="284.3" cy="398.74" r="1.4" fill="#808080"/>
<line x1="304.6" y1="392.21" x2="304.6" y2="383" stroke="#808080" stroke-width="1.1"/>
<line x1="303.1" y1="383" x2="306.1" y2="383" stroke="#808080" stroke-width="1.1"/>
<line x1="303.1" y1="392.21" x2="306.1" y2="392.21" stroke="#808080" stroke-width="1.1"/>
<circle cx="304.6" cy="387.6" r="1.4" fill="#808080"/>
<line x1="325.9" y1="357.65" x2="325.9" y2="336.15" stroke="#808080" stroke-width="1.1"/>
<line x1="324.4" y1="336.15" x2="327.4" y2="336.15" stroke="#808080" stroke-width="1.1"/>
<line x1="324.4" y1="357.65" x2="327.4" y2="357.65" stroke="#808080" stroke-width="1.1"/>
<circle cx="325.9" cy="346.9" r="1.4" fill="#808080"/>
<line x1="347.8" y1="354.58" x2="347.8" y2="323.86" stroke="#808080" stroke-width="1.1"/>
<line x1="346.3" y1="323.86" x2="349.3" y2="323.86" stroke="#808080" stroke-width="1.1"/>
<line x1="346.3" y1="354.58" x2="349.3" y2="354.58" stroke="#808080" stroke-width="1.1"/>
<path d="M347.8,340.9 L346.26,338.1 L349.34,338.1 z" fill="#808080"/>
<line x1="230.4" y1="319.5" x2="230.4" y2="405.1" stroke="#000" stroke-width="1.2"/>
<line x1="229.8" y1="404.5" x2="359" y2="404.5" stroke="#000" stroke-width="1.2"/>
<line x1="227.4" y1="404.5" x2="230.4" y2="404.5" stroke="#000" stroke-width="1"/>
<text x="227.1" y="406.5" font-size="6" font-weight="bold" text-anchor="end" fill="#000" stroke="#000" stroke-width="0.15">0</text>
<line x1="227.4" y1="385.3" x2="230.4" y2="385.3" stroke="#000" stroke-width="1"/>
<text x="227.1" y="387.3" font-size="6" font-weight="bold" text-anchor="end" fill="#000" stroke="#000" stroke-width="0.15">5</text>
<line x1="227.4" y1="366.1" x2="230.4" y2="366.1" stroke="#000" stroke-width="1"/>
<text x="227.1" y="368.1" font-size="6" font-weight="bold" text-anchor="end" fill="#000" stroke="#000" stroke-width="0.15">10</text>
<line x1="227.4" y1="346.9" x2="230.4" y2="346.9" stroke="#000" stroke-width="1"/>
<text x="227.1" y="348.9" font-size="6" font-weight="bold" text-anchor="end" fill="#000" stroke="#000" stroke-width="0.15">15</text>
<line x1="227.4" y1="327.7" x2="230.4" y2="327.7" stroke="#000" stroke-width="1"/>
<text x="227.1" y="329.7" font-size="6" font-weight="bold" text-anchor="end" fill="#000" stroke="#000" stroke-width="0.15">20</text>
<text x="241.8" y="412.6" font-size="6.1" font-weight="bold" text-anchor="middle" fill="#000" stroke="#000" stroke-width="0.2">0</text>
<text x="262.8" y="412.6" font-size="6.1" font-weight="bold" text-anchor="middle" fill="#000" stroke="#000" stroke-width="0.2">0.001</text>
<text x="284.3" y="412.6" font-size="6.1" font-weight="bold" text-anchor="middle" fill="#000" stroke="#000" stroke-width="0.2">0.01</text>
<text x="304.6" y="412.6" font-size="6.1" font-weight="bold" text-anchor="middle" fill="#000" stroke="#000" stroke-width="0.2">0.1</text>
<text x="325.9" y="412.6" font-size="6.1" font-weight="bold" text-anchor="middle" fill="#000" stroke="#000" stroke-width="0.2">1</text>
<text x="347.8" y="412.6" font-size="6.1" font-weight="bold" text-anchor="middle" fill="#000" stroke="#000" stroke-width="0.2">10</text>
<text x="294.3" y="310.1" font-size="8.8" font-weight="bold" text-anchor="middle" fill="#000" stroke="#000" stroke-width="0.3">polyfunctional (IFNγ, TNFα and IL2)</text>
</g>
<text x="32.6" y="234.5" font-size="9.05" font-weight="bold" text-anchor="middle" fill="#000" transform="rotate(-90 32.6 234.5)" stroke="#000" stroke-width="0.3">percentage of CMV</text>
<text x="44.6" y="234.5" font-size="9" font-weight="bold" text-anchor="middle" fill="#000" transform="rotate(-90 44.6 234.5)" stroke="#000" stroke-width="0.3">pos cells (%)</text>
<text x="32.6" y="363" font-size="9.05" font-weight="bold" text-anchor="middle" fill="#000" transform="rotate(-90 32.6 363)" stroke="#000" stroke-width="0.3">percentage of CMV</text>
<text x="44.6" y="363" font-size="9" font-weight="bold" text-anchor="middle" fill="#000" transform="rotate(-90 44.6 363)" stroke="#000" stroke-width="0.3">pos cells (%)</text>
<text x="135.4" y="431.6" font-size="8.8" font-weight="bold" text-anchor="middle" fill="#000" stroke="#000" stroke-width="0.3">CMV peptide conc (ng/ml)</text>
<text x="294.8" y="431.4" font-size="8.8" font-weight="bold" text-anchor="middle" fill="#000" stroke="#000" stroke-width="0.3">CMV peptide conc (ng/ml)</text>
<line x1="73.5" y1="318" x2="83" y2="318" stroke="#000" stroke-width="1.4"/>
<circle cx="78.2" cy="318" r="1.4" fill="#000"/>
<text x="87.5" y="320" font-size="5.8" text-anchor="start" fill="#000" stroke="#000" stroke-width="0.15">HC CMV T cells + EBV-LCLs</text>
<line x1="73.5" y1="327" x2="83" y2="327" stroke="#000" stroke-width="1.4"/>
<rect x="76.8" y="325.6" width="2.8" height="2.8" fill="#000"/>
<text x="87.5" y="329" font-size="5.8" text-anchor="start" fill="#000" stroke="#000" stroke-width="0.15">HC CMV T cells + &quot;CLL&quot; B cells</text>
<line x1="73.5" y1="336.1" x2="83" y2="336.1" stroke="#808080" stroke-width="1.4"/>
<circle cx="78.2" cy="336.1" r="1.4" fill="#808080"/>
<text x="87.5" y="338.1" font-size="5.8" text-anchor="start" fill="#000" stroke="#000" stroke-width="0.15">CLL CMV T cells + EBV-LCLs</text>
<line x1="73.5" y1="344.6" x2="83" y2="344.6" stroke="#808080" stroke-width="1.4"/>
<rect x="76.8" y="343.2" width="2.8" height="2.8" fill="#808080"/>
<text x="87.5" y="346.6" font-size="5.8" text-anchor="start" fill="#000" stroke="#000" stroke-width="0.15">CLL CMV T cells + &quot;CLL&quot; B cells</text>
<line x1="73.5" y1="353" x2="83" y2="353" stroke="#cdcdcd" stroke-width="1.4" stroke-dasharray="3,0.9"/>
<path d="M78.2,351.32 L76.66,354.12 L79.74,354.12 z" fill="#cdcdcd"/>
<text x="87.5" y="355" font-size="5.8" text-anchor="start" fill="#000" stroke="#000" stroke-width="0.15">HC CMV T cells + HC B cells</text>
<text x="372.2" y="180.3" font-size="10.5" font-weight="bold" text-anchor="start" fill="#000" stroke="#000" stroke-width="0.35">D</text>
<circle cx="442.4" cy="224.3" r="37.5" fill="#111"/>
<path d="M441.5,223.4 L441.5,185.9 A37.5,37.5 0 0 1 467.68,196.55 z" fill="#8d8d8d" stroke="#444" stroke-width="0.5" stroke-linejoin="round"/>
<path d="M441.5,223.4 L467.68,196.55 A37.5,37.5 0 1 1 404.36,218.23 z" fill="#bdbdbd" stroke="#444" stroke-width="0.5" stroke-linejoin="round"/>
<path d="M441.5,223.4 L404.36,218.23 A37.5,37.5 0 0 1 404.58,216.84 z" fill="#ffffff" stroke="#444" stroke-width="0.5" stroke-linejoin="round"/>
<path d="M441.5,223.4 L404.58,216.84 A37.5,37.5 0 0 1 441.5,185.9 z" fill="#585858" stroke="#444" stroke-width="0.5" stroke-linejoin="round"/>
<text x="440.8" y="181.6" font-size="10.3" text-anchor="middle" fill="#000" stroke="#000" stroke-width="0.4">CLL</text>
<line x1="460.2" y1="187.4" x2="462.72" y2="182.36" stroke="#000" stroke-width="1.5"/>
<path d="M464.6,178.6 L464.87,183.43 L460.58,181.28 z" fill="#000"/>
<line x1="415.8" y1="194.4" x2="410.32" y2="190.17" stroke="#000" stroke-width="1.5"/>
<path d="M407,187.6 L411.79,188.27 L408.86,192.07 z" fill="#000"/>
<line x1="403.2" y1="215.8" x2="394.08" y2="212.01" stroke="#000" stroke-width="1.5"/>
<path d="M390.2,210.4 L395,209.79 L393.16,214.23 z" fill="#000"/>
<line x1="410.6" y1="251.2" x2="405.99" y2="255.45" stroke="#000" stroke-width="1.5"/>
<path d="M402.9,258.3 L404.36,253.69 L407.61,257.22 z" fill="#000"/>
<text x="466" y="181.7" font-size="7.6" font-weight="bold" text-anchor="start" fill="#000" stroke="#000" stroke-width="0.2">12.3%</text>
<text x="401" y="183.6" font-size="7.6" font-weight="bold" text-anchor="middle" fill="#000" stroke="#000" stroke-width="0.2">22.2%</text>
<text x="380" y="211.9" font-size="7.6" font-weight="bold" text-anchor="middle" fill="#000" stroke="#000" stroke-width="0.2">0.4%</text>
<text x="404.1" y="267.7" font-size="7.6" font-weight="bold" text-anchor="middle" fill="#000" stroke="#000" stroke-width="0.2">64.9%</text>
<circle cx="446.6" cy="377" r="37.2" fill="#111"/>
<path d="M445.7,376.1 L445.7,338.9 A37.2,37.2 0 0 1 481.42,365.72 z" fill="#8d8d8d" stroke="#444" stroke-width="0.5" stroke-linejoin="round"/>
<path d="M445.7,376.1 L481.42,365.72 A37.2,37.2 0 1 1 416.31,353.3 z" fill="#bdbdbd" stroke="#444" stroke-width="0.5" stroke-linejoin="round"/>
<path d="M445.7,376.1 L416.31,353.3 A37.2,37.2 0 0 1 416.89,352.57 z" fill="#ffffff" stroke="#444" stroke-width="0.5" stroke-linejoin="round"/>
<path d="M445.7,376.1 L416.89,352.57 A37.2,37.2 0 0 1 445.7,338.9 z" fill="#585858" stroke="#444" stroke-width="0.5" stroke-linejoin="round"/>
<text x="445.4" y="333.8" font-size="10.3" text-anchor="middle" fill="#000" stroke="#000" stroke-width="0.4">HC</text>
<line x1="470.9" y1="343.4" x2="474.41" y2="338.35" stroke="#000" stroke-width="1.5"/>
<path d="M476.8,334.9 L476.38,339.72 L472.43,336.98 z" fill="#000"/>
<line x1="427.6" y1="338.2" x2="425.68" y2="333.13" stroke="#000" stroke-width="1.5"/>
<path d="M424.2,329.2 L427.93,332.28 L423.44,333.98 z" fill="#000"/>
<line x1="414.8" y1="351.4" x2="406.57" y2="346.31" stroke="#000" stroke-width="1.5"/>
<path d="M403,344.1 L407.83,344.27 L405.31,348.35 z" fill="#000"/>
<line x1="416.9" y1="406.3" x2="412.39" y2="410.45" stroke="#000" stroke-width="1.5"/>
<path d="M409.3,413.3 L410.76,408.69 L414.02,412.22 z" fill="#000"/>
<text x="481.4" y="338" font-size="7.6" font-weight="bold" text-anchor="start" fill="#000" stroke="#000" stroke-width="0.2">20.5%</text>
<text x="413.6" y="326.6" font-size="7.6" font-weight="bold" text-anchor="middle" fill="#000" stroke="#000" stroke-width="0.2">14.4%</text>
<text x="393" y="340" font-size="7.6" font-weight="bold" text-anchor="middle" fill="#000" stroke="#000" stroke-width="0.2">0.2%</text>
<text x="409.9" y="422.9" font-size="7.6" font-weight="bold" text-anchor="middle" fill="#000" stroke="#000" stroke-width="0.2">65.0%</text>
<rect x="456.4" y="270.1" width="4.4" height="4.4" fill="#8d8d8d" stroke="#555" stroke-width="0.6"/>
<text x="464.3" y="274.8" font-size="6.7" text-anchor="start" fill="#2a2a2a" stroke="#2a2a2a" stroke-width="0.12">TNFα<tspan dy="-2.6" font-size="4.6">+</tspan></text>
<rect x="456.4" y="284" width="4.4" height="4.4" fill="#bdbdbd" stroke="#555" stroke-width="0.6"/>
<text x="464.3" y="288.7" font-size="6.7" text-anchor="start" fill="#2a2a2a" stroke="#2a2a2a" stroke-width="0.12">TNFα<tspan dy="-2.6" font-size="4.6">+</tspan><tspan dy="2.6"> IFNγ</tspan><tspan dy="-2.6" font-size="4.6">+</tspan></text>
<rect x="456.4" y="297.5" width="4.4" height="4.4" fill="#ffffff" stroke="#555" stroke-width="0.6"/>
<text x="464.3" y="302.2" font-size="6.7" text-anchor="start" fill="#2a2a2a" stroke="#2a2a2a" stroke-width="0.12">TNFα<tspan dy="-2.6" font-size="4.6">+</tspan><tspan dy="2.6"> IL-2</tspan><tspan dy="-2.6" font-size="4.6">+</tspan></text>
<rect x="456.4" y="310.9" width="4.4" height="4.4" fill="#585858" stroke="#555" stroke-width="0.6"/>
<text x="464.3" y="315.6" font-size="6.7" text-anchor="start" fill="#2a2a2a" stroke="#2a2a2a" stroke-width="0.12">TNFα<tspan dy="-2.6" font-size="4.6">+</tspan><tspan dy="2.6"> IFNγ</tspan><tspan dy="-2.6" font-size="4.6">+</tspan><tspan dy="2.6"> IL-2</tspan><tspan dy="-2.6" font-size="4.6">+</tspan></text>
<text x="0" y="445" font-size="10.5" font-weight="bold" text-anchor="start" fill="#000" stroke="#000" stroke-width="0.35">E</text>
<line x1="33.3" y1="475.3" x2="33.3" y2="466.5" stroke="#000" stroke-width="0.9"/>
<line x1="31.4" y1="466.5" x2="35.2" y2="466.5" stroke="#000" stroke-width="1"/>
<rect x="29.7" y="475.3" width="7.2" height="38.9" fill="#fff" stroke="#000" stroke-width="0.9"/>
<line x1="44.1" y1="473.8" x2="44.1" y2="469.7" stroke="#000" stroke-width="0.9"/>
<line x1="42.2" y1="469.7" x2="46" y2="469.7" stroke="#000" stroke-width="1"/>
<rect x="40.3" y="473.8" width="7.6" height="40.4" fill="#111" stroke="#000" stroke-width="0.9"/>
<line x1="65.25" y1="473.3" x2="65.25" y2="467.5" stroke="#000" stroke-width="0.9"/>
<line x1="63.35" y1="467.5" x2="67.15" y2="467.5" stroke="#000" stroke-width="1"/>
<rect x="61.5" y="473.3" width="7.5" height="40.9" fill="#fff" stroke="#000" stroke-width="0.9"/>
<line x1="76.35" y1="473.3" x2="76.35" y2="468.8" stroke="#000" stroke-width="0.9"/>
<line x1="74.45" y1="468.8" x2="78.25" y2="468.8" stroke="#000" stroke-width="1"/>
<rect x="72.2" y="473.3" width="8.3" height="40.9" fill="#111" stroke="#000" stroke-width="0.9"/>
<line x1="98.75" y1="502.5" x2="98.75" y2="497" stroke="#000" stroke-width="0.9"/>
<line x1="96.85" y1="497" x2="100.65" y2="497" stroke="#000" stroke-width="1"/>
<rect x="95" y="502.5" width="7.5" height="11.7" fill="#fff" stroke="#000" stroke-width="0.9"/>
<line x1="109.15" y1="505.7" x2="109.15" y2="500.8" stroke="#000" stroke-width="0.9"/>
<line x1="107.25" y1="500.8" x2="111.05" y2="500.8" stroke="#000" stroke-width="1"/>
<rect x="104.8" y="505.7" width="8.7" height="8.5" fill="#111" stroke="#000" stroke-width="0.9"/>
<line x1="28.2" y1="455.3" x2="28.2" y2="514.7" stroke="#000" stroke-width="0.9"/>
<line x1="27.8" y1="514.2" x2="115.5" y2="514.2" stroke="#000" stroke-width="0.9"/>
<line x1="26.4" y1="514.2" x2="28.2" y2="514.2" stroke="#000" stroke-width="0.7"/>
<text x="26.1" y="515.3" font-size="3.2" font-weight="bold" text-anchor="end" fill="#000" stroke="#000" stroke-width="0.1">0</text>
<line x1="26.4" y1="502.66" x2="28.2" y2="502.66" stroke="#000" stroke-width="0.7"/>
<text x="26.1" y="503.76" font-size="3.2" font-weight="bold" text-anchor="end" fill="#000" stroke="#000" stroke-width="0.1">20</text>
<line x1="26.4" y1="491.12" x2="28.2" y2="491.12" stroke="#000" stroke-width="0.7"/>
<text x="26.1" y="492.22" font-size="3.2" font-weight="bold" text-anchor="end" fill="#000" stroke="#000" stroke-width="0.1">40</text>
<line x1="26.4" y1="479.58" x2="28.2" y2="479.58" stroke="#000" stroke-width="0.7"/>
<text x="26.1" y="480.68" font-size="3.2" font-weight="bold" text-anchor="end" fill="#000" stroke="#000" stroke-width="0.1">60</text>
<line x1="26.4" y1="468.04" x2="28.2" y2="468.04" stroke="#000" stroke-width="0.7"/>
<text x="26.1" y="469.14" font-size="3.2" font-weight="bold" text-anchor="end" fill="#000" stroke="#000" stroke-width="0.1">80</text>
<line x1="26.4" y1="456.5" x2="28.2" y2="456.5" stroke="#000" stroke-width="0.7"/>
<text x="26.1" y="457.6" font-size="3.2" font-weight="bold" text-anchor="end" fill="#000" stroke="#000" stroke-width="0.1">100</text>
<text x="38.3" y="520.5" font-size="3.6" font-weight="bold" text-anchor="middle" fill="#000" stroke="#000" stroke-width="0.15">IFN</text>
<text x="71.4" y="520.5" font-size="3.6" font-weight="bold" text-anchor="middle" fill="#000" stroke="#000" stroke-width="0.15">TNF</text>
<text x="102.2" y="520.5" font-size="3.6" font-weight="bold" text-anchor="middle" fill="#000" stroke="#000" stroke-width="0.15">IL2</text>
<text x="4.5" y="483" font-size="4.6" font-weight="bold" text-anchor="middle" fill="#000" transform="rotate(-90 4.5 483)" stroke="#000" stroke-width="0.1">% cells producing cytokines</text>
<text x="9.9" y="480" font-size="4.8" font-weight="bold" text-anchor="middle" fill="#000" transform="rotate(-90 9.9 480)" stroke="#000" stroke-width="0.1">within CD8<tspan dy="-1.2" font-size="2.8">+</tspan><tspan dy="1.2">CMV-tetramer<tspan dy="-1.2" font-size="2.8">+</tspan><tspan dy="1.2"> cells</tspan></tspan></text>
<rect x="34.6" y="447" width="7.3" height="3.4" fill="#fff" stroke="#000" stroke-width="1"/>
<text x="44.1" y="450.3" font-size="4" font-weight="bold" text-anchor="start" fill="#000">CMV-tetramer<tspan dy="-1.2" font-size="2.8">+</tspan><tspan dy="1.2"> low (&lt;5% CMV-tetramer/CD8<tspan dy="-1.2" font-size="2.8">+</tspan><tspan dy="1.2">)</tspan></tspan></text>
<rect x="34.6" y="453.3" width="7.3" height="3.6" fill="#111" stroke="#000" stroke-width="1"/>
<text x="44.1" y="456.8" font-size="4" font-weight="bold" text-anchor="start" fill="#000">CMV-tetramer<tspan dy="-1.2" font-size="2.8">+</tspan><tspan dy="1.2"> high (≥5% CMV-tetramer/CD8<tspan dy="-1.2" font-size="2.8">+</tspan><tspan dy="1.2">)</tspan></tspan></text>
<line x1="166.25" y1="477.5" x2="166.25" y2="468.3" stroke="#000" stroke-width="0.9"/>
<line x1="164.35" y1="468.3" x2="168.15" y2="468.3" stroke="#000" stroke-width="1"/>
<rect x="162.5" y="477.5" width="7.5" height="37.5" fill="#fff" stroke="#000" stroke-width="0.9"/>
<line x1="176.5" y1="474.3" x2="176.5" y2="471.8" stroke="#000" stroke-width="0.9"/>
<line x1="174.6" y1="471.8" x2="178.4" y2="471.8" stroke="#000" stroke-width="1"/>
<rect x="172.5" y="474.3" width="8" height="40.7" fill="#111" stroke="#000" stroke-width="0.9"/>
<line x1="198.25" y1="474.5" x2="198.25" y2="468.3" stroke="#000" stroke-width="0.9"/>
<line x1="196.35" y1="468.3" x2="200.15" y2="468.3" stroke="#000" stroke-width="1"/>
<rect x="194.5" y="474.5" width="7.5" height="40.5" fill="#fff" stroke="#000" stroke-width="0.9"/>
<line x1="208.5" y1="475" x2="208.5" y2="470.8" stroke="#000" stroke-width="0.9"/>
<line x1="206.6" y1="470.8" x2="210.4" y2="470.8" stroke="#000" stroke-width="1"/>
<rect x="204.5" y="475" width="8" height="40" fill="#111" stroke="#000" stroke-width="0.9"/>
<line x1="229.55" y1="506.3" x2="229.55" y2="501.8" stroke="#000" stroke-width="0.9"/>
<line x1="227.65" y1="501.8" x2="231.45" y2="501.8" stroke="#000" stroke-width="1"/>
<rect x="225.8" y="506.3" width="7.5" height="8.7" fill="#fff" stroke="#000" stroke-width="0.9"/>
<line x1="240.05" y1="506.3" x2="240.05" y2="498.8" stroke="#000" stroke-width="0.9"/>
<line x1="238.15" y1="498.8" x2="241.95" y2="498.8" stroke="#000" stroke-width="1"/>
<rect x="236.3" y="506.3" width="7.5" height="8.7" fill="#111" stroke="#000" stroke-width="0.9"/>
<line x1="160.6" y1="456.2" x2="160.6" y2="515.5" stroke="#000" stroke-width="0.9"/>
<line x1="160.2" y1="515" x2="246.3" y2="515" stroke="#000" stroke-width="0.9"/>
<line x1="158.8" y1="515" x2="160.6" y2="515" stroke="#000" stroke-width="0.7"/>
<text x="158.5" y="516.1" font-size="3.2" font-weight="bold" text-anchor="end" fill="#000" stroke="#000" stroke-width="0.1">0</text>
<line x1="158.8" y1="503.6" x2="160.6" y2="503.6" stroke="#000" stroke-width="0.7"/>
<text x="158.5" y="504.7" font-size="3.2" font-weight="bold" text-anchor="end" fill="#000" stroke="#000" stroke-width="0.1">20</text>
<line x1="158.8" y1="492.2" x2="160.6" y2="492.2" stroke="#000" stroke-width="0.7"/>
<text x="158.5" y="493.3" font-size="3.2" font-weight="bold" text-anchor="end" fill="#000" stroke="#000" stroke-width="0.1">40</text>
<line x1="158.8" y1="480.8" x2="160.6" y2="480.8" stroke="#000" stroke-width="0.7"/>
<text x="158.5" y="481.9" font-size="3.2" font-weight="bold" text-anchor="end" fill="#000" stroke="#000" stroke-width="0.1">60</text>
<line x1="158.8" y1="469.4" x2="160.6" y2="469.4" stroke="#000" stroke-width="0.7"/>
<text x="158.5" y="470.5" font-size="3.2" font-weight="bold" text-anchor="end" fill="#000" stroke="#000" stroke-width="0.1">80</text>
<line x1="158.8" y1="458" x2="160.6" y2="458" stroke="#000" stroke-width="0.7"/>
<text x="158.5" y="459.1" font-size="3.2" font-weight="bold" text-anchor="end" fill="#000" stroke="#000" stroke-width="0.1">100</text>
<text x="171.5" y="520.5" font-size="3.6" font-weight="bold" text-anchor="middle" fill="#000" stroke="#000" stroke-width="0.15">IFN</text>
<text x="203.5" y="520.5" font-size="3.6" font-weight="bold" text-anchor="middle" fill="#000" stroke="#000" stroke-width="0.15">TNF</text>
<text x="235" y="520.5" font-size="3.6" font-weight="bold" text-anchor="middle" fill="#000" stroke="#000" stroke-width="0.15">IL2</text>
<text x="136.6" y="483" font-size="4.6" font-weight="bold" text-anchor="middle" fill="#000" transform="rotate(-90 136.6 483)" stroke="#000" stroke-width="0.1">% cells producing cytokines</text>
<text x="142" y="480" font-size="4.8" font-weight="bold" text-anchor="middle" fill="#000" transform="rotate(-90 142 480)" stroke="#000" stroke-width="0.1">within CD8<tspan dy="-1.2" font-size="2.8">+</tspan><tspan dy="1.2">CMV-tetramer<tspan dy="-1.2" font-size="2.8">+</tspan><tspan dy="1.2"> cells</tspan></tspan></text>
<rect x="206" y="449.5" width="5.8" height="4.4" fill="#fff" stroke="#000" stroke-width="1"/>
<text x="214.9" y="453.8" font-size="4.3" font-weight="bold" text-anchor="start" fill="#000">ALC &lt; 40x10<tspan dy="-1.2" font-size="2.8">9</tspan><tspan dy="1.2">/L</tspan></tspan></text>
<rect x="206" y="457" width="5.8" height="4.6" fill="#111" stroke="#000" stroke-width="1"/>
<text x="214.9" y="461.5" font-size="4.3" font-weight="bold" text-anchor="start" fill="#000">ALC ≥ 40x10<tspan dy="-1.2" font-size="2.8">9</tspan><tspan dy="1.2">/L</tspan></tspan></text>
<line x1="293.05" y1="474.3" x2="293.05" y2="465.8" stroke="#000" stroke-width="0.9"/>
<line x1="291.15" y1="465.8" x2="294.95" y2="465.8" stroke="#000" stroke-width="1"/>
<rect x="289.3" y="474.3" width="7.5" height="39.7" fill="#fff" stroke="#000" stroke-width="0.9"/>
<line x1="303.15" y1="472.8" x2="303.15" y2="471.3" stroke="#000" stroke-width="0.9"/>
<line x1="301.25" y1="471.3" x2="305.05" y2="471.3" stroke="#000" stroke-width="1"/>
<rect x="299.3" y="472.8" width="7.7" height="41.2" fill="#111" stroke="#000" stroke-width="0.9"/>
<line x1="325.05" y1="472.5" x2="325.05" y2="466.3" stroke="#000" stroke-width="0.9"/>
<line x1="323.15" y1="466.3" x2="326.95" y2="466.3" stroke="#000" stroke-width="1"/>
<rect x="321.3" y="472.5" width="7.5" height="41.5" fill="#fff" stroke="#000" stroke-width="0.9"/>
<line x1="335.75" y1="473.3" x2="335.75" y2="467.5" stroke="#000" stroke-width="0.9"/>
<line x1="333.85" y1="467.5" x2="337.65" y2="467.5" stroke="#000" stroke-width="1"/>
<rect x="332" y="473.3" width="7.5" height="40.7" fill="#111" stroke="#000" stroke-width="0.9"/>
<line x1="357.8" y1="503" x2="357.8" y2="498.3" stroke="#000" stroke-width="0.9"/>
<line x1="355.9" y1="498.3" x2="359.7" y2="498.3" stroke="#000" stroke-width="1"/>
<rect x="353.8" y="503" width="8" height="11" fill="#fff" stroke="#000" stroke-width="0.9"/>
<line x1="368.25" y1="507" x2="368.25" y2="500.8" stroke="#000" stroke-width="0.9"/>
<line x1="366.35" y1="500.8" x2="370.15" y2="500.8" stroke="#000" stroke-width="1"/>
<rect x="364.5" y="507" width="7.5" height="7" fill="#111" stroke="#000" stroke-width="0.9"/>
<line x1="286.75" y1="455" x2="286.75" y2="514.5" stroke="#000" stroke-width="0.9"/>
<line x1="286.35" y1="514" x2="373.8" y2="514" stroke="#000" stroke-width="0.9"/>
<line x1="284.95" y1="514" x2="286.75" y2="514" stroke="#000" stroke-width="0.7"/>
<text x="284.65" y="515.1" font-size="3.2" font-weight="bold" text-anchor="end" fill="#000" stroke="#000" stroke-width="0.1">0</text>
<line x1="284.95" y1="502.46" x2="286.75" y2="502.46" stroke="#000" stroke-width="0.7"/>
<text x="284.65" y="503.56" font-size="3.2" font-weight="bold" text-anchor="end" fill="#000" stroke="#000" stroke-width="0.1">20</text>
<line x1="284.95" y1="490.92" x2="286.75" y2="490.92" stroke="#000" stroke-width="0.7"/>
<text x="284.65" y="492.02" font-size="3.2" font-weight="bold" text-anchor="end" fill="#000" stroke="#000" stroke-width="0.1">40</text>
<line x1="284.95" y1="479.38" x2="286.75" y2="479.38" stroke="#000" stroke-width="0.7"/>
<text x="284.65" y="480.48" font-size="3.2" font-weight="bold" text-anchor="end" fill="#000" stroke="#000" stroke-width="0.1">60</text>
<line x1="284.95" y1="467.84" x2="286.75" y2="467.84" stroke="#000" stroke-width="0.7"/>
<text x="284.65" y="468.94" font-size="3.2" font-weight="bold" text-anchor="end" fill="#000" stroke="#000" stroke-width="0.1">80</text>
<line x1="284.95" y1="456.3" x2="286.75" y2="456.3" stroke="#000" stroke-width="0.7"/>
<text x="284.65" y="457.4" font-size="3.2" font-weight="bold" text-anchor="end" fill="#000" stroke="#000" stroke-width="0.1">100</text>
<text x="298" y="520.5" font-size="3.6" font-weight="bold" text-anchor="middle" fill="#000" stroke="#000" stroke-width="0.15">IFN</text>
<text x="330.5" y="520.5" font-size="3.6" font-weight="bold" text-anchor="middle" fill="#000" stroke="#000" stroke-width="0.15">TNF</text>
<text x="363" y="520.5" font-size="3.6" font-weight="bold" text-anchor="middle" fill="#000" stroke="#000" stroke-width="0.15">IL2</text>
<text x="263" y="483" font-size="4.6" font-weight="bold" text-anchor="middle" fill="#000" transform="rotate(-90 263 483)" stroke="#000" stroke-width="0.1">% cells producing cytokines</text>
<text x="268.4" y="480" font-size="4.8" font-weight="bold" text-anchor="middle" fill="#000" transform="rotate(-90 268.4 480)" stroke="#000" stroke-width="0.1">within CD8<tspan dy="-1.2" font-size="2.8">+</tspan><tspan dy="1.2">CMV-tetramer<tspan dy="-1.2" font-size="2.8">+</tspan><tspan dy="1.2"> cells</tspan></tspan></text>
<rect x="342.4" y="456.6" width="6" height="3.2" fill="#fff" stroke="#000" stroke-width="1"/>
<text x="351.8" y="459.7" font-size="4.6" font-weight="bold" text-anchor="start" fill="#000">Rai 0-1</text>
<rect x="342.4" y="462.1" width="6" height="3.3" fill="#111" stroke="#000" stroke-width="1"/>
<text x="351.8" y="465.3" font-size="4.6" font-weight="bold" text-anchor="start" fill="#000">Rai 2-4</text>
<line x1="422.05" y1="472" x2="422.05" y2="465.5" stroke="#000" stroke-width="0.9"/>
<line x1="420.15" y1="465.5" x2="423.95" y2="465.5" stroke="#000" stroke-width="1"/>
<rect x="418.3" y="472" width="7.5" height="40.8" fill="#fff" stroke="#000" stroke-width="0.9"/>
<line x1="432.55" y1="476.8" x2="432.55" y2="471.3" stroke="#000" stroke-width="0.9"/>
<line x1="430.65" y1="471.3" x2="434.45" y2="471.3" stroke="#000" stroke-width="1"/>
<rect x="428.8" y="476.8" width="7.5" height="36" fill="#111" stroke="#000" stroke-width="0.9"/>
<line x1="454.25" y1="472.5" x2="454.25" y2="466.3" stroke="#000" stroke-width="0.9"/>
<line x1="452.35" y1="466.3" x2="456.15" y2="466.3" stroke="#000" stroke-width="1"/>
<rect x="450.5" y="472.5" width="7.5" height="40.3" fill="#fff" stroke="#000" stroke-width="0.9"/>
<line x1="465.05" y1="471.3" x2="465.05" y2="468.8" stroke="#000" stroke-width="0.9"/>
<line x1="463.15" y1="468.8" x2="466.95" y2="468.8" stroke="#000" stroke-width="1"/>
<rect x="461.3" y="471.3" width="7.5" height="41.5" fill="#111" stroke="#000" stroke-width="0.9"/>
<line x1="486.25" y1="501.3" x2="486.25" y2="496.3" stroke="#000" stroke-width="0.9"/>
<line x1="484.35" y1="496.3" x2="488.15" y2="496.3" stroke="#000" stroke-width="1"/>
<rect x="482.5" y="501.3" width="7.5" height="11.5" fill="#fff" stroke="#000" stroke-width="0.9"/>
<line x1="496.75" y1="507" x2="496.75" y2="504.5" stroke="#000" stroke-width="0.9"/>
<line x1="494.85" y1="504.5" x2="498.65" y2="504.5" stroke="#000" stroke-width="1"/>
<rect x="493" y="507" width="7.5" height="5.8" fill="#111" stroke="#000" stroke-width="0.9"/>
<line x1="416.25" y1="455" x2="416.25" y2="513.3" stroke="#000" stroke-width="0.9"/>
<line x1="415.85" y1="512.8" x2="502.5" y2="512.8" stroke="#000" stroke-width="0.9"/>
<line x1="414.45" y1="512.8" x2="416.25" y2="512.8" stroke="#000" stroke-width="0.7"/>
<text x="414.15" y="513.9" font-size="3.2" font-weight="bold" text-anchor="end" fill="#000" stroke="#000" stroke-width="0.1">0</text>
<line x1="414.45" y1="501.5" x2="416.25" y2="501.5" stroke="#000" stroke-width="0.7"/>
<text x="414.15" y="502.6" font-size="3.2" font-weight="bold" text-anchor="end" fill="#000" stroke="#000" stroke-width="0.1">20</text>
<line x1="414.45" y1="490.2" x2="416.25" y2="490.2" stroke="#000" stroke-width="0.7"/>
<text x="414.15" y="491.3" font-size="3.2" font-weight="bold" text-anchor="end" fill="#000" stroke="#000" stroke-width="0.1">40</text>
<line x1="414.45" y1="478.9" x2="416.25" y2="478.9" stroke="#000" stroke-width="0.7"/>
<text x="414.15" y="480" font-size="3.2" font-weight="bold" text-anchor="end" fill="#000" stroke="#000" stroke-width="0.1">60</text>
<line x1="414.45" y1="467.6" x2="416.25" y2="467.6" stroke="#000" stroke-width="0.7"/>
<text x="414.15" y="468.7" font-size="3.2" font-weight="bold" text-anchor="end" fill="#000" stroke="#000" stroke-width="0.1">80</text>
<line x1="414.45" y1="456.3" x2="416.25" y2="456.3" stroke="#000" stroke-width="0.7"/>
<text x="414.15" y="457.4" font-size="3.2" font-weight="bold" text-anchor="end" fill="#000" stroke="#000" stroke-width="0.1">100</text>
<text x="430" y="520.5" font-size="3.6" font-weight="bold" text-anchor="middle" fill="#000" stroke="#000" stroke-width="0.15">IFN</text>
<text x="461.3" y="520.5" font-size="3.6" font-weight="bold" text-anchor="middle" fill="#000" stroke="#000" stroke-width="0.15">TNF</text>
<text x="493.8" y="520.5" font-size="3.6" font-weight="bold" text-anchor="middle" fill="#000" stroke="#000" stroke-width="0.15">IL2</text>
<text x="393" y="483" font-size="4.6" font-weight="bold" text-anchor="middle" fill="#000" transform="rotate(-90 393 483)" stroke="#000" stroke-width="0.1">% cells producing cytokines</text>
<text x="398.4" y="480" font-size="4.8" font-weight="bold" text-anchor="middle" fill="#000" transform="rotate(-90 398.4 480)" stroke="#000" stroke-width="0.1">within CD8<tspan dy="-1.2" font-size="2.8">+</tspan><tspan dy="1.2">CMV-tetramer<tspan dy="-1.2" font-size="2.8">+</tspan><tspan dy="1.2"> cells</tspan></tspan></text>
<rect x="468.4" y="450.8" width="6" height="3.3" fill="#fff" stroke="#000" stroke-width="1"/>
<text x="477.9" y="454" font-size="4.35" font-weight="bold" text-anchor="start" fill="#000">IGHV mutated</text>
<rect x="468.4" y="457.6" width="6" height="3.7" fill="#111" stroke="#000" stroke-width="1"/>
<text x="477.9" y="461.2" font-size="4.35" font-weight="bold" text-anchor="start" fill="#000">IGHV unmutated</text>
</svg>
</body></html>
